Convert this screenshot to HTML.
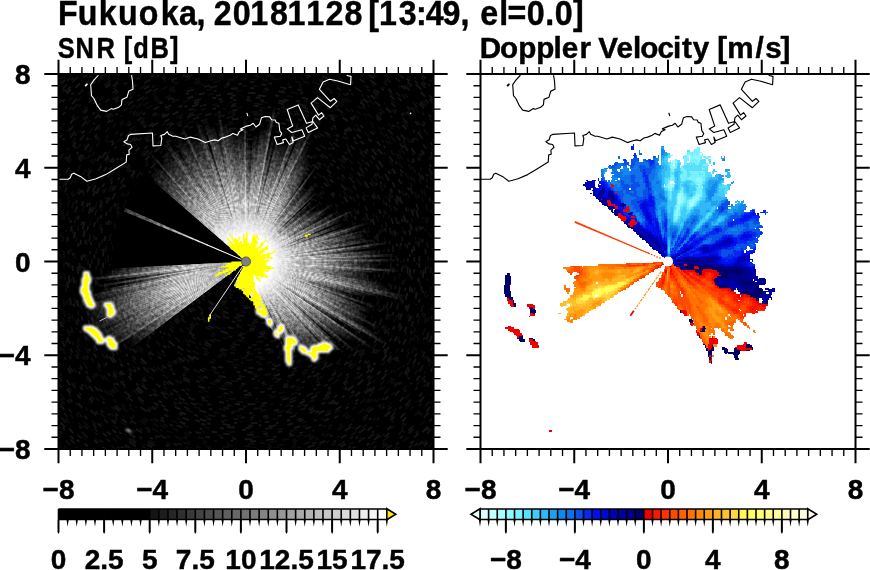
<!DOCTYPE html>
<html><head><meta charset="utf-8"><title>Fukuoka radar</title><style>html,body{margin:0;padding:0;background:#fff}svg{display:block}text{stroke:#000;stroke-width:.45px;stroke-linejoin:round}</style></head><body>
<svg width="870" height="570" viewBox="0 0 870 570" font-family="'Liberation Sans', sans-serif" font-weight="bold" fill="#000">
<rect width="870" height="570" fill="#fff"/>
<text transform="scale(0.92,1)" x="63.0 84.5 107.3 128.4 150.8 174.7 194.5 213.5 225.9 232.3 253.0 272.1 293.5 312.5 332.8 353.7 374.4 397.8 400.2 411.9 433.5 452.1 462.7 481.1 500.5 512.9 522.1 542.6 551.6 572.6 592.6 602.9 622.8" y="25" font-size="35">Fukuoka, 20181128 [13:49, el=0.0]</text>
<text transform="scale(0.877,1)" x="66.0 86.2 110.1 135.4 141.2 151.9 171.7 193.8" y="58" font-size="29">SNR [dB]</text>
<text transform="scale(1.022,1)" x="469.4 489.3 507.1 524.7 541.5 549.7 567.0 582.8 585.5 603.2 619.3 626.5 643.4 658.6 667.2 677.8 698.8 701.7 711.6 739.3 748.7 763.8" y="58" font-size="29">Doppler Velocity [m/s]</text>
<rect x="58.5" y="74.0" width="375.0" height="375.0" fill="#000"/>
<defs>
<radialGradient id="g50" gradientUnits="userSpaceOnUse" cx="246.0" cy="261.5" r="50"><stop offset="0" stop-color="#fff" stop-opacity="1"/><stop offset="0.3" stop-color="#fff" stop-opacity="1"/><stop offset="0.45" stop-color="#fff" stop-opacity="0.87"/><stop offset="0.6" stop-color="#fff" stop-opacity="0.6"/><stop offset="0.75" stop-color="#fff" stop-opacity="0.34"/><stop offset="0.9" stop-color="#fff" stop-opacity="0.13"/><stop offset="1" stop-color="#fff" stop-opacity="0"/></radialGradient>
<radialGradient id="g55" gradientUnits="userSpaceOnUse" cx="246.0" cy="261.5" r="55"><stop offset="0" stop-color="#fff" stop-opacity="1"/><stop offset="0.3" stop-color="#fff" stop-opacity="1"/><stop offset="0.45" stop-color="#fff" stop-opacity="0.87"/><stop offset="0.6" stop-color="#fff" stop-opacity="0.6"/><stop offset="0.75" stop-color="#fff" stop-opacity="0.34"/><stop offset="0.9" stop-color="#fff" stop-opacity="0.13"/><stop offset="1" stop-color="#fff" stop-opacity="0"/></radialGradient>
<radialGradient id="g60" gradientUnits="userSpaceOnUse" cx="246.0" cy="261.5" r="60"><stop offset="0" stop-color="#fff" stop-opacity="1"/><stop offset="0.3" stop-color="#fff" stop-opacity="1"/><stop offset="0.45" stop-color="#fff" stop-opacity="0.87"/><stop offset="0.6" stop-color="#fff" stop-opacity="0.6"/><stop offset="0.75" stop-color="#fff" stop-opacity="0.34"/><stop offset="0.9" stop-color="#fff" stop-opacity="0.13"/><stop offset="1" stop-color="#fff" stop-opacity="0"/></radialGradient>
<radialGradient id="g65" gradientUnits="userSpaceOnUse" cx="246.0" cy="261.5" r="65"><stop offset="0" stop-color="#fff" stop-opacity="1"/><stop offset="0.3" stop-color="#fff" stop-opacity="1"/><stop offset="0.45" stop-color="#fff" stop-opacity="0.87"/><stop offset="0.6" stop-color="#fff" stop-opacity="0.6"/><stop offset="0.75" stop-color="#fff" stop-opacity="0.34"/><stop offset="0.9" stop-color="#fff" stop-opacity="0.13"/><stop offset="1" stop-color="#fff" stop-opacity="0"/></radialGradient>
<radialGradient id="g70" gradientUnits="userSpaceOnUse" cx="246.0" cy="261.5" r="70"><stop offset="0" stop-color="#fff" stop-opacity="1"/><stop offset="0.3" stop-color="#fff" stop-opacity="1"/><stop offset="0.45" stop-color="#fff" stop-opacity="0.87"/><stop offset="0.6" stop-color="#fff" stop-opacity="0.6"/><stop offset="0.75" stop-color="#fff" stop-opacity="0.34"/><stop offset="0.9" stop-color="#fff" stop-opacity="0.13"/><stop offset="1" stop-color="#fff" stop-opacity="0"/></radialGradient>
<radialGradient id="g75" gradientUnits="userSpaceOnUse" cx="246.0" cy="261.5" r="75"><stop offset="0" stop-color="#fff" stop-opacity="1"/><stop offset="0.3" stop-color="#fff" stop-opacity="1"/><stop offset="0.45" stop-color="#fff" stop-opacity="0.87"/><stop offset="0.6" stop-color="#fff" stop-opacity="0.6"/><stop offset="0.75" stop-color="#fff" stop-opacity="0.34"/><stop offset="0.9" stop-color="#fff" stop-opacity="0.13"/><stop offset="1" stop-color="#fff" stop-opacity="0"/></radialGradient>
<radialGradient id="g80" gradientUnits="userSpaceOnUse" cx="246.0" cy="261.5" r="80"><stop offset="0" stop-color="#fff" stop-opacity="1"/><stop offset="0.3" stop-color="#fff" stop-opacity="1"/><stop offset="0.45" stop-color="#fff" stop-opacity="0.87"/><stop offset="0.6" stop-color="#fff" stop-opacity="0.6"/><stop offset="0.75" stop-color="#fff" stop-opacity="0.34"/><stop offset="0.9" stop-color="#fff" stop-opacity="0.13"/><stop offset="1" stop-color="#fff" stop-opacity="0"/></radialGradient>
<radialGradient id="g85" gradientUnits="userSpaceOnUse" cx="246.0" cy="261.5" r="85"><stop offset="0" stop-color="#fff" stop-opacity="1"/><stop offset="0.3" stop-color="#fff" stop-opacity="1"/><stop offset="0.45" stop-color="#fff" stop-opacity="0.87"/><stop offset="0.6" stop-color="#fff" stop-opacity="0.6"/><stop offset="0.75" stop-color="#fff" stop-opacity="0.34"/><stop offset="0.9" stop-color="#fff" stop-opacity="0.13"/><stop offset="1" stop-color="#fff" stop-opacity="0"/></radialGradient>
<radialGradient id="g90" gradientUnits="userSpaceOnUse" cx="246.0" cy="261.5" r="90"><stop offset="0" stop-color="#fff" stop-opacity="1"/><stop offset="0.3" stop-color="#fff" stop-opacity="1"/><stop offset="0.45" stop-color="#fff" stop-opacity="0.87"/><stop offset="0.6" stop-color="#fff" stop-opacity="0.6"/><stop offset="0.75" stop-color="#fff" stop-opacity="0.34"/><stop offset="0.9" stop-color="#fff" stop-opacity="0.13"/><stop offset="1" stop-color="#fff" stop-opacity="0"/></radialGradient>
<radialGradient id="g95" gradientUnits="userSpaceOnUse" cx="246.0" cy="261.5" r="95"><stop offset="0" stop-color="#fff" stop-opacity="1"/><stop offset="0.3" stop-color="#fff" stop-opacity="1"/><stop offset="0.45" stop-color="#fff" stop-opacity="0.87"/><stop offset="0.6" stop-color="#fff" stop-opacity="0.6"/><stop offset="0.75" stop-color="#fff" stop-opacity="0.34"/><stop offset="0.9" stop-color="#fff" stop-opacity="0.13"/><stop offset="1" stop-color="#fff" stop-opacity="0"/></radialGradient>
<radialGradient id="g100" gradientUnits="userSpaceOnUse" cx="246.0" cy="261.5" r="100"><stop offset="0" stop-color="#fff" stop-opacity="1"/><stop offset="0.3" stop-color="#fff" stop-opacity="1"/><stop offset="0.45" stop-color="#fff" stop-opacity="0.87"/><stop offset="0.6" stop-color="#fff" stop-opacity="0.6"/><stop offset="0.75" stop-color="#fff" stop-opacity="0.34"/><stop offset="0.9" stop-color="#fff" stop-opacity="0.13"/><stop offset="1" stop-color="#fff" stop-opacity="0"/></radialGradient>
<radialGradient id="g105" gradientUnits="userSpaceOnUse" cx="246.0" cy="261.5" r="105"><stop offset="0" stop-color="#fff" stop-opacity="1"/><stop offset="0.3" stop-color="#fff" stop-opacity="1"/><stop offset="0.45" stop-color="#fff" stop-opacity="0.87"/><stop offset="0.6" stop-color="#fff" stop-opacity="0.6"/><stop offset="0.75" stop-color="#fff" stop-opacity="0.34"/><stop offset="0.9" stop-color="#fff" stop-opacity="0.13"/><stop offset="1" stop-color="#fff" stop-opacity="0"/></radialGradient>
<radialGradient id="g110" gradientUnits="userSpaceOnUse" cx="246.0" cy="261.5" r="110"><stop offset="0" stop-color="#fff" stop-opacity="1"/><stop offset="0.3" stop-color="#fff" stop-opacity="1"/><stop offset="0.45" stop-color="#fff" stop-opacity="0.87"/><stop offset="0.6" stop-color="#fff" stop-opacity="0.6"/><stop offset="0.75" stop-color="#fff" stop-opacity="0.34"/><stop offset="0.9" stop-color="#fff" stop-opacity="0.13"/><stop offset="1" stop-color="#fff" stop-opacity="0"/></radialGradient>
<radialGradient id="g115" gradientUnits="userSpaceOnUse" cx="246.0" cy="261.5" r="115"><stop offset="0" stop-color="#fff" stop-opacity="1"/><stop offset="0.3" stop-color="#fff" stop-opacity="1"/><stop offset="0.45" stop-color="#fff" stop-opacity="0.87"/><stop offset="0.6" stop-color="#fff" stop-opacity="0.6"/><stop offset="0.75" stop-color="#fff" stop-opacity="0.34"/><stop offset="0.9" stop-color="#fff" stop-opacity="0.13"/><stop offset="1" stop-color="#fff" stop-opacity="0"/></radialGradient>
<radialGradient id="g120" gradientUnits="userSpaceOnUse" cx="246.0" cy="261.5" r="120"><stop offset="0" stop-color="#fff" stop-opacity="1"/><stop offset="0.3" stop-color="#fff" stop-opacity="1"/><stop offset="0.45" stop-color="#fff" stop-opacity="0.87"/><stop offset="0.6" stop-color="#fff" stop-opacity="0.6"/><stop offset="0.75" stop-color="#fff" stop-opacity="0.34"/><stop offset="0.9" stop-color="#fff" stop-opacity="0.13"/><stop offset="1" stop-color="#fff" stop-opacity="0"/></radialGradient>
<radialGradient id="g125" gradientUnits="userSpaceOnUse" cx="246.0" cy="261.5" r="125"><stop offset="0" stop-color="#fff" stop-opacity="1"/><stop offset="0.3" stop-color="#fff" stop-opacity="1"/><stop offset="0.45" stop-color="#fff" stop-opacity="0.87"/><stop offset="0.6" stop-color="#fff" stop-opacity="0.6"/><stop offset="0.75" stop-color="#fff" stop-opacity="0.34"/><stop offset="0.9" stop-color="#fff" stop-opacity="0.13"/><stop offset="1" stop-color="#fff" stop-opacity="0"/></radialGradient>
<radialGradient id="g130" gradientUnits="userSpaceOnUse" cx="246.0" cy="261.5" r="130"><stop offset="0" stop-color="#fff" stop-opacity="1"/><stop offset="0.3" stop-color="#fff" stop-opacity="1"/><stop offset="0.45" stop-color="#fff" stop-opacity="0.87"/><stop offset="0.6" stop-color="#fff" stop-opacity="0.6"/><stop offset="0.75" stop-color="#fff" stop-opacity="0.34"/><stop offset="0.9" stop-color="#fff" stop-opacity="0.13"/><stop offset="1" stop-color="#fff" stop-opacity="0"/></radialGradient>
<radialGradient id="g135" gradientUnits="userSpaceOnUse" cx="246.0" cy="261.5" r="135"><stop offset="0" stop-color="#fff" stop-opacity="1"/><stop offset="0.3" stop-color="#fff" stop-opacity="1"/><stop offset="0.45" stop-color="#fff" stop-opacity="0.87"/><stop offset="0.6" stop-color="#fff" stop-opacity="0.6"/><stop offset="0.75" stop-color="#fff" stop-opacity="0.34"/><stop offset="0.9" stop-color="#fff" stop-opacity="0.13"/><stop offset="1" stop-color="#fff" stop-opacity="0"/></radialGradient>
<radialGradient id="g140" gradientUnits="userSpaceOnUse" cx="246.0" cy="261.5" r="140"><stop offset="0" stop-color="#fff" stop-opacity="1"/><stop offset="0.3" stop-color="#fff" stop-opacity="1"/><stop offset="0.45" stop-color="#fff" stop-opacity="0.87"/><stop offset="0.6" stop-color="#fff" stop-opacity="0.6"/><stop offset="0.75" stop-color="#fff" stop-opacity="0.34"/><stop offset="0.9" stop-color="#fff" stop-opacity="0.13"/><stop offset="1" stop-color="#fff" stop-opacity="0"/></radialGradient>
<radialGradient id="g145" gradientUnits="userSpaceOnUse" cx="246.0" cy="261.5" r="145"><stop offset="0" stop-color="#fff" stop-opacity="1"/><stop offset="0.3" stop-color="#fff" stop-opacity="1"/><stop offset="0.45" stop-color="#fff" stop-opacity="0.87"/><stop offset="0.6" stop-color="#fff" stop-opacity="0.6"/><stop offset="0.75" stop-color="#fff" stop-opacity="0.34"/><stop offset="0.9" stop-color="#fff" stop-opacity="0.13"/><stop offset="1" stop-color="#fff" stop-opacity="0"/></radialGradient>
<radialGradient id="g150" gradientUnits="userSpaceOnUse" cx="246.0" cy="261.5" r="150"><stop offset="0" stop-color="#fff" stop-opacity="1"/><stop offset="0.3" stop-color="#fff" stop-opacity="1"/><stop offset="0.45" stop-color="#fff" stop-opacity="0.87"/><stop offset="0.6" stop-color="#fff" stop-opacity="0.6"/><stop offset="0.75" stop-color="#fff" stop-opacity="0.34"/><stop offset="0.9" stop-color="#fff" stop-opacity="0.13"/><stop offset="1" stop-color="#fff" stop-opacity="0"/></radialGradient>
<radialGradient id="g155" gradientUnits="userSpaceOnUse" cx="246.0" cy="261.5" r="155"><stop offset="0" stop-color="#fff" stop-opacity="1"/><stop offset="0.3" stop-color="#fff" stop-opacity="1"/><stop offset="0.45" stop-color="#fff" stop-opacity="0.87"/><stop offset="0.6" stop-color="#fff" stop-opacity="0.6"/><stop offset="0.75" stop-color="#fff" stop-opacity="0.34"/><stop offset="0.9" stop-color="#fff" stop-opacity="0.13"/><stop offset="1" stop-color="#fff" stop-opacity="0"/></radialGradient>
<radialGradient id="g160" gradientUnits="userSpaceOnUse" cx="246.0" cy="261.5" r="160"><stop offset="0" stop-color="#fff" stop-opacity="1"/><stop offset="0.3" stop-color="#fff" stop-opacity="1"/><stop offset="0.45" stop-color="#fff" stop-opacity="0.87"/><stop offset="0.6" stop-color="#fff" stop-opacity="0.6"/><stop offset="0.75" stop-color="#fff" stop-opacity="0.34"/><stop offset="0.9" stop-color="#fff" stop-opacity="0.13"/><stop offset="1" stop-color="#fff" stop-opacity="0"/></radialGradient>
<radialGradient id="g165" gradientUnits="userSpaceOnUse" cx="246.0" cy="261.5" r="165"><stop offset="0" stop-color="#fff" stop-opacity="1"/><stop offset="0.3" stop-color="#fff" stop-opacity="1"/><stop offset="0.45" stop-color="#fff" stop-opacity="0.87"/><stop offset="0.6" stop-color="#fff" stop-opacity="0.6"/><stop offset="0.75" stop-color="#fff" stop-opacity="0.34"/><stop offset="0.9" stop-color="#fff" stop-opacity="0.13"/><stop offset="1" stop-color="#fff" stop-opacity="0"/></radialGradient>
<radialGradient id="g170" gradientUnits="userSpaceOnUse" cx="246.0" cy="261.5" r="170"><stop offset="0" stop-color="#fff" stop-opacity="1"/><stop offset="0.3" stop-color="#fff" stop-opacity="1"/><stop offset="0.45" stop-color="#fff" stop-opacity="0.87"/><stop offset="0.6" stop-color="#fff" stop-opacity="0.6"/><stop offset="0.75" stop-color="#fff" stop-opacity="0.34"/><stop offset="0.9" stop-color="#fff" stop-opacity="0.13"/><stop offset="1" stop-color="#fff" stop-opacity="0"/></radialGradient>
<radialGradient id="core" gradientUnits="userSpaceOnUse" cx="246.0" cy="261.5" r="52"><stop offset="0" stop-color="#fff" stop-opacity="1"/><stop offset="0.5" stop-color="#fff" stop-opacity="1"/><stop offset="0.75" stop-color="#fff" stop-opacity="0.5"/><stop offset="1" stop-color="#fff" stop-opacity="0"/></radialGradient>
<clipPath id="cm"><polygon points="246.0,261.5 233.6,285.5 240.0,287.5 249.0,293.5 254.0,302.0 260.0,312.0 268.0,324.0 279.0,339.5 285.0,352.0 288.5,366.0 292.0,366.0 296.0,345.0 302.0,350.0 306.0,354.0 311.0,354.0 315.0,358.0 317.0,362.0 321.0,352.0 331.0,350.0 345.0,350.0 470.0,420.0 470.0,60.0 40.0,60.0 40.0,200.0"/></clipPath>
<clipPath id="cpl"><rect x="58.5" y="74.0" width="375.0" height="375.0"/></clipPath>
<filter id="grain" x="0" y="0" width="100%" height="100%" filterUnits="objectBoundingBox" color-interpolation-filters="sRGB"><feTurbulence type="fractalNoise" baseFrequency="0.33" numOctaves="2" seed="3" result="n"/><feColorMatrix in="n" type="matrix" values="2.2 0 0 0 -0.6  2.2 0 0 0 -0.6  2.2 0 0 0 -0.6  0 0 0 0 1" result="n1"/><feGaussianBlur in="SourceGraphic" stdDeviation="0.7" result="sg"/><feComposite in="sg" in2="sg" operator="arithmetic" k1="1" result="sq"/><feComposite in="sg" in2="sq" operator="arithmetic" k2="1" k3="-1" result="d"/><feComposite in="d" in2="n1" operator="arithmetic" k1="1" result="nd"/><feComposite in="sg" in2="d" operator="arithmetic" k2="1" k3="-0.5" result="o1"/><feComposite in="o1" in2="nd" operator="arithmetic" k2="1" k3="1.0"/></filter>
<filter id="bgn" x="0" y="0" width="100%" height="100%" color-interpolation-filters="sRGB"><feTurbulence type="fractalNoise" baseFrequency="0.38" numOctaves="2" seed="9" result="n"/><feColorMatrix in="n" type="matrix" values="1.6 0 0 0 -0.68  1.6 0 0 0 -0.68  1.6 0 0 0 -0.68  0 0 0 0 1"/></filter>
<filter id="soft" x="0" y="0" width="100%" height="100%"><feGaussianBlur stdDeviation="0.75"/></filter>
<filter id="halo" x="-20%" y="-20%" width="140%" height="140%"><feGaussianBlur stdDeviation="0.9"/></filter>
</defs>
<g clip-path="url(#cpl)">
<g fill="none" stroke-width="1.9" filter="url(#soft)" opacity="0.8">
<circle cx="246.0" cy="261.5" r="14.0" stroke="#181818" stroke-dasharray="2.7 10.5 5.9 16.0 4.4 8.7 7.5 20.9 7.1 6.9 7.1 14.7 3.8 7.3" stroke-dashoffset="43"/>
<circle cx="246.0" cy="261.5" r="16.6" stroke="#1e1e1e" stroke-dasharray="2.8 10.1 7.7 9.8 4.0 11.9 7.0 13.6 4.0 10.8 7.9 8.1 3.8 16.7" stroke-dashoffset="23"/>
<circle cx="246.0" cy="261.5" r="18.8" stroke="#181818" stroke-dasharray="6.1 19.8 6.4 15.3 3.4 15.7 3.2 18.3 6.7 9.5 5.9 19.8 4.9 5.4" stroke-dashoffset="30"/>
<circle cx="246.0" cy="261.5" r="20.9" stroke="#0c0c0c" stroke-dasharray="4.2 10.1 2.5 14.9 6.5 11.9 3.4 8.6 6.7 11.1 4.6 17.8 7.3 17.7" stroke-dashoffset="24"/>
<circle cx="246.0" cy="261.5" r="23.0" stroke="#1e1e1e" stroke-dasharray="6.0 5.5 4.6 5.3 3.9 6.3 5.5 7.7 7.4 21.1 3.7 9.0 7.7 7.4" stroke-dashoffset="39"/>
<circle cx="246.0" cy="261.5" r="25.5" stroke="#181818" stroke-dasharray="5.5 5.3 4.9 12.9 4.3 15.5 3.8 7.6 4.6 15.8 4.5 14.4 6.8 16.6" stroke-dashoffset="54"/>
<circle cx="246.0" cy="261.5" r="27.9" stroke="#121212" stroke-dasharray="4.5 12.0 3.9 18.7 2.9 6.7 3.9 9.5 3.6 19.5 4.3 15.3 2.9 5.5" stroke-dashoffset="14"/>
<circle cx="246.0" cy="261.5" r="30.1" stroke="#121212" stroke-dasharray="6.0 9.9 2.6 6.3 7.0 19.8 6.4 10.3 3.4 15.8 6.7 21.8 6.3 17.1" stroke-dashoffset="41"/>
<circle cx="246.0" cy="261.5" r="32.7" stroke="#0c0c0c" stroke-dasharray="2.7 17.0 5.2 14.3 4.7 19.1 7.2 8.9 6.1 9.2 6.8 8.4 6.6 21.4" stroke-dashoffset="0"/>
<circle cx="246.0" cy="261.5" r="34.6" stroke="#0c0c0c" stroke-dasharray="7.1 16.9 5.6 5.6 6.2 8.7 6.7 14.2 3.1 10.4 4.9 21.6 2.7 21.7" stroke-dashoffset="52"/>
<circle cx="246.0" cy="261.5" r="36.4" stroke="#101010" stroke-dasharray="4.5 9.0 3.6 20.8 2.9 13.4 2.7 13.8 4.3 7.2 3.7 9.3 2.6 13.4" stroke-dashoffset="12"/>
<circle cx="246.0" cy="261.5" r="38.9" stroke="#121212" stroke-dasharray="3.0 20.2 6.5 13.7 6.2 14.0 7.1 5.7 7.7 19.0 3.3 15.9 7.0 21.3" stroke-dashoffset="28"/>
<circle cx="246.0" cy="261.5" r="41.4" stroke="#121212" stroke-dasharray="4.9 10.9 4.4 21.2 6.0 11.9 4.5 11.7 7.8 17.0 3.1 6.7 3.1 14.0" stroke-dashoffset="25"/>
<circle cx="246.0" cy="261.5" r="43.9" stroke="#0c0c0c" stroke-dasharray="7.0 13.8 2.7 6.5 7.2 10.8 6.5 15.6 5.0 11.1 3.3 8.0 7.4 7.8" stroke-dashoffset="46"/>
<circle cx="246.0" cy="261.5" r="46.2" stroke="#1a1a1a" stroke-dasharray="5.1 17.7 4.6 20.2 3.5 21.8 3.7 5.4 7.2 18.1 4.2 15.9 2.5 20.6" stroke-dashoffset="14"/>
<circle cx="246.0" cy="261.5" r="48.4" stroke="#0c0c0c" stroke-dasharray="3.4 9.2 6.5 11.6 4.2 19.0 6.5 13.7 2.7 16.1 5.4 16.7 6.8 14.4" stroke-dashoffset="51"/>
<circle cx="246.0" cy="261.5" r="50.3" stroke="#0c0c0c" stroke-dasharray="6.8 20.4 5.2 14.5 4.2 14.6 7.6 14.1 7.9 6.8 5.3 12.3 5.5 18.5" stroke-dashoffset="24"/>
<circle cx="246.0" cy="261.5" r="52.7" stroke="#0c0c0c" stroke-dasharray="5.4 16.8 3.1 14.6 5.2 16.8 3.3 16.5 3.3 17.7 4.9 18.8 7.4 20.0" stroke-dashoffset="14"/>
<circle cx="246.0" cy="261.5" r="54.6" stroke="#1a1a1a" stroke-dasharray="5.4 10.9 7.1 5.8 7.3 13.8 6.4 9.8 2.6 5.5 4.3 20.4 7.7 8.7" stroke-dashoffset="12"/>
<circle cx="246.0" cy="261.5" r="57.0" stroke="#121212" stroke-dasharray="6.7 17.4 6.2 8.6 4.2 8.6 4.2 7.8 6.5 12.1 5.8 14.7 4.6 14.2" stroke-dashoffset="50"/>
<circle cx="246.0" cy="261.5" r="59.3" stroke="#181818" stroke-dasharray="4.1 12.4 4.5 7.6 7.0 12.0 5.1 16.3 3.3 6.8 7.4 7.8 3.1 5.7" stroke-dashoffset="22"/>
<circle cx="246.0" cy="261.5" r="61.6" stroke="#1a1a1a" stroke-dasharray="3.8 12.0 6.7 17.9 7.7 18.9 4.8 13.3 5.5 15.2 5.0 18.3 6.3 16.8" stroke-dashoffset="45"/>
<circle cx="246.0" cy="261.5" r="63.8" stroke="#121212" stroke-dasharray="4.6 6.2 7.5 7.8 3.1 21.7 5.0 19.6 2.9 11.0 7.6 12.5 3.8 11.0" stroke-dashoffset="44"/>
<circle cx="246.0" cy="261.5" r="65.7" stroke="#121212" stroke-dasharray="5.2 11.3 7.7 9.9 7.4 13.6 4.6 18.7 7.0 11.0 6.6 7.9 6.4 20.1" stroke-dashoffset="4"/>
<circle cx="246.0" cy="261.5" r="68.0" stroke="#1e1e1e" stroke-dasharray="4.9 13.7 5.5 15.9 5.9 19.2 2.9 5.8 3.1 10.7 4.4 11.1 2.6 11.4" stroke-dashoffset="38"/>
<circle cx="246.0" cy="261.5" r="70.1" stroke="#101010" stroke-dasharray="7.9 20.5 3.4 20.4 5.8 5.5 5.0 8.2 3.0 19.2 5.1 16.9 7.8 13.1" stroke-dashoffset="40"/>
<circle cx="246.0" cy="261.5" r="72.2" stroke="#121212" stroke-dasharray="7.5 13.0 5.9 19.3 6.8 9.2 6.2 9.9 4.2 17.3 4.3 18.0 2.5 9.3" stroke-dashoffset="40"/>
<circle cx="246.0" cy="261.5" r="74.2" stroke="#1e1e1e" stroke-dasharray="5.7 18.1 3.8 10.5 7.7 7.5 5.8 9.7 4.4 7.4 4.3 16.7 7.5 10.4" stroke-dashoffset="23"/>
<circle cx="246.0" cy="261.5" r="76.7" stroke="#181818" stroke-dasharray="3.7 5.6 5.6 7.7 6.5 13.7 3.5 8.3 4.4 18.6 6.0 11.6 4.1 11.9" stroke-dashoffset="32"/>
<circle cx="246.0" cy="261.5" r="79.3" stroke="#101010" stroke-dasharray="7.7 12.4 5.5 12.3 2.8 21.0 7.0 9.3 4.7 7.1 4.6 15.7 3.4 10.8" stroke-dashoffset="59"/>
<circle cx="246.0" cy="261.5" r="81.6" stroke="#101010" stroke-dasharray="6.9 20.4 3.2 19.1 4.1 17.5 5.3 21.2 3.9 6.1 4.1 16.4 2.7 20.8" stroke-dashoffset="41"/>
<circle cx="246.0" cy="261.5" r="83.8" stroke="#121212" stroke-dasharray="5.6 13.8 4.9 12.7 7.2 12.5 7.7 21.9 5.1 9.0 5.0 13.5 5.2 6.9" stroke-dashoffset="30"/>
<circle cx="246.0" cy="261.5" r="86.2" stroke="#181818" stroke-dasharray="4.3 15.2 3.5 14.2 3.4 12.5 5.1 16.9 5.2 19.6 3.5 6.9 5.7 11.5" stroke-dashoffset="35"/>
<circle cx="246.0" cy="261.5" r="88.7" stroke="#101010" stroke-dasharray="7.6 17.5 7.4 22.0 3.6 15.3 7.5 8.5 6.3 6.0 5.1 19.4 7.0 17.4" stroke-dashoffset="27"/>
<circle cx="246.0" cy="261.5" r="90.6" stroke="#1a1a1a" stroke-dasharray="6.6 13.6 5.3 5.7 3.4 5.4 5.6 15.6 3.1 20.1 6.1 9.9 7.2 12.4" stroke-dashoffset="43"/>
<circle cx="246.0" cy="261.5" r="92.6" stroke="#121212" stroke-dasharray="4.0 18.9 5.9 6.3 3.9 5.2 5.6 12.2 4.7 6.9 4.5 8.2 7.8 10.3" stroke-dashoffset="10"/>
<circle cx="246.0" cy="261.5" r="94.4" stroke="#101010" stroke-dasharray="2.7 18.3 5.8 21.4 3.4 18.4 6.0 11.4 3.8 11.1 4.8 12.3 7.4 20.2" stroke-dashoffset="1"/>
<circle cx="246.0" cy="261.5" r="96.4" stroke="#101010" stroke-dasharray="8.0 16.3 7.9 8.4 5.4 14.9 7.8 11.3 6.1 8.1 7.4 20.6 6.2 19.7" stroke-dashoffset="38"/>
<circle cx="246.0" cy="261.5" r="98.9" stroke="#101010" stroke-dasharray="6.4 10.9 5.6 7.8 6.2 5.2 4.8 6.3 5.9 14.7 5.7 5.7 7.5 6.7" stroke-dashoffset="37"/>
<circle cx="246.0" cy="261.5" r="101.4" stroke="#121212" stroke-dasharray="3.3 17.2 4.1 12.8 2.7 7.2 7.2 19.6 4.3 15.3 3.7 17.8 5.8 17.3" stroke-dashoffset="14"/>
<circle cx="246.0" cy="261.5" r="103.9" stroke="#101010" stroke-dasharray="6.2 17.1 4.7 16.5 4.9 5.3 4.3 18.9 7.9 15.6 3.8 14.8 6.8 15.5" stroke-dashoffset="50"/>
<circle cx="246.0" cy="261.5" r="106.5" stroke="#121212" stroke-dasharray="3.6 8.7 7.1 16.1 3.0 18.8 4.9 11.8 3.4 19.8 5.4 20.3 4.8 21.5" stroke-dashoffset="47"/>
<circle cx="246.0" cy="261.5" r="108.8" stroke="#1a1a1a" stroke-dasharray="6.3 12.0 5.2 10.5 3.6 20.9 5.0 20.7 6.0 11.6 7.6 16.8 2.6 9.7" stroke-dashoffset="3"/>
<circle cx="246.0" cy="261.5" r="110.8" stroke="#1e1e1e" stroke-dasharray="2.7 18.2 4.0 19.2 5.3 7.4 3.6 20.3 5.1 19.2 7.8 15.8 7.6 10.8" stroke-dashoffset="24"/>
<circle cx="246.0" cy="261.5" r="113.2" stroke="#101010" stroke-dasharray="3.5 5.9 4.1 19.7 7.3 5.7 6.6 18.8 3.0 19.2 5.5 9.3 4.2 13.0" stroke-dashoffset="53"/>
<circle cx="246.0" cy="261.5" r="115.1" stroke="#121212" stroke-dasharray="5.4 7.3 5.3 14.0 7.5 16.9 2.9 17.6 6.6 5.4 5.1 8.3 7.0 19.5" stroke-dashoffset="50"/>
<circle cx="246.0" cy="261.5" r="117.6" stroke="#1e1e1e" stroke-dasharray="4.2 14.1 6.7 18.9 3.0 11.0 3.5 11.2 7.5 15.4 4.7 17.5 6.9 15.4" stroke-dashoffset="8"/>
<circle cx="246.0" cy="261.5" r="120.1" stroke="#101010" stroke-dasharray="6.8 20.6 6.8 15.5 5.2 11.5 3.1 18.8 7.9 8.4 5.7 17.2 8.0 12.4" stroke-dashoffset="40"/>
<circle cx="246.0" cy="261.5" r="122.5" stroke="#1a1a1a" stroke-dasharray="4.9 9.1 5.8 6.3 4.7 7.7 5.1 15.5 6.9 7.2 4.0 12.2 3.8 15.5" stroke-dashoffset="25"/>
<circle cx="246.0" cy="261.5" r="124.4" stroke="#0c0c0c" stroke-dasharray="4.2 8.7 7.5 5.8 5.5 9.1 7.6 10.9 3.8 9.0 5.5 7.9 5.2 17.2" stroke-dashoffset="19"/>
<circle cx="246.0" cy="261.5" r="126.7" stroke="#0c0c0c" stroke-dasharray="5.5 9.2 5.9 11.8 3.1 10.9 6.2 5.6 6.4 6.4 5.4 13.6 3.0 13.4" stroke-dashoffset="42"/>
<circle cx="246.0" cy="261.5" r="129.3" stroke="#181818" stroke-dasharray="3.1 13.4 4.6 8.5 4.3 11.9 4.6 20.0 4.6 16.6 7.1 20.3 4.6 11.4" stroke-dashoffset="4"/>
<circle cx="246.0" cy="261.5" r="131.5" stroke="#181818" stroke-dasharray="4.0 21.1 5.2 18.5 5.3 9.1 3.5 14.1 3.6 20.1 2.5 18.9 7.6 11.8" stroke-dashoffset="7"/>
<circle cx="246.0" cy="261.5" r="133.5" stroke="#1a1a1a" stroke-dasharray="7.5 9.0 3.8 7.2 5.2 15.3 3.6 20.1 7.8 15.9 4.7 19.5 7.0 9.2" stroke-dashoffset="4"/>
<circle cx="246.0" cy="261.5" r="135.9" stroke="#0c0c0c" stroke-dasharray="2.9 19.7 3.2 11.8 6.5 6.5 5.8 16.8 6.0 18.7 3.2 13.9 6.5 21.1" stroke-dashoffset="6"/>
<circle cx="246.0" cy="261.5" r="138.1" stroke="#101010" stroke-dasharray="7.9 14.1 7.9 20.5 7.9 11.1 2.5 20.1 7.2 6.7 4.7 15.7 3.4 18.6" stroke-dashoffset="13"/>
<circle cx="246.0" cy="261.5" r="140.5" stroke="#0c0c0c" stroke-dasharray="4.9 16.1 3.2 17.0 4.1 20.6 7.0 5.4 6.7 20.4 4.3 12.2 7.4 6.3" stroke-dashoffset="34"/>
<circle cx="246.0" cy="261.5" r="142.9" stroke="#1e1e1e" stroke-dasharray="6.7 15.6 5.2 6.5 7.8 7.6 5.0 11.3 4.9 14.5 3.8 17.6 3.1 9.9" stroke-dashoffset="58"/>
<circle cx="246.0" cy="261.5" r="145.0" stroke="#121212" stroke-dasharray="4.1 10.7 5.1 18.7 7.4 13.3 3.9 18.4 7.4 17.1 2.5 5.5 4.7 13.7" stroke-dashoffset="38"/>
<circle cx="246.0" cy="261.5" r="147.5" stroke="#181818" stroke-dasharray="4.9 9.8 5.4 12.2 4.3 13.3 6.9 11.2 6.7 7.5 2.8 18.4 7.9 10.3" stroke-dashoffset="9"/>
<circle cx="246.0" cy="261.5" r="149.9" stroke="#101010" stroke-dasharray="7.8 6.5 7.5 15.6 7.1 16.1 5.4 10.6 3.6 12.4 5.8 18.7 5.8 21.0" stroke-dashoffset="46"/>
<circle cx="246.0" cy="261.5" r="151.7" stroke="#1a1a1a" stroke-dasharray="5.0 21.4 3.9 14.7 2.8 19.2 3.7 12.8 6.4 6.4 6.3 6.6 3.3 11.5" stroke-dashoffset="43"/>
<circle cx="246.0" cy="261.5" r="154.2" stroke="#101010" stroke-dasharray="6.9 5.5 2.8 5.3 7.6 21.4 3.5 10.3 5.2 17.8 6.1 13.0 6.2 6.0" stroke-dashoffset="52"/>
<circle cx="246.0" cy="261.5" r="156.0" stroke="#1a1a1a" stroke-dasharray="5.1 9.2 3.4 5.8 3.5 15.1 4.9 15.3 7.3 18.9 3.7 15.1 4.8 17.8" stroke-dashoffset="37"/>
<circle cx="246.0" cy="261.5" r="158.0" stroke="#121212" stroke-dasharray="6.4 7.5 3.4 7.1 5.4 8.1 4.8 11.0 3.2 12.0 5.0 17.8 7.7 19.1" stroke-dashoffset="50"/>
<circle cx="246.0" cy="261.5" r="160.0" stroke="#0c0c0c" stroke-dasharray="4.0 15.0 4.8 9.5 5.3 15.1 4.1 12.8 7.8 10.9 3.6 16.0 6.0 10.4" stroke-dashoffset="16"/>
<circle cx="246.0" cy="261.5" r="161.8" stroke="#1a1a1a" stroke-dasharray="4.2 14.3 6.1 21.2 4.7 7.0 6.8 13.9 3.4 9.5 3.6 10.0 4.2 9.4" stroke-dashoffset="52"/>
<circle cx="246.0" cy="261.5" r="164.3" stroke="#1e1e1e" stroke-dasharray="2.8 5.7 4.9 18.2 7.4 16.7 6.6 14.7 6.5 20.5 3.4 8.6 2.8 14.4" stroke-dashoffset="24"/>
<circle cx="246.0" cy="261.5" r="166.4" stroke="#1e1e1e" stroke-dasharray="7.9 16.9 3.1 7.4 5.0 13.9 3.9 15.2 4.5 21.8 8.0 17.8 5.4 10.4" stroke-dashoffset="10"/>
<circle cx="246.0" cy="261.5" r="168.5" stroke="#1e1e1e" stroke-dasharray="3.7 17.9 3.9 15.4 4.0 12.6 7.0 15.8 4.9 6.3 5.7 15.2 7.4 19.7" stroke-dashoffset="14"/>
<circle cx="246.0" cy="261.5" r="171.0" stroke="#0c0c0c" stroke-dasharray="5.8 13.8 7.4 18.0 6.9 22.0 6.1 20.7 4.6 20.1 6.1 11.4 4.3 6.7" stroke-dashoffset="48"/>
<circle cx="246.0" cy="261.5" r="173.4" stroke="#1e1e1e" stroke-dasharray="5.8 9.8 2.5 14.9 6.4 12.3 4.4 10.1 4.7 9.8 6.7 17.4 6.5 5.7" stroke-dashoffset="50"/>
<circle cx="246.0" cy="261.5" r="175.5" stroke="#0c0c0c" stroke-dasharray="6.9 21.3 4.4 5.9 7.4 17.1 2.6 9.5 6.0 11.3 3.9 13.9 5.5 6.3" stroke-dashoffset="20"/>
<circle cx="246.0" cy="261.5" r="177.7" stroke="#1a1a1a" stroke-dasharray="3.1 12.4 3.2 21.1 7.8 8.5 4.1 8.6 3.9 19.1 5.5 14.0 6.2 14.4" stroke-dashoffset="31"/>
<circle cx="246.0" cy="261.5" r="179.8" stroke="#1a1a1a" stroke-dasharray="7.7 10.1 6.4 17.0 2.6 20.5 4.6 14.3 3.3 16.8 3.6 5.7 4.9 15.6" stroke-dashoffset="12"/>
<circle cx="246.0" cy="261.5" r="182.2" stroke="#101010" stroke-dasharray="4.5 5.3 6.5 19.4 2.6 9.3 3.3 9.7 6.6 7.8 7.3 5.0 7.0 5.2" stroke-dashoffset="31"/>
<circle cx="246.0" cy="261.5" r="184.7" stroke="#101010" stroke-dasharray="3.3 17.3 5.4 11.6 6.2 20.5 4.5 14.9 4.4 19.5 6.7 8.4 3.9 21.9" stroke-dashoffset="32"/>
<circle cx="246.0" cy="261.5" r="186.8" stroke="#0c0c0c" stroke-dasharray="7.3 5.2 4.7 11.9 6.2 21.0 5.8 17.1 4.0 15.5 5.3 11.4 5.0 8.8" stroke-dashoffset="4"/>
<circle cx="246.0" cy="261.5" r="189.0" stroke="#101010" stroke-dasharray="6.6 21.3 4.6 10.6 7.5 18.1 5.1 16.3 3.6 5.6 7.3 13.8 2.7 13.9" stroke-dashoffset="11"/>
<circle cx="246.0" cy="261.5" r="191.4" stroke="#101010" stroke-dasharray="6.7 14.7 2.7 9.1 7.7 7.8 6.8 5.6 4.0 5.2 7.3 7.0 5.3 6.5" stroke-dashoffset="28"/>
<circle cx="246.0" cy="261.5" r="194.0" stroke="#181818" stroke-dasharray="4.6 12.0 7.6 10.9 5.7 15.1 2.7 11.6 7.5 19.1 4.0 18.7 3.6 14.2" stroke-dashoffset="42"/>
<circle cx="246.0" cy="261.5" r="196.0" stroke="#1a1a1a" stroke-dasharray="5.9 5.7 7.2 8.7 3.9 15.3 4.5 6.8 2.6 13.6 6.2 14.3 7.5 21.9" stroke-dashoffset="22"/>
<circle cx="246.0" cy="261.5" r="198.0" stroke="#0c0c0c" stroke-dasharray="7.8 14.8 6.2 9.1 3.3 13.8 4.2 7.8 3.9 5.6 2.9 9.6 4.9 9.8" stroke-dashoffset="50"/>
<circle cx="246.0" cy="261.5" r="200.4" stroke="#1a1a1a" stroke-dasharray="3.2 9.8 7.0 10.5 6.4 5.1 3.1 15.0 2.9 14.1 6.6 14.9 3.1 14.4" stroke-dashoffset="53"/>
<circle cx="246.0" cy="261.5" r="202.9" stroke="#101010" stroke-dasharray="6.2 13.9 5.5 16.8 6.1 16.4 3.3 7.1 6.4 5.9 7.6 16.9 5.3 11.1" stroke-dashoffset="15"/>
<circle cx="246.0" cy="261.5" r="205.4" stroke="#181818" stroke-dasharray="7.0 13.8 2.5 6.3 2.8 19.8 4.2 12.4 3.2 14.4 7.7 6.7 3.3 6.8" stroke-dashoffset="2"/>
<circle cx="246.0" cy="261.5" r="207.9" stroke="#1e1e1e" stroke-dasharray="3.9 16.2 5.7 21.2 5.4 14.2 7.1 16.7 5.7 11.3 2.7 11.8 5.3 10.7" stroke-dashoffset="37"/>
<circle cx="246.0" cy="261.5" r="210.4" stroke="#0c0c0c" stroke-dasharray="3.0 18.1 2.9 5.9 6.2 5.9 3.2 7.5 6.1 10.0 7.6 12.4 5.5 19.7" stroke-dashoffset="41"/>
<circle cx="246.0" cy="261.5" r="212.5" stroke="#181818" stroke-dasharray="3.2 14.3 5.2 8.1 4.0 21.1 3.5 5.8 6.6 21.1 3.2 8.2 7.9 8.9" stroke-dashoffset="18"/>
<circle cx="246.0" cy="261.5" r="214.9" stroke="#1a1a1a" stroke-dasharray="3.7 21.5 8.0 15.7 5.3 21.5 7.7 14.7 5.3 12.2 6.2 15.6 5.5 8.7" stroke-dashoffset="27"/>
<circle cx="246.0" cy="261.5" r="217.3" stroke="#101010" stroke-dasharray="7.4 16.5 2.9 17.5 3.6 20.7 5.6 12.6 4.8 19.4 3.7 16.6 7.3 21.1" stroke-dashoffset="5"/>
<circle cx="246.0" cy="261.5" r="219.7" stroke="#1e1e1e" stroke-dasharray="6.0 17.2 5.0 7.8 4.8 21.7 6.4 12.3 5.7 9.1 7.5 6.1 2.8 8.4" stroke-dashoffset="16"/>
<circle cx="246.0" cy="261.5" r="221.6" stroke="#0c0c0c" stroke-dasharray="6.0 21.5 5.8 20.1 4.2 5.5 5.3 20.9 5.1 8.7 5.9 5.0 7.7 8.4" stroke-dashoffset="35"/>
<circle cx="246.0" cy="261.5" r="223.5" stroke="#1a1a1a" stroke-dasharray="4.1 18.5 4.0 14.1 7.7 20.4 5.3 17.1 6.3 17.5 5.0 8.0 5.1 8.0" stroke-dashoffset="37"/>
<circle cx="246.0" cy="261.5" r="225.8" stroke="#121212" stroke-dasharray="4.8 19.1 4.6 21.7 4.3 15.9 7.8 8.5 5.1 11.0 5.5 15.5 6.8 11.6" stroke-dashoffset="13"/>
<circle cx="246.0" cy="261.5" r="228.2" stroke="#101010" stroke-dasharray="7.3 17.1 3.8 7.2 7.6 8.2 3.7 18.0 6.9 11.8 7.8 21.4 3.3 11.4" stroke-dashoffset="47"/>
<circle cx="246.0" cy="261.5" r="230.6" stroke="#121212" stroke-dasharray="5.3 17.7 5.1 6.6 6.9 7.0 3.3 21.3 7.5 14.0 6.1 19.3 4.7 15.5" stroke-dashoffset="25"/>
<circle cx="246.0" cy="261.5" r="232.8" stroke="#0c0c0c" stroke-dasharray="7.7 5.0 5.5 12.0 3.2 21.0 3.0 18.2 4.5 8.2 5.4 21.3 5.9 16.2" stroke-dashoffset="2"/>
<circle cx="246.0" cy="261.5" r="234.6" stroke="#1a1a1a" stroke-dasharray="4.9 16.6 3.9 21.7 5.9 19.8 6.4 7.8 3.8 10.2 7.5 20.8 4.3 6.1" stroke-dashoffset="30"/>
<circle cx="246.0" cy="261.5" r="236.8" stroke="#181818" stroke-dasharray="7.8 16.8 7.8 20.6 5.7 5.9 7.4 15.3 6.5 13.3 3.2 16.3 7.1 7.0" stroke-dashoffset="42"/>
<circle cx="246.0" cy="261.5" r="239.2" stroke="#0c0c0c" stroke-dasharray="6.0 6.3 5.3 11.3 7.7 9.0 5.6 18.8 5.5 17.1 6.9 7.4 8.0 10.5" stroke-dashoffset="21"/>
<circle cx="246.0" cy="261.5" r="241.6" stroke="#181818" stroke-dasharray="7.5 15.8 5.9 20.6 2.6 21.6 3.2 21.6 5.4 5.3 6.4 18.9 4.5 16.6" stroke-dashoffset="42"/>
<circle cx="246.0" cy="261.5" r="243.4" stroke="#1e1e1e" stroke-dasharray="3.1 6.4 6.5 20.0 6.5 6.0 6.0 9.1 3.1 16.1 4.0 15.6 6.2 19.3" stroke-dashoffset="40"/>
<circle cx="246.0" cy="261.5" r="245.5" stroke="#1e1e1e" stroke-dasharray="7.7 18.3 3.3 17.0 7.0 20.9 7.8 12.4 4.7 10.4 5.1 7.6 5.9 17.3" stroke-dashoffset="39"/>
<circle cx="246.0" cy="261.5" r="247.5" stroke="#1a1a1a" stroke-dasharray="7.5 16.2 4.4 16.4 7.7 16.6 4.9 7.8 3.6 20.4 4.3 10.4 3.7 12.4" stroke-dashoffset="35"/>
<circle cx="246.0" cy="261.5" r="249.8" stroke="#181818" stroke-dasharray="6.6 13.0 4.7 16.6 6.4 14.5 3.9 9.9 3.5 9.9 7.7 12.8 2.6 6.6" stroke-dashoffset="54"/>
<circle cx="246.0" cy="261.5" r="252.0" stroke="#181818" stroke-dasharray="6.5 16.9 7.9 21.5 6.8 5.9 3.5 22.0 7.1 21.0 3.8 19.1 4.3 9.9" stroke-dashoffset="9"/>
<circle cx="246.0" cy="261.5" r="254.1" stroke="#121212" stroke-dasharray="6.5 6.5 6.9 19.1 5.6 20.3 4.5 5.0 3.4 15.6 5.5 5.7 7.7 9.7" stroke-dashoffset="17"/>
<circle cx="246.0" cy="261.5" r="256.5" stroke="#1a1a1a" stroke-dasharray="3.8 8.1 5.8 17.4 7.0 11.5 5.1 5.6 7.4 16.0 4.9 10.0 2.5 20.1" stroke-dashoffset="12"/>
<circle cx="246.0" cy="261.5" r="258.3" stroke="#101010" stroke-dasharray="5.8 19.7 4.5 17.8 6.1 10.8 6.0 14.3 6.2 7.8 2.5 21.8 3.5 11.7" stroke-dashoffset="49"/>
<circle cx="246.0" cy="261.5" r="260.2" stroke="#101010" stroke-dasharray="6.1 20.2 5.6 14.6 6.8 6.6 3.4 5.5 6.7 18.2 4.8 21.5 7.0 10.9" stroke-dashoffset="6"/>
<circle cx="246.0" cy="261.5" r="262.6" stroke="#0c0c0c" stroke-dasharray="5.1 16.8 5.9 20.2 4.0 20.2 7.4 10.7 3.7 14.4 5.3 13.8 4.5 16.8" stroke-dashoffset="1"/>
<circle cx="246.0" cy="261.5" r="264.7" stroke="#1e1e1e" stroke-dasharray="4.9 18.6 3.4 18.3 2.9 13.1 5.2 11.5 3.9 12.9 3.8 15.1 4.8 17.6" stroke-dashoffset="53"/>
<circle cx="246.0" cy="261.5" r="267.1" stroke="#1a1a1a" stroke-dasharray="5.4 10.4 6.2 5.0 5.6 21.1 7.8 19.0 6.6 10.3 6.6 6.7 6.4 18.5" stroke-dashoffset="17"/>
</g>
<path d="M246.0 261.5L145.6 172.7A134 134 0 0 0 112.2 268.5z" fill="#000"/>
<g filter="url(#grain)">
<g clip-path="url(#cm)"><path d="M246.0 261.5L247.6 351.5L323.9 306.5zM246.0 261.5L323.9 306.5L330.6 230.7zM246.0 261.5L330.6 230.7L276.8 176.9zM246.0 261.5L276.8 176.9L215.2 176.9zM246.0 261.5L215.2 176.9L178.6 201.9zM246.0 261.5L156.1 266.2L173.7 315.2z" fill="url(#core)"/></g>
<g clip-path="url(#cm)">
<path d="M246.0 261.5L247.9 368.6L249.7 368.5z" fill="url(#g105)" fill-opacity="0.93"/>
<path d="M246.0 261.5L249.4 358.3L251.1 358.3z" fill="url(#g95)" fill-opacity="0.83"/>
<path d="M246.0 261.5L251.3 363.4L253.1 363.3z" fill="url(#g100)" fill-opacity="0.91"/>
<path d="M246.0 261.5L252.4 353.1L254.0 353.0z" fill="url(#g90)" fill-opacity="0.87"/>
<path d="M246.0 261.5L254.9 363.1L256.7 362.9z" fill="url(#g100)" fill-opacity="0.91"/>
<path d="M246.0 261.5L256.1 357.9L257.8 357.7z" fill="url(#g95)" fill-opacity="0.86"/>
<path d="M246.0 261.5L258.4 362.7L260.2 362.5z" fill="url(#g100)" fill-opacity="0.96"/>
<path d="M246.0 261.5L260.2 362.5L262.0 362.2z" fill="url(#g100)" fill-opacity="0.92"/>
<path d="M246.0 261.5L263.6 372.3L265.5 372.0z" fill="url(#g110)" fill-opacity="1.00"/>
<path d="M246.0 261.5L265.5 372.0L267.4 371.6z" fill="url(#g110)" fill-opacity="0.95"/>
<path d="M246.0 261.5L266.4 366.6L268.3 366.3z" fill="url(#g105)" fill-opacity="0.88"/>
<path d="M246.0 261.5L269.3 371.2L271.2 370.8z" fill="url(#g110)" fill-opacity="0.92"/>
<path d="M246.0 261.5L272.4 375.8L274.4 375.3z" fill="url(#g115)" fill-opacity="1.00"/>
<path d="M246.0 261.5L273.1 370.4L275.0 369.9z" fill="url(#g110)" fill-opacity="0.98"/>
<path d="M246.0 261.5L273.7 365.0L275.5 364.5z" fill="url(#g105)" fill-opacity="0.95"/>
<path d="M246.0 261.5L271.3 349.7L272.8 349.3z" fill="url(#g90)" fill-opacity="0.83"/>
<path d="M246.0 261.5L275.8 359.0L277.5 358.5z" fill="url(#g100)" fill-opacity="0.94"/>
<path d="M246.0 261.5L277.5 358.5L279.2 357.9z" fill="url(#g100)" fill-opacity="0.92"/>
<path d="M246.0 261.5L279.2 357.9L280.9 357.3z" fill="url(#g100)" fill-opacity="0.99"/>
<path d="M246.0 261.5L286.1 371.7L288.0 371.0z" fill="url(#g115)" fill-opacity="1.00"/>
<path d="M246.0 261.5L280.7 352.0L282.3 351.3z" fill="url(#g95)" fill-opacity="0.99"/>
<path d="M246.0 261.5L282.3 351.3L283.9 350.7z" fill="url(#g95)" fill-opacity="1.00"/>
<path d="M246.0 261.5L283.9 350.7L285.4 350.0z" fill="url(#g95)" fill-opacity="1.00"/>
<path d="M246.0 261.5L277.1 331.4L278.3 330.8z" fill="url(#g75)" fill-opacity="0.78"/>
<path d="M246.0 261.5L289.1 353.9L290.7 353.2z" fill="url(#g100)" fill-opacity="0.98"/>
<path d="M246.0 261.5L292.9 357.8L294.6 356.9z" fill="url(#g105)" fill-opacity="1.00"/>
<path d="M246.0 261.5L294.6 356.9L296.3 356.1z" fill="url(#g105)" fill-opacity="0.86"/>
<path d="M246.0 261.5L308.3 378.6L310.3 377.5z" fill="url(#g130)" fill-opacity="0.95"/>
<path d="M246.0 261.5L312.8 381.9L314.9 380.8z" fill="url(#g135)" fill-opacity="1.00"/>
<path d="M246.0 261.5L307.2 367.5L309.0 366.4z" fill="url(#g120)" fill-opacity="0.91"/>
<path d="M246.0 261.5L301.2 353.3L302.8 352.3z" fill="url(#g105)" fill-opacity="0.81"/>
<path d="M246.0 261.5L310.9 365.3L312.7 364.2z" fill="url(#g120)" fill-opacity="0.92"/>
<path d="M246.0 261.5L321.0 377.0L323.0 375.7z" fill="url(#g135)" fill-opacity="0.95"/>
<path d="M246.0 261.5L314.4 363.0L316.2 361.8z" fill="url(#g120)" fill-opacity="0.92"/>
<path d="M246.0 261.5L316.2 361.8L317.9 360.5z" fill="url(#g120)" fill-opacity="0.92"/>
<path d="M246.0 261.5L320.9 364.6L322.7 363.3z" fill="url(#g125)" fill-opacity="0.93"/>
<path d="M246.0 261.5L322.7 363.3L324.5 362.0z" fill="url(#g125)" fill-opacity="0.93"/>
<path d="M246.0 261.5L324.5 362.0L326.2 360.6z" fill="url(#g125)" fill-opacity="0.90"/>
<path d="M246.0 261.5L326.2 360.6L328.0 359.2z" fill="url(#g125)" fill-opacity="0.89"/>
<path d="M246.0 261.5L331.2 363.1L333.0 361.6z" fill="url(#g130)" fill-opacity="0.91"/>
<path d="M246.0 261.5L336.3 365.4L338.1 363.8z" fill="url(#g135)" fill-opacity="0.94"/>
<path d="M246.0 261.5L324.5 348.7L326.0 347.3z" fill="url(#g115)" fill-opacity="0.79"/>
<path d="M246.0 261.5L339.9 362.2L341.7 360.6z" fill="url(#g135)" fill-opacity="0.98"/>
<path d="M246.0 261.5L352.3 371.6L354.2 369.7z" fill="url(#g150)" fill-opacity="0.99"/>
<path d="M246.0 261.5L343.4 358.9L345.1 357.2z" fill="url(#g135)" fill-opacity="1.00"/>
<path d="M246.0 261.5L352.4 364.2L354.2 362.4z" fill="url(#g145)" fill-opacity="1.00"/>
<path d="M246.0 261.5L339.2 348.5L340.8 346.8z" fill="url(#g125)" fill-opacity="0.91"/>
<path d="M246.0 261.5L325.6 333.2L326.8 331.8z" fill="url(#g105)" fill-opacity="0.80"/>
<path d="M246.0 261.5L342.2 345.1L343.7 343.5z" fill="url(#g125)" fill-opacity="0.96"/>
<path d="M246.0 261.5L355.4 353.3L357.0 351.4z" fill="url(#g140)" fill-opacity="0.99"/>
<path d="M246.0 261.5L345.1 341.7L346.5 340.0z" fill="url(#g125)" fill-opacity="0.90"/>
<path d="M246.0 261.5L350.5 343.1L351.9 341.3z" fill="url(#g130)" fill-opacity="0.95"/>
<path d="M246.0 261.5L356.0 344.4L357.4 342.4z" fill="url(#g135)" fill-opacity="0.97"/>
<path d="M246.0 261.5L357.4 342.4L358.8 340.5z" fill="url(#g135)" fill-opacity="0.97"/>
<path d="M246.0 261.5L375.5 352.2L377.1 349.9z" fill="url(#g155)" fill-opacity="1.00"/>
<path d="M246.0 261.5L339.0 324.2L340.1 322.6z" fill="url(#g110)" fill-opacity="0.72"/>
<path d="M246.0 261.5L344.4 325.4L345.5 323.7z" fill="url(#g115)" fill-opacity="0.78"/>
<path d="M246.0 261.5L367.1 337.2L368.4 335.0z" fill="url(#g140)" fill-opacity="0.92"/>
<path d="M246.0 261.5L390.3 348.2L391.8 345.6z" fill="url(#g165)" fill-opacity="1.00"/>
<path d="M246.0 261.5L378.5 338.0L379.8 335.7z" fill="url(#g150)" fill-opacity="1.00"/>
<path d="M246.0 261.5L366.4 328.3L367.6 326.1z" fill="url(#g135)" fill-opacity="0.89"/>
<path d="M246.0 261.5L367.6 326.1L368.7 324.0z" fill="url(#g135)" fill-opacity="0.89"/>
<path d="M246.0 261.5L382.3 331.0L383.5 328.6z" fill="url(#g150)" fill-opacity="0.99"/>
<path d="M246.0 261.5L369.8 321.9L370.8 319.7z" fill="url(#g135)" fill-opacity="1.00"/>
<path d="M246.0 261.5L370.8 319.7L371.8 317.5z" fill="url(#g135)" fill-opacity="1.00"/>
<path d="M246.0 261.5L367.1 315.4L368.1 313.3z" fill="url(#g130)" fill-opacity="0.94"/>
<path d="M246.0 261.5L372.8 315.3L373.7 313.1z" fill="url(#g135)" fill-opacity="0.98"/>
<path d="M246.0 261.5L373.7 313.1L374.6 310.8z" fill="url(#g135)" fill-opacity="0.97"/>
<path d="M246.0 261.5L360.3 305.4L361.0 303.4z" fill="url(#g120)" fill-opacity="0.88"/>
<path d="M246.0 261.5L375.4 308.6L376.2 306.3z" fill="url(#g135)" fill-opacity="0.97"/>
<path d="M246.0 261.5L356.9 299.7L357.6 297.7z" fill="url(#g115)" fill-opacity="0.86"/>
<path d="M246.0 261.5L352.7 296.2L353.3 294.3z" fill="url(#g110)" fill-opacity="0.83"/>
<path d="M246.0 261.5L367.9 298.8L368.6 296.6z" fill="url(#g125)" fill-opacity="0.90"/>
<path d="M246.0 261.5L373.5 298.0L374.1 295.8z" fill="url(#g130)" fill-opacity="0.90"/>
<path d="M246.0 261.5L383.9 298.5L384.6 296.0z" fill="url(#g140)" fill-opacity="0.95"/>
<path d="M246.0 261.5L409.3 302.2L410.0 299.4z" fill="url(#g165)" fill-opacity="0.96"/>
<path d="M246.0 261.5L410.0 299.4L410.6 296.5z" fill="url(#g165)" fill-opacity="0.94"/>
<path d="M246.0 261.5L395.7 293.3L396.2 290.7z" fill="url(#g150)" fill-opacity="0.93"/>
<path d="M246.0 261.5L391.2 289.7L391.7 287.2z" fill="url(#g145)" fill-opacity="0.98"/>
<path d="M246.0 261.5L386.6 286.3L387.0 283.8z" fill="url(#g140)" fill-opacity="0.98"/>
<path d="M246.0 261.5L377.0 282.2L377.3 280.0z" fill="url(#g130)" fill-opacity="0.92"/>
<path d="M246.0 261.5L372.3 279.2L372.5 277.0z" fill="url(#g125)" fill-opacity="0.94"/>
<path d="M246.0 261.5L372.5 277.0L372.8 274.8z" fill="url(#g125)" fill-opacity="0.97"/>
<path d="M246.0 261.5L372.8 274.8L373.0 272.6z" fill="url(#g125)" fill-opacity="0.94"/>
<path d="M246.0 261.5L383.2 273.5L383.4 271.1z" fill="url(#g135)" fill-opacity="0.99"/>
<path d="M246.0 261.5L403.7 272.5L403.9 269.8z" fill="url(#g155)" fill-opacity="1.00"/>
<path d="M246.0 261.5L383.5 268.7L383.6 266.3z" fill="url(#g135)" fill-opacity="0.91"/>
<path d="M246.0 261.5L383.6 266.3L383.7 263.9z" fill="url(#g135)" fill-opacity="0.97"/>
<path d="M246.0 261.5L378.6 263.8L378.6 261.5z" fill="url(#g130)" fill-opacity="0.96"/>
<path d="M246.0 261.5L399.0 261.5L399.0 258.8z" fill="url(#g150)" fill-opacity="1.00"/>
<path d="M246.0 261.5L378.6 259.2L378.5 256.9z" fill="url(#g130)" fill-opacity="0.98"/>
<path d="M246.0 261.5L398.9 256.2L398.8 253.5z" fill="url(#g150)" fill-opacity="1.00"/>
<path d="M246.0 261.5L383.5 254.3L383.4 251.9z" fill="url(#g135)" fill-opacity="1.00"/>
<path d="M246.0 261.5L383.4 251.9L383.2 249.5z" fill="url(#g135)" fill-opacity="1.00"/>
<path d="M246.0 261.5L362.9 251.3L362.7 249.2z" fill="url(#g115)" fill-opacity="0.86"/>
<path d="M246.0 261.5L377.9 247.6L377.6 245.3z" fill="url(#g130)" fill-opacity="0.94"/>
<path d="M246.0 261.5L392.8 243.5L392.5 240.9z" fill="url(#g145)" fill-opacity="1.00"/>
<path d="M246.0 261.5L357.1 245.9L356.8 243.9z" fill="url(#g110)" fill-opacity="0.90"/>
<path d="M246.0 261.5L377.0 240.8L376.6 238.5z" fill="url(#g130)" fill-opacity="1.00"/>
<path d="M246.0 261.5L371.6 239.4L371.2 237.2z" fill="url(#g125)" fill-opacity="1.00"/>
<path d="M246.0 261.5L361.1 239.1L360.7 237.1z" fill="url(#g115)" fill-opacity="0.94"/>
<path d="M246.0 261.5L365.7 236.1L365.3 234.0z" fill="url(#g120)" fill-opacity="1.00"/>
<path d="M246.0 261.5L365.3 234.0L364.8 231.9z" fill="url(#g120)" fill-opacity="0.96"/>
<path d="M246.0 261.5L369.7 230.7L369.2 228.5z" fill="url(#g125)" fill-opacity="1.00"/>
<path d="M246.0 261.5L354.4 232.5L353.9 230.6z" fill="url(#g110)" fill-opacity="0.92"/>
<path d="M246.0 261.5L363.7 227.8L363.1 225.7z" fill="url(#g120)" fill-opacity="0.98"/>
<path d="M246.0 261.5L372.8 222.7L372.1 220.5z" fill="url(#g130)" fill-opacity="0.96"/>
<path d="M246.0 261.5L352.7 226.8L352.1 225.0z" fill="url(#g110)" fill-opacity="0.96"/>
<path d="M246.0 261.5L332.8 231.6L332.3 230.1z" fill="url(#g90)" fill-opacity="0.80"/>
<path d="M246.0 261.5L346.6 224.9L346.0 223.1z" fill="url(#g105)" fill-opacity="0.91"/>
<path d="M246.0 261.5L346.0 223.1L345.3 221.4z" fill="url(#g105)" fill-opacity="0.92"/>
<path d="M246.0 261.5L326.4 229.0L325.8 227.6z" fill="url(#g85)" fill-opacity="0.75"/>
<path d="M246.0 261.5L344.6 219.7L343.8 217.9z" fill="url(#g105)" fill-opacity="0.94"/>
<path d="M246.0 261.5L343.8 217.9L343.1 216.2z" fill="url(#g105)" fill-opacity="0.98"/>
<path d="M246.0 261.5L356.9 209.8L356.0 207.8z" fill="url(#g120)" fill-opacity="1.00"/>
<path d="M246.0 261.5L337.7 216.8L336.9 215.2z" fill="url(#g100)" fill-opacity="0.93"/>
<path d="M246.0 261.5L336.9 215.2L336.1 213.6z" fill="url(#g100)" fill-opacity="0.94"/>
<path d="M246.0 261.5L340.6 211.2L339.7 209.6z" fill="url(#g105)" fill-opacity="1.00"/>
<path d="M246.0 261.5L321.8 219.5L321.1 218.2z" fill="url(#g85)" fill-opacity="0.89"/>
<path d="M246.0 261.5L325.5 215.6L324.7 214.2z" fill="url(#g90)" fill-opacity="0.89"/>
<path d="M246.0 261.5L329.1 211.6L328.2 210.2z" fill="url(#g95)" fill-opacity="0.97"/>
<path d="M246.0 261.5L328.2 210.2L327.3 208.7z" fill="url(#g95)" fill-opacity="1.00"/>
<path d="M246.0 261.5L335.8 203.2L334.8 201.6z" fill="url(#g105)" fill-opacity="0.99"/>
<path d="M246.0 261.5L326.3 207.3L325.4 205.9z" fill="url(#g95)" fill-opacity="0.99"/>
<path d="M246.0 261.5L321.2 208.8L320.3 207.5z" fill="url(#g90)" fill-opacity="0.94"/>
<path d="M246.0 261.5L316.1 210.5L315.2 209.3z" fill="url(#g85)" fill-opacity="0.91"/>
<path d="M246.0 261.5L315.2 209.3L314.3 208.1z" fill="url(#g85)" fill-opacity="0.90"/>
<path d="M246.0 261.5L322.4 201.8L321.3 200.5z" fill="url(#g95)" fill-opacity="0.99"/>
<path d="M246.0 261.5L313.4 206.9L312.4 205.8z" fill="url(#g85)" fill-opacity="0.88"/>
<path d="M246.0 261.5L308.5 209.0L307.6 208.0z" fill="url(#g80)" fill-opacity="0.76"/>
<path d="M246.0 261.5L311.4 204.6L310.4 203.5z" fill="url(#g85)" fill-opacity="0.83"/>
<path d="M246.0 261.5L314.2 200.1L313.1 198.9z" fill="url(#g90)" fill-opacity="0.88"/>
<path d="M246.0 261.5L301.9 209.3L301.0 208.4z" fill="url(#g75)" fill-opacity="0.77"/>
<path d="M246.0 261.5L319.4 190.6L318.1 189.4z" fill="url(#g100)" fill-opacity="0.99"/>
<path d="M246.0 261.5L314.5 193.0L313.3 191.8z" fill="url(#g95)" fill-opacity="0.91"/>
<path d="M246.0 261.5L316.9 188.1L315.6 186.9z" fill="url(#g100)" fill-opacity="0.91"/>
<path d="M246.0 261.5L319.0 183.2L317.7 181.9z" fill="url(#g105)" fill-opacity="0.94"/>
<path d="M246.0 261.5L317.7 181.9L316.3 180.7z" fill="url(#g105)" fill-opacity="0.95"/>
<path d="M246.0 261.5L309.6 188.4L308.3 187.3z" fill="url(#g95)" fill-opacity="0.86"/>
<path d="M246.0 261.5L308.3 187.3L307.0 186.2z" fill="url(#g95)" fill-opacity="0.83"/>
<path d="M246.0 261.5L307.0 186.2L305.7 185.1z" fill="url(#g95)" fill-opacity="0.88"/>
<path d="M246.0 261.5L308.8 181.1L307.4 180.0z" fill="url(#g100)" fill-opacity="0.95"/>
<path d="M246.0 261.5L319.7 163.7L317.9 162.5z" fill="url(#g120)" fill-opacity="0.99"/>
<path d="M246.0 261.5L303.0 183.1L301.6 182.1z" fill="url(#g95)" fill-opacity="0.84"/>
<path d="M246.0 261.5L310.4 169.6L308.7 168.5z" fill="url(#g110)" fill-opacity="0.92"/>
<path d="M246.0 261.5L311.6 164.3L309.9 163.1z" fill="url(#g115)" fill-opacity="0.98"/>
<path d="M246.0 261.5L312.7 158.8L310.9 157.7z" fill="url(#g120)" fill-opacity="0.97"/>
<path d="M246.0 261.5L310.9 157.7L309.0 156.6z" fill="url(#g120)" fill-opacity="0.95"/>
<path d="M246.0 261.5L311.7 152.2L309.8 151.1z" fill="url(#g125)" fill-opacity="0.97"/>
<path d="M246.0 261.5L309.8 151.1L307.8 150.0z" fill="url(#g125)" fill-opacity="0.97"/>
<path d="M246.0 261.5L310.3 145.5L308.3 144.4z" fill="url(#g130)" fill-opacity="0.94"/>
<path d="M246.0 261.5L308.3 144.4L306.2 143.4z" fill="url(#g130)" fill-opacity="0.88"/>
<path d="M246.0 261.5L317.8 120.6L315.3 119.4z" fill="url(#g155)" fill-opacity="0.99"/>
<path d="M246.0 261.5L308.6 133.2L306.3 132.1z" fill="url(#g140)" fill-opacity="0.95"/>
<path d="M246.0 261.5L308.5 127.5L306.2 126.4z" fill="url(#g145)" fill-opacity="0.97"/>
<path d="M246.0 261.5L304.1 131.0L301.8 130.1z" fill="url(#g140)" fill-opacity="0.96"/>
<path d="M246.0 261.5L293.8 148.8L291.9 148.0z" fill="url(#g120)" fill-opacity="0.82"/>
<path d="M246.0 261.5L297.6 133.8L295.3 132.9z" fill="url(#g135)" fill-opacity="0.98"/>
<path d="M246.0 261.5L300.8 118.7L298.3 117.7z" fill="url(#g150)" fill-opacity="1.00"/>
<path d="M246.0 261.5L289.6 141.7L287.5 140.9z" fill="url(#g125)" fill-opacity="0.99"/>
<path d="M246.0 261.5L287.5 140.9L285.4 140.2z" fill="url(#g125)" fill-opacity="0.96"/>
<path d="M246.0 261.5L285.4 140.2L283.3 139.6z" fill="url(#g125)" fill-opacity="0.97"/>
<path d="M246.0 261.5L284.8 134.7L282.5 134.0z" fill="url(#g130)" fill-opacity="0.99"/>
<path d="M246.0 261.5L281.1 138.9L279.0 138.3z" fill="url(#g125)" fill-opacity="0.93"/>
<path d="M246.0 261.5L280.3 133.4L278.1 132.8z" fill="url(#g130)" fill-opacity="0.94"/>
<path d="M246.0 261.5L273.1 152.6L271.2 152.2z" fill="url(#g110)" fill-opacity="0.80"/>
<path d="M246.0 261.5L275.8 132.3L273.6 131.8z" fill="url(#g130)" fill-opacity="0.89"/>
<path d="M246.0 261.5L271.4 141.8L269.4 141.3z" fill="url(#g120)" fill-opacity="0.86"/>
<path d="M246.0 261.5L277.1 101.3L274.3 100.8z" fill="url(#g160)" fill-opacity="1.00"/>
<path d="M246.0 261.5L270.8 120.9L268.3 120.5z" fill="url(#g140)" fill-opacity="0.95"/>
<path d="M246.0 261.5L267.5 125.5L265.2 125.1z" fill="url(#g135)" fill-opacity="0.95"/>
<path d="M246.0 261.5L265.2 125.1L262.8 124.8z" fill="url(#g135)" fill-opacity="1.00"/>
<path d="M246.0 261.5L262.8 124.8L260.4 124.6z" fill="url(#g135)" fill-opacity="1.00"/>
<path d="M246.0 261.5L259.3 134.7L257.1 134.5z" fill="url(#g125)" fill-opacity="0.99"/>
<path d="M246.0 261.5L257.6 129.4L255.2 129.2z" fill="url(#g130)" fill-opacity="1.00"/>
<path d="M246.0 261.5L254.9 134.3L252.7 134.2z" fill="url(#g125)" fill-opacity="1.00"/>
<path d="M246.0 261.5L252.1 144.4L250.1 144.3z" fill="url(#g115)" fill-opacity="0.88"/>
<path d="M246.0 261.5L250.3 139.2L248.1 139.1z" fill="url(#g120)" fill-opacity="0.93"/>
<path d="M246.0 261.5L248.2 134.0L246.0 134.0z" fill="url(#g125)" fill-opacity="0.97"/>
<path d="M246.0 261.5L246.0 113.6L243.4 113.6z" fill="url(#g145)" fill-opacity="1.00"/>
<path d="M246.0 261.5L243.7 128.9L241.4 129.0z" fill="url(#g130)" fill-opacity="1.00"/>
<path d="M246.0 261.5L241.4 129.0L239.1 129.1z" fill="url(#g130)" fill-opacity="0.99"/>
<path d="M246.0 261.5L238.8 124.0L236.4 124.1z" fill="url(#g135)" fill-opacity="0.98"/>
<path d="M246.0 261.5L236.8 129.2L234.4 129.4z" fill="url(#g130)" fill-opacity="0.93"/>
<path d="M246.0 261.5L234.4 129.4L232.1 129.6z" fill="url(#g130)" fill-opacity="0.87"/>
<path d="M246.0 261.5L231.6 124.6L229.2 124.8z" fill="url(#g135)" fill-opacity="0.94"/>
<path d="M246.0 261.5L229.2 124.8L226.8 125.1z" fill="url(#g135)" fill-opacity="0.92"/>
<path d="M246.0 261.5L226.1 120.1L223.7 120.5z" fill="url(#g140)" fill-opacity="0.98"/>
<path d="M246.0 261.5L223.7 120.5L221.2 120.9z" fill="url(#g140)" fill-opacity="1.00"/>
<path d="M246.0 261.5L219.4 110.8L216.8 111.3z" fill="url(#g150)" fill-opacity="1.00"/>
<path d="M246.0 261.5L218.8 121.3L216.3 121.8z" fill="url(#g140)" fill-opacity="0.98"/>
<path d="M246.0 261.5L218.4 131.8L216.2 132.3z" fill="url(#g130)" fill-opacity="0.90"/>
<path d="M246.0 261.5L213.9 122.4L211.5 122.9z" fill="url(#g140)" fill-opacity="1.00"/>
<path d="M246.0 261.5L211.5 122.9L209.0 123.6z" fill="url(#g140)" fill-opacity="1.00"/>
<path d="M246.0 261.5L207.7 118.6L205.2 119.3z" fill="url(#g145)" fill-opacity="1.00"/>
<path d="M246.0 261.5L205.2 119.3L202.8 120.1z" fill="url(#g145)" fill-opacity="1.00"/>
<path d="M246.0 261.5L210.2 144.4L208.2 145.1z" fill="url(#g120)" fill-opacity="0.79"/>
<path d="M246.0 261.5L201.9 125.7L199.5 126.5z" fill="url(#g140)" fill-opacity="0.90"/>
<path d="M246.0 261.5L196.2 116.8L193.7 117.7z" fill="url(#g150)" fill-opacity="0.97"/>
<path d="M246.0 261.5L197.2 127.3L194.8 128.2z" fill="url(#g140)" fill-opacity="0.89"/>
<path d="M246.0 261.5L196.7 132.9L194.4 133.8z" fill="url(#g135)" fill-opacity="0.85"/>
<path d="M246.0 261.5L194.4 133.8L192.2 134.7z" fill="url(#g135)" fill-opacity="0.90"/>
<path d="M246.0 261.5L192.2 134.7L190.0 135.7z" fill="url(#g135)" fill-opacity="0.94"/>
<path d="M246.0 261.5L190.0 135.7L187.8 136.7z" fill="url(#g135)" fill-opacity="0.97"/>
<path d="M246.0 261.5L181.3 122.8L178.9 124.0z" fill="url(#g150)" fill-opacity="0.98"/>
<path d="M246.0 261.5L187.9 142.3L185.8 143.4z" fill="url(#g130)" fill-opacity="0.92"/>
<path d="M246.0 261.5L183.5 138.8L181.4 139.9z" fill="url(#g135)" fill-opacity="0.96"/>
<path d="M246.0 261.5L179.0 135.4L176.8 136.6z" fill="url(#g140)" fill-opacity="0.97"/>
<path d="M246.0 261.5L176.8 136.6L174.6 137.8z" fill="url(#g140)" fill-opacity="0.98"/>
<path d="M246.0 261.5L177.2 142.2L175.1 143.5z" fill="url(#g135)" fill-opacity="0.93"/>
<path d="M246.0 261.5L180.3 152.2L178.4 153.4z" fill="url(#g125)" fill-opacity="0.90"/>
<path d="M246.0 261.5L173.0 144.7L171.0 146.0z" fill="url(#g135)" fill-opacity="0.93"/>
<path d="M246.0 261.5L165.4 137.5L163.3 138.9z" fill="url(#g145)" fill-opacity="1.00"/>
<path d="M246.0 261.5L163.3 138.9L161.2 140.3z" fill="url(#g145)" fill-opacity="1.00"/>
<path d="M246.0 261.5L167.0 148.7L165.1 150.1z" fill="url(#g135)" fill-opacity="0.93"/>
<path d="M246.0 261.5L165.1 150.1L163.1 151.5z" fill="url(#g135)" fill-opacity="0.93"/>
<path d="M246.0 261.5L163.1 151.5L161.2 153.0z" fill="url(#g135)" fill-opacity="0.93"/>
<path d="M246.0 261.5L161.2 153.0L159.3 154.5z" fill="url(#g135)" fill-opacity="0.99"/>
<path d="M246.0 261.5L162.6 158.5L160.8 159.9z" fill="url(#g130)" fill-opacity="1.00"/>
<path d="M246.0 261.5L160.8 159.9L159.0 161.4z" fill="url(#g130)" fill-opacity="0.97"/>
<path d="M246.0 261.5L149.0 149.9L147.0 151.6z" fill="url(#g145)" fill-opacity="1.00"/>
<path d="M246.0 261.5L160.7 166.7L159.0 168.3z" fill="url(#g125)" fill-opacity="0.93"/>
<path d="M246.0 261.5L155.6 164.5L153.9 166.1z" fill="url(#g130)" fill-opacity="0.99"/>
<path d="M246.0 261.5L150.3 162.4L148.6 164.1z" fill="url(#g135)" fill-opacity="0.99"/>
<path d="M246.0 261.5L152.2 167.7L150.6 169.4z" fill="url(#g130)" fill-opacity="0.94"/>
<path d="M246.0 261.5L150.6 169.4L149.0 171.1z" fill="url(#g130)" fill-opacity="0.92"/>
<path d="M246.0 261.5L149.0 171.1L147.5 172.8z" fill="url(#g130)" fill-opacity="0.98"/>
<path d="M246.0 261.5L151.2 176.2L149.8 177.9z" fill="url(#g125)" fill-opacity="0.91"/>
</g>
<path d="M246.0 261.5L108.5 268.7L108.6 271.1z" fill="url(#g135)" fill-opacity="0.88"/>
<path d="M246.0 261.5L103.5 271.5L103.7 273.9z" fill="url(#g140)" fill-opacity="0.93"/>
<path d="M246.0 261.5L98.7 274.4L98.9 277.0z" fill="url(#g145)" fill-opacity="0.95"/>
<path d="M246.0 261.5L78.6 279.1L79.0 282.0z" fill="url(#g165)" fill-opacity="0.98"/>
<path d="M246.0 261.5L99.2 279.5L99.5 282.1z" fill="url(#g145)" fill-opacity="0.92"/>
<path d="M246.0 261.5L124.8 278.5L125.1 280.6z" fill="url(#g120)" fill-opacity="0.77"/>
<path d="M246.0 261.5L94.9 285.4L95.3 288.1z" fill="url(#g150)" fill-opacity="0.96"/>
<path d="M246.0 261.5L120.4 283.6L120.8 285.8z" fill="url(#g125)" fill-opacity="0.78"/>
<path d="M246.0 261.5L95.8 290.7L96.3 293.3z" fill="url(#g150)" fill-opacity="0.90"/>
<path d="M246.0 261.5L81.4 296.5L82.0 299.4z" fill="url(#g165)" fill-opacity="1.00"/>
<path d="M246.0 261.5L87.0 298.2L87.6 301.0z" fill="url(#g160)" fill-opacity="0.94"/>
<path d="M246.0 261.5L92.6 299.7L93.3 302.4z" fill="url(#g155)" fill-opacity="0.88"/>
<path d="M246.0 261.5L78.5 306.4L79.3 309.3z" fill="url(#g170)" fill-opacity="0.88"/>
<path d="M246.0 261.5L79.3 309.3L80.2 312.2z" fill="url(#g170)" fill-opacity="0.93"/>
<path d="M246.0 261.5L80.2 312.2L81.1 315.1z" fill="url(#g170)" fill-opacity="0.88"/>
<path d="M246.0 261.5L81.1 315.1L82.0 318.0z" fill="url(#g170)" fill-opacity="0.90"/>
<path d="M246.0 261.5L82.0 318.0L83.1 320.8z" fill="url(#g170)" fill-opacity="0.99"/>
<path d="M246.0 261.5L83.1 320.8L84.1 323.6z" fill="url(#g170)" fill-opacity="0.98"/>
<path d="M246.0 261.5L84.1 323.6L85.2 326.5z" fill="url(#g170)" fill-opacity="0.92"/>
<path d="M246.0 261.5L85.2 326.5L86.4 329.3z" fill="url(#g170)" fill-opacity="0.98"/>
<path d="M246.0 261.5L86.4 329.3L87.6 332.0z" fill="url(#g170)" fill-opacity="0.98"/>
<path d="M246.0 261.5L87.6 332.0L88.8 334.8z" fill="url(#g170)" fill-opacity="0.98"/>
<path d="M246.0 261.5L98.1 330.5L99.3 333.0z" fill="url(#g160)" fill-opacity="0.90"/>
<path d="M246.0 261.5L90.1 337.5L91.5 340.2z" fill="url(#g170)" fill-opacity="0.94"/>
<path d="M246.0 261.5L96.0 337.9L97.4 340.5z" fill="url(#g165)" fill-opacity="0.87"/>
<path d="M246.0 261.5L92.9 342.9L94.3 345.6z" fill="url(#g170)" fill-opacity="0.95"/>
<path d="M246.0 261.5L94.3 345.6L95.8 348.2z" fill="url(#g170)" fill-opacity="0.94"/>
<path d="M246.0 261.5L104.7 343.1L106.1 345.6z" fill="url(#g160)" fill-opacity="0.86"/>
<path d="M246.0 261.5L106.1 345.6L107.6 348.0z" fill="url(#g160)" fill-opacity="0.90"/>
<path d="M246.0 261.5L98.9 353.4L100.6 355.9z" fill="url(#g170)" fill-opacity="1.00"/>
<path d="M246.0 261.5L122.0 342.1L123.4 344.2z" fill="url(#g145)" fill-opacity="0.86"/>
<path d="M246.0 261.5L123.4 344.2L124.8 346.3z" fill="url(#g145)" fill-opacity="0.92"/>
<path d="M246.0 261.5L124.8 346.3L126.3 348.4z" fill="url(#g145)" fill-opacity="0.94"/>
<path d="M246.0 261.5L126.3 348.4L127.9 350.5z" fill="url(#g145)" fill-opacity="0.98"/>
<g clip-path="url(#cm)"><path d="M246.0 261.5L218.4 314.8L243.5 321.4zM246.0 261.5L243.5 321.4L269.4 316.7z" fill="url(#g50)"/></g>
<path d="M246.0 261.5L125.3 208.0L123.9 211.4z" fill="url(#g170)" fill-opacity="0.7"/>
</g>
<path d="M243.2 265.6L209.1 316.2" stroke="url(#g150)" stroke-width="0.9"/>
<path d="M241.4 259.5L172.4 230.1" stroke="url(#g100)" stroke-width="0.9"/>
<path d="M84.9 273.2h3.1v1.6h-3.1zM84.9 274.7h3.1v1.6h-3.1zM84.9 276.1h3.1v1.6h-3.1zM84.9 277.6h4.5v1.6h-4.5zM83.4 279.1h6.0v1.6h-6.0zM83.4 280.5h6.0v1.6h-6.0zM83.4 282.0h4.5v1.6h-4.5zM83.4 283.5h4.5v1.6h-4.5zM83.4 284.9h4.5v1.6h-4.5zM83.4 286.4h4.5v1.6h-4.5zM81.9 287.9h6.0v1.6h-6.0zM81.9 289.3h6.0v1.6h-6.0zM81.9 290.8h6.0v1.6h-6.0zM83.4 292.3h6.0v1.6h-6.0zM83.4 293.7h6.0v1.6h-6.0zM84.9 295.2h4.5v1.6h-4.5zM84.9 296.7h4.5v1.6h-4.5zM84.9 298.1h6.0v1.6h-6.0zM86.3 299.6h4.5v1.6h-4.5zM86.3 301.1h6.0v1.6h-6.0zM87.8 302.5h4.5v1.6h-4.5zM87.8 304.0h6.0v1.6h-6.0zM105.4 304.0h6.0v1.6h-6.0zM90.7 305.4h1.6v1.6h-1.6zM106.8 305.4h4.5v1.6h-4.5zM108.3 306.9h4.5v1.6h-4.5zM108.3 308.4h4.5v1.6h-4.5zM108.3 309.8h4.5v1.6h-4.5zM257.7 309.8h6.0v1.6h-6.0zM108.3 311.3h6.0v1.6h-6.0zM257.7 311.3h7.5v1.6h-7.5zM108.3 312.8h4.5v1.6h-4.5zM260.6 312.8h4.5v1.6h-4.5zM108.3 314.2h3.1v1.6h-3.1zM262.1 314.2h3.1v1.6h-3.1zM268.0 320.1h3.1v1.6h-3.1zM268.0 321.6h3.1v1.6h-3.1zM269.4 323.0h1.6v1.6h-1.6zM279.7 326.0h3.1v1.6h-3.1zM84.9 327.4h7.5v1.6h-7.5zM279.7 327.4h3.1v1.6h-3.1zM86.3 328.9h8.9v1.6h-8.9zM278.2 328.9h4.5v1.6h-4.5zM89.3 330.3h7.5v1.6h-7.5zM278.2 330.3h3.1v1.6h-3.1zM90.7 331.8h7.5v1.6h-7.5zM275.3 331.8h1.6v1.6h-1.6zM92.2 333.3h7.5v1.6h-7.5zM275.3 333.3h1.6v1.6h-1.6zM93.7 334.7h6.0v1.6h-6.0zM276.8 334.7h1.6v1.6h-1.6zM95.1 336.2h6.0v1.6h-6.0zM96.6 337.7h4.5v1.6h-4.5zM108.3 337.7h1.6v1.6h-1.6zM287.0 337.7h6.0v1.6h-6.0zM98.1 339.1h4.5v1.6h-4.5zM106.8 339.1h6.0v1.6h-6.0zM287.0 339.1h7.5v1.6h-7.5zM98.1 340.6h4.5v1.6h-4.5zM108.3 340.6h4.5v1.6h-4.5zM287.0 340.6h8.9v1.6h-8.9zM108.3 342.1h6.0v1.6h-6.0zM287.0 342.1h8.9v1.6h-8.9zM108.3 343.5h7.5v1.6h-7.5zM287.0 343.5h4.5v1.6h-4.5zM322.2 343.5h4.5v1.6h-4.5zM109.8 345.0h6.0v1.6h-6.0zM287.0 345.0h4.5v1.6h-4.5zM319.2 345.0h10.4v1.6h-10.4zM111.2 346.5h4.5v1.6h-4.5zM285.6 346.5h6.0v1.6h-6.0zM300.2 346.5h1.6v1.6h-1.6zM313.4 346.5h17.7v1.6h-17.7zM285.6 347.9h4.5v1.6h-4.5zM300.2 347.9h4.5v1.6h-4.5zM311.9 347.9h17.7v1.6h-17.7zM287.0 349.4h3.1v1.6h-3.1zM301.7 349.4h4.5v1.6h-4.5zM311.9 349.4h16.3v1.6h-16.3zM287.0 350.9h3.1v1.6h-3.1zM303.1 350.9h3.1v1.6h-3.1zM311.9 350.9h4.5v1.6h-4.5zM287.0 352.3h3.1v1.6h-3.1zM307.5 352.3h8.9v1.6h-8.9zM287.0 353.8h3.1v1.6h-3.1zM310.5 353.8h6.0v1.6h-6.0zM287.0 355.2h3.1v1.6h-3.1zM311.9 355.2h4.5v1.6h-4.5zM287.0 356.7h3.1v1.6h-3.1zM313.4 356.7h3.1v1.6h-3.1zM287.0 358.2h3.1v1.6h-3.1zM313.4 358.2h1.6v1.6h-1.6zM287.0 359.6h3.1v1.6h-3.1zM288.5 361.1h1.6v1.6h-1.6zM288.5 362.6h1.6v1.6h-1.6z" fill="#fff" stroke="#fff" stroke-width="4.2" stroke-linejoin="round" filter="url(#halo)"/>
<path d="M246.0 232.2h1.6v1.6h-1.6zM243.1 233.7h1.6v1.6h-1.6zM246.0 233.7h1.6v1.6h-1.6zM253.3 233.7h1.6v1.6h-1.6zM307.5 233.7h3.1v1.6h-3.1zM229.9 235.1h1.6v1.6h-1.6zM243.1 235.1h1.6v1.6h-1.6zM246.0 235.1h1.6v1.6h-1.6zM253.3 235.1h1.6v1.6h-1.6zM256.3 235.1h1.6v1.6h-1.6zM304.6 235.1h3.1v1.6h-3.1zM231.4 236.6h1.6v1.6h-1.6zM238.7 236.6h1.6v1.6h-1.6zM243.1 236.6h1.6v1.6h-1.6zM246.0 236.6h1.6v1.6h-1.6zM251.9 236.6h6.0v1.6h-6.0zM227.0 238.1h1.6v1.6h-1.6zM231.4 238.1h1.6v1.6h-1.6zM234.3 238.1h1.6v1.6h-1.6zM238.7 238.1h1.6v1.6h-1.6zM243.1 238.1h4.5v1.6h-4.5zM251.9 238.1h4.5v1.6h-4.5zM257.7 238.1h1.6v1.6h-1.6zM228.4 239.5h1.6v1.6h-1.6zM232.8 239.5h6.0v1.6h-6.0zM243.1 239.5h4.5v1.6h-4.5zM251.9 239.5h4.5v1.6h-4.5zM265.0 239.5h1.6v1.6h-1.6zM229.9 241.0h1.6v1.6h-1.6zM232.8 241.0h6.0v1.6h-6.0zM240.1 241.0h1.6v1.6h-1.6zM243.1 241.0h4.5v1.6h-4.5zM251.9 241.0h6.0v1.6h-6.0zM263.6 241.0h1.6v1.6h-1.6zM227.0 242.5h1.6v1.6h-1.6zM229.9 242.5h3.1v1.6h-3.1zM234.3 242.5h7.5v1.6h-7.5zM243.1 242.5h6.0v1.6h-6.0zM250.4 242.5h7.5v1.6h-7.5zM260.6 242.5h3.1v1.6h-3.1zM228.4 243.9h1.6v1.6h-1.6zM231.4 243.9h17.7v1.6h-17.7zM250.4 243.9h6.0v1.6h-6.0zM260.6 243.9h3.1v1.6h-3.1zM229.9 245.4h26.5v1.6h-26.5zM259.2 245.4h3.1v1.6h-3.1zM266.5 245.4h1.6v1.6h-1.6zM229.9 246.9h25.1v1.6h-25.1zM256.3 246.9h4.5v1.6h-4.5zM265.0 246.9h3.1v1.6h-3.1zM231.4 248.3h28.0v1.6h-28.0zM262.1 248.3h6.0v1.6h-6.0zM234.3 249.8h23.6v1.6h-23.6zM259.2 249.8h6.0v1.6h-6.0zM235.7 251.2h28.0v1.6h-28.0zM272.4 251.2h3.1v1.6h-3.1zM237.2 252.7h25.1v1.6h-25.1zM266.5 252.7h6.0v1.6h-6.0zM238.7 254.2h22.1v1.6h-22.1zM262.1 254.2h7.5v1.6h-7.5zM240.1 255.6h25.1v1.6h-25.1zM266.5 255.6h3.1v1.6h-3.1zM241.6 257.1h30.9v1.6h-30.9zM243.1 258.6h20.7v1.6h-20.7zM244.5 260.0h25.1v1.6h-25.1zM231.4 261.5h13.3v1.6h-13.3zM246.0 261.5h20.7v1.6h-20.7zM227.0 263.0h16.3v1.6h-16.3zM244.5 263.0h20.7v1.6h-20.7zM225.5 264.4h16.3v1.6h-16.3zM244.5 264.4h22.1v1.6h-22.1zM221.1 265.9h17.7v1.6h-17.7zM243.1 265.9h28.0v1.6h-28.0zM228.4 267.4h8.9v1.6h-8.9zM243.1 267.4h30.9v1.6h-30.9zM225.5 268.8h10.4v1.6h-10.4zM241.6 268.8h23.6v1.6h-23.6zM266.5 268.8h3.1v1.6h-3.1zM222.6 270.3h6.0v1.6h-6.0zM231.4 270.3h1.6v1.6h-1.6zM241.6 270.3h22.1v1.6h-22.1zM265.0 270.3h3.1v1.6h-3.1zM218.2 271.8h7.5v1.6h-7.5zM228.4 271.8h3.1v1.6h-3.1zM240.1 271.8h23.6v1.6h-23.6zM84.9 273.2h3.1v1.6h-3.1zM216.7 273.2h4.5v1.6h-4.5zM227.0 273.2h3.1v1.6h-3.1zM240.1 273.2h25.1v1.6h-25.1zM84.9 274.7h3.1v1.6h-3.1zM215.2 274.7h3.1v1.6h-3.1zM225.5 274.7h1.6v1.6h-1.6zM238.7 274.7h14.8v1.6h-14.8zM254.8 274.7h11.9v1.6h-11.9zM84.9 276.1h3.1v1.6h-3.1zM238.7 276.1h14.8v1.6h-14.8zM256.3 276.1h1.6v1.6h-1.6zM260.6 276.1h3.1v1.6h-3.1zM265.0 276.1h3.1v1.6h-3.1zM84.9 277.6h4.5v1.6h-4.5zM237.2 277.6h16.3v1.6h-16.3zM256.3 277.6h3.1v1.6h-3.1zM83.4 279.1h6.0v1.6h-6.0zM237.2 279.1h16.3v1.6h-16.3zM257.7 279.1h1.6v1.6h-1.6zM83.4 280.5h6.0v1.6h-6.0zM237.2 280.5h16.3v1.6h-16.3zM259.2 280.5h1.6v1.6h-1.6zM83.4 282.0h4.5v1.6h-4.5zM237.2 282.0h17.7v1.6h-17.7zM83.4 283.5h4.5v1.6h-4.5zM235.7 283.5h13.3v1.6h-13.3zM250.4 283.5h4.5v1.6h-4.5zM83.4 284.9h4.5v1.6h-4.5zM234.3 284.9h20.7v1.6h-20.7zM83.4 286.4h4.5v1.6h-4.5zM235.7 286.4h19.2v1.6h-19.2zM81.9 287.9h6.0v1.6h-6.0zM238.7 287.9h4.5v1.6h-4.5zM244.5 287.9h10.4v1.6h-10.4zM81.9 289.3h6.0v1.6h-6.0zM241.6 289.3h13.3v1.6h-13.3zM81.9 290.8h6.0v1.6h-6.0zM243.1 290.8h13.3v1.6h-13.3zM83.4 292.3h6.0v1.6h-6.0zM243.1 292.3h7.5v1.6h-7.5zM253.3 292.3h4.5v1.6h-4.5zM83.4 293.7h6.0v1.6h-6.0zM244.5 293.7h6.0v1.6h-6.0zM251.9 293.7h7.5v1.6h-7.5zM84.9 295.2h4.5v1.6h-4.5zM246.0 295.2h3.1v1.6h-3.1zM251.9 295.2h7.5v1.6h-7.5zM84.9 296.7h4.5v1.6h-4.5zM247.5 296.7h1.6v1.6h-1.6zM251.9 296.7h8.9v1.6h-8.9zM84.9 298.1h6.0v1.6h-6.0zM248.9 298.1h13.3v1.6h-13.3zM86.3 299.6h4.5v1.6h-4.5zM250.4 299.6h6.0v1.6h-6.0zM257.7 299.6h1.6v1.6h-1.6zM86.3 301.1h6.0v1.6h-6.0zM253.3 301.1h7.5v1.6h-7.5zM87.8 302.5h4.5v1.6h-4.5zM253.3 302.5h8.9v1.6h-8.9zM87.8 304.0h6.0v1.6h-6.0zM105.4 304.0h6.0v1.6h-6.0zM253.3 304.0h10.4v1.6h-10.4zM90.7 305.4h1.6v1.6h-1.6zM106.8 305.4h4.5v1.6h-4.5zM254.8 305.4h4.5v1.6h-4.5zM260.6 305.4h4.5v1.6h-4.5zM108.3 306.9h4.5v1.6h-4.5zM254.8 306.9h3.1v1.6h-3.1zM262.1 306.9h3.1v1.6h-3.1zM108.3 308.4h4.5v1.6h-4.5zM256.3 308.4h3.1v1.6h-3.1zM262.1 308.4h4.5v1.6h-4.5zM108.3 309.8h4.5v1.6h-4.5zM257.7 309.8h8.9v1.6h-8.9zM108.3 311.3h6.0v1.6h-6.0zM257.7 311.3h8.9v1.6h-8.9zM108.3 312.8h4.5v1.6h-4.5zM260.6 312.8h7.5v1.6h-7.5zM108.3 314.2h3.1v1.6h-3.1zM209.4 314.2h1.6v1.6h-1.6zM262.1 314.2h4.5v1.6h-4.5zM209.4 315.7h1.6v1.6h-1.6zM207.9 317.2h3.1v1.6h-3.1zM207.9 318.6h1.6v1.6h-1.6zM207.9 320.1h1.6v1.6h-1.6zM268.0 320.1h3.1v1.6h-3.1zM268.0 321.6h3.1v1.6h-3.1zM269.4 323.0h1.6v1.6h-1.6zM279.7 326.0h3.1v1.6h-3.1zM84.9 327.4h7.5v1.6h-7.5zM279.7 327.4h3.1v1.6h-3.1zM86.3 328.9h8.9v1.6h-8.9zM278.2 328.9h4.5v1.6h-4.5zM89.3 330.3h7.5v1.6h-7.5zM278.2 330.3h3.1v1.6h-3.1zM90.7 331.8h7.5v1.6h-7.5zM275.3 331.8h1.6v1.6h-1.6zM92.2 333.3h7.5v1.6h-7.5zM275.3 333.3h1.6v1.6h-1.6zM93.7 334.7h6.0v1.6h-6.0zM276.8 334.7h1.6v1.6h-1.6zM95.1 336.2h6.0v1.6h-6.0zM96.6 337.7h4.5v1.6h-4.5zM108.3 337.7h1.6v1.6h-1.6zM287.0 337.7h6.0v1.6h-6.0zM98.1 339.1h4.5v1.6h-4.5zM106.8 339.1h6.0v1.6h-6.0zM287.0 339.1h7.5v1.6h-7.5zM98.1 340.6h4.5v1.6h-4.5zM108.3 340.6h4.5v1.6h-4.5zM287.0 340.6h8.9v1.6h-8.9zM108.3 342.1h6.0v1.6h-6.0zM287.0 342.1h8.9v1.6h-8.9zM108.3 343.5h7.5v1.6h-7.5zM287.0 343.5h4.5v1.6h-4.5zM322.2 343.5h4.5v1.6h-4.5zM109.8 345.0h6.0v1.6h-6.0zM287.0 345.0h4.5v1.6h-4.5zM319.2 345.0h10.4v1.6h-10.4zM111.2 346.5h4.5v1.6h-4.5zM285.6 346.5h6.0v1.6h-6.0zM300.2 346.5h1.6v1.6h-1.6zM313.4 346.5h17.7v1.6h-17.7zM285.6 347.9h4.5v1.6h-4.5zM300.2 347.9h4.5v1.6h-4.5zM311.9 347.9h17.7v1.6h-17.7zM287.0 349.4h3.1v1.6h-3.1zM301.7 349.4h4.5v1.6h-4.5zM311.9 349.4h16.3v1.6h-16.3zM287.0 350.9h3.1v1.6h-3.1zM303.1 350.9h3.1v1.6h-3.1zM311.9 350.9h4.5v1.6h-4.5zM287.0 352.3h3.1v1.6h-3.1zM307.5 352.3h8.9v1.6h-8.9zM287.0 353.8h3.1v1.6h-3.1zM310.5 353.8h6.0v1.6h-6.0zM287.0 355.2h3.1v1.6h-3.1zM311.9 355.2h4.5v1.6h-4.5zM287.0 356.7h3.1v1.6h-3.1zM313.4 356.7h3.1v1.6h-3.1zM287.0 358.2h3.1v1.6h-3.1zM313.4 358.2h1.6v1.6h-1.6zM287.0 359.6h3.1v1.6h-3.1zM288.5 361.1h1.6v1.6h-1.6zM288.5 362.6h1.6v1.6h-1.6z" fill="#ffff00"/>
<path d="M106.5 317.6L99.5 321" stroke="#ddd" stroke-width="0.8"/>
<circle cx="246.0" cy="261.5" r="4.6" fill="#808080" stroke="#505050" stroke-width="0.8"/>
<circle cx="410.6" cy="113.4" r="0.8" fill="#fff"/><circle cx="214.5" cy="148.3" r="1.1" fill="#888"/>
<ellipse cx="128.5" cy="430.5" rx="3.2" ry="1.6" transform="rotate(30 128.5 430.5)" fill="#999" filter="url(#halo)"/>
</g>
<g fill="none" stroke="#fff" stroke-width="1.1" stroke-linejoin="round" stroke-linecap="round">
<polyline points="58.5,179.2 68.2,179.2 70.3,177.8 71.7,174.3 73.8,173.2 81.4,177.1 86.9,181.3 96.0,178.8 105.7,174.6 115.4,168.8 126.2,162.1 126.7,154.9 129.2,154.2 128.9,150.1 132.0,147.3 130.6,144.5 127.1,143.9 123.9,141.8 127.1,139.7 128.5,135.5 130.6,134.4 152.5,133.0 153.0,145.9 160.8,145.5 161.8,138.3 160.8,135.5 164.5,134.4 167.3,131.7 168.7,134.2 173.0,136.2 175.7,136.2 184.9,139.0 190.4,137.1 198.0,139.0 201.7,140.8 205.4,142.6 210.9,140.8 214.6,139.9 218.2,140.8 221.9,138.0 225.6,137.1 230.2,135.3 232.9,133.4 237.5,135.3 239.4,131.6 243.1,129.8 240.3,128.9 246.7,126.1 250.4,125.2 253.2,123.3 255.9,127.0 259.6,124.3 261.4,117.8 265.1,116.5 269.7,116.9 271.6,119.7 275.2,120.0 276.2,122.4 278.9,123.3 279.8,130.7 281.7,133.4 280.4,136.2 274.3,137.1 277.1,144.5 283.5,142.6 282.6,139.9 285.9,139.0 289.4,144.5 293.1,142.6 291.8,137.1 293.6,140.8 304.7,136.2 301.9,129.8 291.8,132.5 287.2,128.9 292.7,126.1 287.2,109.5 298.2,104.9 306.5,123.3 312.9,121.5 317.5,127.9 308.3,132.5 306.1,127.9 312.0,124.3 312.9,117.8 315.7,115.1 319.4,119.7 324.0,116.0 321.6,112.7 318.5,115.1 311.1,103.1 317.5,97.6 330.4,107.7 336.9,101.3 334.1,98.5 330.4,101.3 319.4,89.3 323.1,82.0 329.5,79.2 337.8,81.0 350.6,84.7 351.0,76.4 347.0,75.5"/>
<polyline points="98.1,75.5 93.9,80.1 90.7,84.7 91.5,95.7 93.9,98.5 97.5,105.9 100.7,110.1 106.7,111.4 111.3,108.6 113.2,109.2 118.7,107.3 121.4,104.9 122.0,99.4 127.0,97.2 128.8,91.1 133.0,89.3 132.5,81.0 131.6,75.5"/>
<polyline points="85.6,85.6 86.9,84.3" stroke-width="1.7600000000000002"/>
<polyline points="246.9,113.2 247.7,115.6"/>
</g>
<g shape-rendering="crispEdges"><path d="M672.4 160.4h3.1v1.6h-3.1zM672.4 161.9h3.1v1.6h-3.1zM673.9 163.4h1.6v1.6h-1.6zM669.5 183.9h3.1v1.6h-3.1zM669.5 185.3h3.1v1.6h-3.1zM679.7 194.1h1.6v1.6h-1.6zM678.3 195.6h3.1v1.6h-3.1zM678.3 197.0h3.1v1.6h-3.1zM695.8 197.0h1.6v1.6h-1.6zM678.3 198.5h3.1v1.6h-3.1zM692.9 198.5h3.1v1.6h-3.1zM678.3 200.0h3.1v1.6h-3.1zM691.4 200.0h3.1v1.6h-3.1zM678.3 201.4h3.1v1.6h-3.1zM690.0 201.4h4.5v1.6h-4.5zM678.3 202.9h1.6v1.6h-1.6zM688.5 202.9h6.0v1.6h-6.0zM690.0 204.4h3.1v1.6h-3.1z" fill="#a8fcff"/>
<path d="M692.9 150.2h1.6v1.6h-1.6zM698.8 151.6h3.1v1.6h-3.1zM694.4 153.1h1.6v1.6h-1.6zM698.8 153.1h1.6v1.6h-1.6zM701.7 153.1h1.6v1.6h-1.6zM687.0 154.6h1.6v1.6h-1.6zM690.0 154.6h1.6v1.6h-1.6zM694.4 154.6h7.5v1.6h-7.5zM687.0 156.0h1.6v1.6h-1.6zM690.0 156.0h1.6v1.6h-1.6zM692.9 156.0h7.5v1.6h-7.5zM706.1 156.0h1.6v1.6h-1.6zM690.0 157.5h3.1v1.6h-3.1zM694.4 157.5h6.0v1.6h-6.0zM690.0 159.0h1.6v1.6h-1.6zM695.8 159.0h4.5v1.6h-4.5zM669.5 160.4h1.6v1.6h-1.6zM675.3 160.4h1.6v1.6h-1.6zM697.3 160.4h1.6v1.6h-1.6zM670.9 161.9h1.6v1.6h-1.6zM675.3 161.9h1.6v1.6h-1.6zM670.9 163.4h1.6v1.6h-1.6zM670.9 164.8h1.6v1.6h-1.6zM670.9 166.3h4.5v1.6h-4.5zM670.9 167.8h3.1v1.6h-3.1zM690.0 176.5h1.6v1.6h-1.6zM697.3 176.5h1.6v1.6h-1.6zM670.9 178.0h1.6v1.6h-1.6zM695.8 178.0h6.0v1.6h-6.0zM670.9 179.5h1.6v1.6h-1.6zM695.8 179.5h6.0v1.6h-6.0zM697.3 180.9h4.5v1.6h-4.5zM668.0 182.4h1.6v1.6h-1.6zM698.8 182.4h1.6v1.6h-1.6zM668.0 183.9h1.6v1.6h-1.6zM672.4 183.9h1.6v1.6h-1.6zM697.3 183.9h3.1v1.6h-3.1zM668.0 185.3h1.6v1.6h-1.6zM672.4 185.3h1.6v1.6h-1.6zM698.8 185.3h1.6v1.6h-1.6zM668.0 186.8h4.5v1.6h-4.5zM669.5 188.3h3.1v1.6h-3.1zM669.5 189.7h3.1v1.6h-3.1zM679.7 191.2h1.6v1.6h-1.6zM678.3 192.7h4.5v1.6h-4.5zM678.3 194.1h1.6v1.6h-1.6zM681.2 194.1h1.6v1.6h-1.6zM695.8 194.1h4.5v1.6h-4.5zM681.2 195.6h1.6v1.6h-1.6zM694.4 195.6h6.0v1.6h-6.0zM676.8 197.0h1.6v1.6h-1.6zM681.2 197.0h3.1v1.6h-3.1zM692.9 197.0h3.1v1.6h-3.1zM697.3 197.0h1.6v1.6h-1.6zM681.2 198.5h3.1v1.6h-3.1zM690.0 198.5h3.1v1.6h-3.1zM695.8 198.5h3.1v1.6h-3.1zM681.2 200.0h1.6v1.6h-1.6zM688.5 200.0h3.1v1.6h-3.1zM694.4 200.0h3.1v1.6h-3.1zM676.8 201.4h1.6v1.6h-1.6zM681.2 201.4h1.6v1.6h-1.6zM688.5 201.4h1.6v1.6h-1.6zM694.4 201.4h1.6v1.6h-1.6zM676.8 202.9h1.6v1.6h-1.6zM679.7 202.9h1.6v1.6h-1.6zM676.8 204.4h3.1v1.6h-3.1zM688.5 204.4h1.6v1.6h-1.6zM692.9 204.4h1.6v1.6h-1.6zM676.8 205.8h3.1v1.6h-3.1zM688.5 205.8h4.5v1.6h-4.5zM676.8 207.3h3.1v1.6h-3.1zM676.8 208.8h3.1v1.6h-3.1zM675.3 210.2h3.1v1.6h-3.1zM675.3 211.7h3.1v1.6h-3.1zM675.3 213.2h3.1v1.6h-3.1zM673.9 214.6h4.5v1.6h-4.5zM675.3 216.1h1.6v1.6h-1.6zM675.3 217.6h1.6v1.6h-1.6z" fill="#90f8ff"/>
<path d="M697.3 147.2h3.1v1.6h-3.1zM694.4 148.7h6.0v1.6h-6.0zM694.4 150.2h6.0v1.6h-6.0zM687.0 151.6h11.9v1.6h-11.9zM687.0 153.1h7.5v1.6h-7.5zM695.8 153.1h3.1v1.6h-3.1zM669.5 154.6h3.1v1.6h-3.1zM684.1 154.6h3.1v1.6h-3.1zM691.4 154.6h3.1v1.6h-3.1zM701.7 154.6h1.6v1.6h-1.6zM669.5 156.0h1.6v1.6h-1.6zM684.1 156.0h3.1v1.6h-3.1zM691.4 156.0h1.6v1.6h-1.6zM700.2 156.0h1.6v1.6h-1.6zM703.2 156.0h3.1v1.6h-3.1zM707.6 156.0h3.1v1.6h-3.1zM682.6 157.5h6.0v1.6h-6.0zM692.9 157.5h1.6v1.6h-1.6zM700.2 157.5h1.6v1.6h-1.6zM704.6 157.5h4.5v1.6h-4.5zM675.3 159.0h1.6v1.6h-1.6zM684.1 159.0h4.5v1.6h-4.5zM691.4 159.0h4.5v1.6h-4.5zM700.2 159.0h1.6v1.6h-1.6zM704.6 159.0h1.6v1.6h-1.6zM707.6 159.0h1.6v1.6h-1.6zM684.1 160.4h3.1v1.6h-3.1zM690.0 160.4h7.5v1.6h-7.5zM698.8 160.4h1.6v1.6h-1.6zM669.5 161.9h1.6v1.6h-1.6zM684.1 161.9h3.1v1.6h-3.1zM688.5 161.9h11.9v1.6h-11.9zM669.5 163.4h1.6v1.6h-1.6zM675.3 163.4h1.6v1.6h-1.6zM684.1 163.4h3.1v1.6h-3.1zM690.0 163.4h1.6v1.6h-1.6zM694.4 163.4h4.5v1.6h-4.5zM703.2 163.4h4.5v1.6h-4.5zM669.5 164.8h1.6v1.6h-1.6zM675.3 164.8h1.6v1.6h-1.6zM703.2 164.8h4.5v1.6h-4.5zM669.5 166.3h1.6v1.6h-1.6zM675.3 166.3h1.6v1.6h-1.6zM681.2 166.3h1.6v1.6h-1.6zM701.7 166.3h1.6v1.6h-1.6zM704.6 166.3h1.6v1.6h-1.6zM673.9 167.8h1.6v1.6h-1.6zM681.2 167.8h3.1v1.6h-3.1zM701.7 167.8h3.1v1.6h-3.1zM670.9 169.2h3.1v1.6h-3.1zM681.2 169.2h4.5v1.6h-4.5zM701.7 169.2h1.6v1.6h-1.6zM670.9 170.7h3.1v1.6h-3.1zM682.6 170.7h4.5v1.6h-4.5zM688.5 170.7h16.3v1.6h-16.3zM682.6 172.1h4.5v1.6h-4.5zM690.0 172.1h8.9v1.6h-8.9zM700.2 172.1h4.5v1.6h-4.5zM670.9 173.6h1.6v1.6h-1.6zM681.2 173.6h6.0v1.6h-6.0zM691.4 173.6h7.5v1.6h-7.5zM703.2 173.6h1.6v1.6h-1.6zM670.9 175.1h3.1v1.6h-3.1zM679.7 175.1h7.5v1.6h-7.5zM690.0 175.1h14.8v1.6h-14.8zM669.5 176.5h4.5v1.6h-4.5zM679.7 176.5h10.4v1.6h-10.4zM691.4 176.5h6.0v1.6h-6.0zM698.8 176.5h4.5v1.6h-4.5zM669.5 178.0h1.6v1.6h-1.6zM672.4 178.0h1.6v1.6h-1.6zM681.2 178.0h4.5v1.6h-4.5zM687.0 178.0h8.9v1.6h-8.9zM701.7 178.0h3.1v1.6h-3.1zM668.0 179.5h3.1v1.6h-3.1zM672.4 179.5h1.6v1.6h-1.6zM681.2 179.5h3.1v1.6h-3.1zM691.4 179.5h4.5v1.6h-4.5zM701.7 179.5h3.1v1.6h-3.1zM668.0 180.9h1.6v1.6h-1.6zM692.9 180.9h4.5v1.6h-4.5zM701.7 180.9h1.6v1.6h-1.6zM694.4 182.4h4.5v1.6h-4.5zM700.2 182.4h3.1v1.6h-3.1zM666.5 183.9h1.6v1.6h-1.6zM695.8 183.9h1.6v1.6h-1.6zM700.2 183.9h1.6v1.6h-1.6zM665.1 185.3h3.1v1.6h-3.1zM697.3 185.3h1.6v1.6h-1.6zM700.2 185.3h1.6v1.6h-1.6zM665.1 186.8h3.1v1.6h-3.1zM672.4 186.8h1.6v1.6h-1.6zM695.8 186.8h6.0v1.6h-6.0zM668.0 188.3h1.6v1.6h-1.6zM681.2 188.3h1.6v1.6h-1.6zM697.3 188.3h4.5v1.6h-4.5zM668.0 189.7h1.6v1.6h-1.6zM681.2 189.7h1.6v1.6h-1.6zM697.3 189.7h4.5v1.6h-4.5zM669.5 191.2h1.6v1.6h-1.6zM681.2 191.2h1.6v1.6h-1.6zM695.8 191.2h6.0v1.6h-6.0zM669.5 192.7h1.6v1.6h-1.6zM682.6 192.7h1.6v1.6h-1.6zM695.8 192.7h6.0v1.6h-6.0zM669.5 194.1h1.6v1.6h-1.6zM676.8 194.1h1.6v1.6h-1.6zM682.6 194.1h1.6v1.6h-1.6zM694.4 194.1h1.6v1.6h-1.6zM700.2 194.1h1.6v1.6h-1.6zM669.5 195.6h1.6v1.6h-1.6zM676.8 195.6h1.6v1.6h-1.6zM682.6 195.6h3.1v1.6h-3.1zM692.9 195.6h1.6v1.6h-1.6zM700.2 195.6h1.6v1.6h-1.6zM669.5 197.0h1.6v1.6h-1.6zM684.1 197.0h1.6v1.6h-1.6zM691.4 197.0h1.6v1.6h-1.6zM698.8 197.0h1.6v1.6h-1.6zM676.8 198.5h1.6v1.6h-1.6zM684.1 198.5h1.6v1.6h-1.6zM698.8 198.5h1.6v1.6h-1.6zM676.8 200.0h1.6v1.6h-1.6zM682.6 200.0h3.1v1.6h-3.1zM687.0 200.0h1.6v1.6h-1.6zM697.3 200.0h1.6v1.6h-1.6zM682.6 201.4h3.1v1.6h-3.1zM687.0 201.4h1.6v1.6h-1.6zM695.8 201.4h1.6v1.6h-1.6zM681.2 202.9h3.1v1.6h-3.1zM687.0 202.9h1.6v1.6h-1.6zM694.4 202.9h1.6v1.6h-1.6zM675.3 204.4h1.6v1.6h-1.6zM679.7 204.4h3.1v1.6h-3.1zM687.0 204.4h1.6v1.6h-1.6zM694.4 204.4h1.6v1.6h-1.6zM675.3 205.8h1.6v1.6h-1.6zM679.7 205.8h1.6v1.6h-1.6zM687.0 205.8h1.6v1.6h-1.6zM675.3 207.3h1.6v1.6h-1.6zM687.0 207.3h4.5v1.6h-4.5zM675.3 208.8h1.6v1.6h-1.6zM688.5 208.8h1.6v1.6h-1.6zM673.9 210.2h1.6v1.6h-1.6zM678.3 210.2h1.6v1.6h-1.6zM673.9 211.7h1.6v1.6h-1.6zM678.3 211.7h1.6v1.6h-1.6zM673.9 213.2h1.6v1.6h-1.6zM678.3 213.2h1.6v1.6h-1.6zM678.3 214.6h1.6v1.6h-1.6zM673.9 216.1h1.6v1.6h-1.6zM676.8 216.1h1.6v1.6h-1.6zM673.9 217.6h1.6v1.6h-1.6zM676.8 217.6h1.6v1.6h-1.6zM673.9 219.0h3.1v1.6h-3.1z" fill="#78f0ff"/>
<path d="M703.2 142.8h1.6v1.6h-1.6zM687.0 150.2h3.1v1.6h-3.1zM668.0 154.6h1.6v1.6h-1.6zM668.0 156.0h1.6v1.6h-1.6zM682.6 156.0h1.6v1.6h-1.6zM666.5 157.5h1.6v1.6h-1.6zM665.1 159.0h3.1v1.6h-3.1zM701.7 159.0h3.1v1.6h-3.1zM709.0 159.0h1.6v1.6h-1.6zM666.5 160.4h1.6v1.6h-1.6zM676.8 160.4h3.1v1.6h-3.1zM700.2 160.4h6.0v1.6h-6.0zM709.0 160.4h1.6v1.6h-1.6zM668.0 161.9h1.6v1.6h-1.6zM676.8 161.9h4.5v1.6h-4.5zM700.2 161.9h6.0v1.6h-6.0zM709.0 161.9h1.6v1.6h-1.6zM668.0 163.4h1.6v1.6h-1.6zM676.8 163.4h1.6v1.6h-1.6zM679.7 163.4h1.6v1.6h-1.6zM687.0 163.4h3.1v1.6h-3.1zM691.4 163.4h3.1v1.6h-3.1zM698.8 163.4h4.5v1.6h-4.5zM668.0 164.8h1.6v1.6h-1.6zM676.8 164.8h1.6v1.6h-1.6zM682.6 164.8h20.7v1.6h-20.7zM707.6 164.8h1.6v1.6h-1.6zM682.6 166.3h19.2v1.6h-19.2zM703.2 166.3h1.6v1.6h-1.6zM706.1 166.3h1.6v1.6h-1.6zM669.5 167.8h1.6v1.6h-1.6zM675.3 167.8h1.6v1.6h-1.6zM679.7 167.8h1.6v1.6h-1.6zM684.1 167.8h17.7v1.6h-17.7zM704.6 167.8h3.1v1.6h-3.1zM669.5 169.2h1.6v1.6h-1.6zM673.9 169.2h1.6v1.6h-1.6zM679.7 169.2h1.6v1.6h-1.6zM685.6 169.2h16.3v1.6h-16.3zM703.2 169.2h4.5v1.6h-4.5zM669.5 170.7h1.6v1.6h-1.6zM673.9 170.7h1.6v1.6h-1.6zM681.2 170.7h1.6v1.6h-1.6zM687.0 170.7h1.6v1.6h-1.6zM704.6 170.7h3.1v1.6h-3.1zM711.9 170.7h1.6v1.6h-1.6zM669.5 172.1h4.5v1.6h-4.5zM681.2 172.1h1.6v1.6h-1.6zM687.0 172.1h3.1v1.6h-3.1zM698.8 172.1h1.6v1.6h-1.6zM704.6 172.1h6.0v1.6h-6.0zM711.9 172.1h1.6v1.6h-1.6zM669.5 173.6h1.6v1.6h-1.6zM672.4 173.6h1.6v1.6h-1.6zM679.7 173.6h1.6v1.6h-1.6zM687.0 173.6h4.5v1.6h-4.5zM698.8 173.6h4.5v1.6h-4.5zM704.6 173.6h7.5v1.6h-7.5zM669.5 175.1h1.6v1.6h-1.6zM687.0 175.1h3.1v1.6h-3.1zM704.6 175.1h3.1v1.6h-3.1zM709.0 175.1h1.6v1.6h-1.6zM668.0 176.5h1.6v1.6h-1.6zM673.9 176.5h1.6v1.6h-1.6zM703.2 176.5h4.5v1.6h-4.5zM665.1 178.0h4.5v1.6h-4.5zM673.9 178.0h1.6v1.6h-1.6zM679.7 178.0h1.6v1.6h-1.6zM685.6 178.0h1.6v1.6h-1.6zM704.6 178.0h1.6v1.6h-1.6zM665.1 179.5h3.1v1.6h-3.1zM673.9 179.5h1.6v1.6h-1.6zM679.7 179.5h1.6v1.6h-1.6zM684.1 179.5h3.1v1.6h-3.1zM688.5 179.5h3.1v1.6h-3.1zM704.6 179.5h1.6v1.6h-1.6zM665.1 180.9h3.1v1.6h-3.1zM673.9 180.9h1.6v1.6h-1.6zM681.2 180.9h4.5v1.6h-4.5zM691.4 180.9h1.6v1.6h-1.6zM703.2 180.9h1.6v1.6h-1.6zM665.1 182.4h3.1v1.6h-3.1zM679.7 182.4h3.1v1.6h-3.1zM690.0 182.4h4.5v1.6h-4.5zM703.2 182.4h1.6v1.6h-1.6zM665.1 183.9h1.6v1.6h-1.6zM673.9 183.9h1.6v1.6h-1.6zM679.7 183.9h1.6v1.6h-1.6zM690.0 183.9h6.0v1.6h-6.0zM701.7 183.9h1.6v1.6h-1.6zM722.2 183.9h1.6v1.6h-1.6zM673.9 185.3h1.6v1.6h-1.6zM679.7 185.3h3.1v1.6h-3.1zM691.4 185.3h1.6v1.6h-1.6zM694.4 185.3h3.1v1.6h-3.1zM701.7 185.3h1.6v1.6h-1.6zM720.7 185.3h7.5v1.6h-7.5zM663.6 186.8h1.6v1.6h-1.6zM679.7 186.8h4.5v1.6h-4.5zM694.4 186.8h1.6v1.6h-1.6zM719.3 186.8h1.6v1.6h-1.6zM722.2 186.8h6.0v1.6h-6.0zM665.1 188.3h3.1v1.6h-3.1zM672.4 188.3h1.6v1.6h-1.6zM679.7 188.3h1.6v1.6h-1.6zM682.6 188.3h1.6v1.6h-1.6zM695.8 188.3h1.6v1.6h-1.6zM701.7 188.3h1.6v1.6h-1.6zM720.7 188.3h1.6v1.6h-1.6zM725.1 188.3h3.1v1.6h-3.1zM666.5 189.7h1.6v1.6h-1.6zM672.4 189.7h1.6v1.6h-1.6zM678.3 189.7h3.1v1.6h-3.1zM682.6 189.7h1.6v1.6h-1.6zM695.8 189.7h1.6v1.6h-1.6zM701.7 189.7h1.6v1.6h-1.6zM719.3 189.7h1.6v1.6h-1.6zM723.7 189.7h4.5v1.6h-4.5zM668.0 191.2h1.6v1.6h-1.6zM670.9 191.2h1.6v1.6h-1.6zM678.3 191.2h1.6v1.6h-1.6zM682.6 191.2h1.6v1.6h-1.6zM692.9 191.2h3.1v1.6h-3.1zM701.7 191.2h1.6v1.6h-1.6zM723.7 191.2h3.1v1.6h-3.1zM668.0 192.7h1.6v1.6h-1.6zM670.9 192.7h1.6v1.6h-1.6zM676.8 192.7h1.6v1.6h-1.6zM684.1 192.7h1.6v1.6h-1.6zM694.4 192.7h1.6v1.6h-1.6zM701.7 192.7h3.1v1.6h-3.1zM725.1 192.7h1.6v1.6h-1.6zM668.0 194.1h1.6v1.6h-1.6zM670.9 194.1h1.6v1.6h-1.6zM684.1 194.1h3.1v1.6h-3.1zM692.9 194.1h1.6v1.6h-1.6zM701.7 194.1h1.6v1.6h-1.6zM668.0 195.6h1.6v1.6h-1.6zM670.9 195.6h1.6v1.6h-1.6zM675.3 195.6h1.6v1.6h-1.6zM685.6 195.6h1.6v1.6h-1.6zM691.4 195.6h1.6v1.6h-1.6zM701.7 195.6h3.1v1.6h-3.1zM668.0 197.0h1.6v1.6h-1.6zM670.9 197.0h1.6v1.6h-1.6zM675.3 197.0h1.6v1.6h-1.6zM685.6 197.0h6.0v1.6h-6.0zM700.2 197.0h1.6v1.6h-1.6zM668.0 198.5h4.5v1.6h-4.5zM675.3 198.5h1.6v1.6h-1.6zM685.6 198.5h4.5v1.6h-4.5zM700.2 198.5h1.6v1.6h-1.6zM669.5 200.0h3.1v1.6h-3.1zM675.3 200.0h1.6v1.6h-1.6zM685.6 200.0h1.6v1.6h-1.6zM698.8 200.0h1.6v1.6h-1.6zM675.3 201.4h1.6v1.6h-1.6zM685.6 201.4h1.6v1.6h-1.6zM697.3 201.4h1.6v1.6h-1.6zM675.3 202.9h1.6v1.6h-1.6zM684.1 202.9h3.1v1.6h-3.1zM695.8 202.9h1.6v1.6h-1.6zM682.6 204.4h4.5v1.6h-4.5zM695.8 204.4h1.6v1.6h-1.6zM681.2 205.8h6.0v1.6h-6.0zM692.9 205.8h1.6v1.6h-1.6zM673.9 207.3h1.6v1.6h-1.6zM679.7 207.3h3.1v1.6h-3.1zM685.6 207.3h1.6v1.6h-1.6zM691.4 207.3h1.6v1.6h-1.6zM673.9 208.8h1.6v1.6h-1.6zM679.7 208.8h3.1v1.6h-3.1zM685.6 208.8h3.1v1.6h-3.1zM690.0 208.8h1.6v1.6h-1.6zM679.7 210.2h1.6v1.6h-1.6zM687.0 210.2h3.1v1.6h-3.1zM679.7 211.7h1.6v1.6h-1.6zM685.6 211.7h3.1v1.6h-3.1zM672.4 213.2h1.6v1.6h-1.6zM679.7 213.2h1.6v1.6h-1.6zM685.6 213.2h1.6v1.6h-1.6zM707.6 213.2h3.1v1.6h-3.1zM672.4 214.6h1.6v1.6h-1.6zM679.7 214.6h1.6v1.6h-1.6zM706.1 214.6h3.1v1.6h-3.1zM672.4 216.1h1.6v1.6h-1.6zM678.3 216.1h1.6v1.6h-1.6zM706.1 216.1h1.6v1.6h-1.6zM672.4 217.6h1.6v1.6h-1.6zM678.3 217.6h1.6v1.6h-1.6zM706.1 217.6h1.6v1.6h-1.6zM672.4 219.0h1.6v1.6h-1.6zM676.8 219.0h1.6v1.6h-1.6zM673.9 220.5h3.1v1.6h-3.1zM701.7 220.5h1.6v1.6h-1.6zM673.9 221.9h1.6v1.6h-1.6zM698.8 223.4h1.6v1.6h-1.6zM698.8 224.9h1.6v1.6h-1.6zM668.0 249.8h1.6v1.6h-1.6z" fill="#58e0f8"/>
<path d="M668.0 153.1h1.6v1.6h-1.6zM665.1 156.0h3.1v1.6h-3.1zM663.6 157.5h3.1v1.6h-3.1zM663.6 159.0h1.6v1.6h-1.6zM662.1 160.4h4.5v1.6h-4.5zM663.6 161.9h4.5v1.6h-4.5zM665.1 163.4h3.1v1.6h-3.1zM678.3 163.4h1.6v1.6h-1.6zM713.4 163.4h1.6v1.6h-1.6zM666.5 164.8h1.6v1.6h-1.6zM678.3 164.8h1.6v1.6h-1.6zM710.5 164.8h1.6v1.6h-1.6zM666.5 166.3h3.1v1.6h-3.1zM676.8 166.3h3.1v1.6h-3.1zM666.5 167.8h3.1v1.6h-3.1zM676.8 167.8h3.1v1.6h-3.1zM666.5 169.2h3.1v1.6h-3.1zM675.3 169.2h4.5v1.6h-4.5zM713.4 169.2h1.6v1.6h-1.6zM665.1 170.7h4.5v1.6h-4.5zM675.3 170.7h1.6v1.6h-1.6zM679.7 170.7h1.6v1.6h-1.6zM713.4 170.7h3.1v1.6h-3.1zM665.1 172.1h4.5v1.6h-4.5zM673.9 172.1h1.6v1.6h-1.6zM678.3 172.1h3.1v1.6h-3.1zM665.1 173.6h4.5v1.6h-4.5zM673.9 173.6h1.6v1.6h-1.6zM678.3 173.6h1.6v1.6h-1.6zM665.1 175.1h4.5v1.6h-4.5zM673.9 175.1h1.6v1.6h-1.6zM678.3 175.1h1.6v1.6h-1.6zM707.6 175.1h1.6v1.6h-1.6zM710.5 175.1h1.6v1.6h-1.6zM663.6 176.5h4.5v1.6h-4.5zM675.3 176.5h1.6v1.6h-1.6zM678.3 176.5h1.6v1.6h-1.6zM707.6 176.5h3.1v1.6h-3.1zM711.9 176.5h1.6v1.6h-1.6zM663.6 178.0h1.6v1.6h-1.6zM675.3 178.0h1.6v1.6h-1.6zM678.3 178.0h1.6v1.6h-1.6zM706.1 178.0h3.1v1.6h-3.1zM663.6 179.5h1.6v1.6h-1.6zM675.3 179.5h1.6v1.6h-1.6zM678.3 179.5h1.6v1.6h-1.6zM687.0 179.5h1.6v1.6h-1.6zM706.1 179.5h1.6v1.6h-1.6zM663.6 180.9h1.6v1.6h-1.6zM675.3 180.9h1.6v1.6h-1.6zM678.3 180.9h3.1v1.6h-3.1zM685.6 180.9h6.0v1.6h-6.0zM704.6 180.9h3.1v1.6h-3.1zM722.2 180.9h1.6v1.6h-1.6zM663.6 182.4h1.6v1.6h-1.6zM675.3 182.4h1.6v1.6h-1.6zM678.3 182.4h1.6v1.6h-1.6zM682.6 182.4h3.1v1.6h-3.1zM687.0 182.4h3.1v1.6h-3.1zM704.6 182.4h1.6v1.6h-1.6zM720.7 182.4h1.6v1.6h-1.6zM675.3 183.9h1.6v1.6h-1.6zM678.3 183.9h1.6v1.6h-1.6zM681.2 183.9h3.1v1.6h-3.1zM687.0 183.9h3.1v1.6h-3.1zM703.2 183.9h3.1v1.6h-3.1zM719.3 183.9h3.1v1.6h-3.1zM726.6 183.9h3.1v1.6h-3.1zM662.1 185.3h1.6v1.6h-1.6zM678.3 185.3h1.6v1.6h-1.6zM682.6 185.3h1.6v1.6h-1.6zM688.5 185.3h3.1v1.6h-3.1zM692.9 185.3h1.6v1.6h-1.6zM703.2 185.3h1.6v1.6h-1.6zM719.3 185.3h1.6v1.6h-1.6zM728.1 185.3h1.6v1.6h-1.6zM673.9 186.8h1.6v1.6h-1.6zM678.3 186.8h1.6v1.6h-1.6zM684.1 186.8h1.6v1.6h-1.6zM688.5 186.8h6.0v1.6h-6.0zM703.2 186.8h1.6v1.6h-1.6zM717.8 186.8h1.6v1.6h-1.6zM720.7 186.8h1.6v1.6h-1.6zM728.1 186.8h1.6v1.6h-1.6zM663.6 188.3h1.6v1.6h-1.6zM673.9 188.3h1.6v1.6h-1.6zM678.3 188.3h1.6v1.6h-1.6zM684.1 188.3h1.6v1.6h-1.6zM688.5 188.3h7.5v1.6h-7.5zM703.2 188.3h1.6v1.6h-1.6zM719.3 188.3h1.6v1.6h-1.6zM722.2 188.3h3.1v1.6h-3.1zM728.1 188.3h1.6v1.6h-1.6zM665.1 189.7h1.6v1.6h-1.6zM673.9 189.7h4.5v1.6h-4.5zM684.1 189.7h1.6v1.6h-1.6zM688.5 189.7h7.5v1.6h-7.5zM703.2 189.7h1.6v1.6h-1.6zM717.8 189.7h1.6v1.6h-1.6zM720.7 189.7h3.1v1.6h-3.1zM666.5 191.2h1.6v1.6h-1.6zM672.4 191.2h6.0v1.6h-6.0zM684.1 191.2h3.1v1.6h-3.1zM688.5 191.2h4.5v1.6h-4.5zM703.2 191.2h1.6v1.6h-1.6zM719.3 191.2h4.5v1.6h-4.5zM666.5 192.7h1.6v1.6h-1.6zM672.4 192.7h4.5v1.6h-4.5zM685.6 192.7h8.9v1.6h-8.9zM717.8 192.7h7.5v1.6h-7.5zM666.5 194.1h1.6v1.6h-1.6zM672.4 194.1h4.5v1.6h-4.5zM687.0 194.1h3.1v1.6h-3.1zM691.4 194.1h1.6v1.6h-1.6zM703.2 194.1h3.1v1.6h-3.1zM716.3 194.1h8.9v1.6h-8.9zM666.5 195.6h1.6v1.6h-1.6zM672.4 195.6h3.1v1.6h-3.1zM687.0 195.6h4.5v1.6h-4.5zM704.6 195.6h1.6v1.6h-1.6zM720.7 195.6h4.5v1.6h-4.5zM672.4 197.0h3.1v1.6h-3.1zM701.7 197.0h3.1v1.6h-3.1zM672.4 198.5h3.1v1.6h-3.1zM701.7 198.5h3.1v1.6h-3.1zM668.0 200.0h1.6v1.6h-1.6zM672.4 200.0h3.1v1.6h-3.1zM700.2 200.0h3.1v1.6h-3.1zM668.0 201.4h7.5v1.6h-7.5zM698.8 201.4h1.6v1.6h-1.6zM668.0 202.9h7.5v1.6h-7.5zM697.3 202.9h3.1v1.6h-3.1zM666.5 204.4h8.9v1.6h-8.9zM697.3 204.4h1.6v1.6h-1.6zM666.5 205.8h8.9v1.6h-8.9zM694.4 205.8h1.6v1.6h-1.6zM713.4 205.8h1.6v1.6h-1.6zM666.5 207.3h4.5v1.6h-4.5zM672.4 207.3h1.6v1.6h-1.6zM682.6 207.3h3.1v1.6h-3.1zM692.9 207.3h1.6v1.6h-1.6zM711.9 207.3h3.1v1.6h-3.1zM668.0 208.8h3.1v1.6h-3.1zM672.4 208.8h1.6v1.6h-1.6zM682.6 208.8h3.1v1.6h-3.1zM691.4 208.8h1.6v1.6h-1.6zM710.5 208.8h4.5v1.6h-4.5zM668.0 210.2h3.1v1.6h-3.1zM672.4 210.2h1.6v1.6h-1.6zM681.2 210.2h6.0v1.6h-6.0zM690.0 210.2h1.6v1.6h-1.6zM710.5 210.2h3.1v1.6h-3.1zM668.0 211.7h1.6v1.6h-1.6zM672.4 211.7h1.6v1.6h-1.6zM681.2 211.7h4.5v1.6h-4.5zM688.5 211.7h3.1v1.6h-3.1zM707.6 211.7h4.5v1.6h-4.5zM681.2 213.2h4.5v1.6h-4.5zM687.0 213.2h1.6v1.6h-1.6zM706.1 213.2h1.6v1.6h-1.6zM710.5 213.2h1.6v1.6h-1.6zM681.2 214.6h6.0v1.6h-6.0zM709.0 214.6h1.6v1.6h-1.6zM679.7 216.1h7.5v1.6h-7.5zM704.6 216.1h1.6v1.6h-1.6zM707.6 216.1h1.6v1.6h-1.6zM679.7 217.6h1.6v1.6h-1.6zM682.6 217.6h3.1v1.6h-3.1zM703.2 217.6h3.1v1.6h-3.1zM707.6 217.6h1.6v1.6h-1.6zM719.3 217.6h3.1v1.6h-3.1zM678.3 219.0h3.1v1.6h-3.1zM682.6 219.0h1.6v1.6h-1.6zM701.7 219.0h4.5v1.6h-4.5zM717.8 219.0h3.1v1.6h-3.1zM672.4 220.5h1.6v1.6h-1.6zM676.8 220.5h3.1v1.6h-3.1zM700.2 220.5h1.6v1.6h-1.6zM703.2 220.5h1.6v1.6h-1.6zM717.8 220.5h3.1v1.6h-3.1zM672.4 221.9h1.6v1.6h-1.6zM675.3 221.9h4.5v1.6h-4.5zM681.2 221.9h1.6v1.6h-1.6zM698.8 221.9h4.5v1.6h-4.5zM679.7 223.4h3.1v1.6h-3.1zM700.2 223.4h1.6v1.6h-1.6zM679.7 224.9h3.1v1.6h-3.1zM697.3 224.9h1.6v1.6h-1.6zM695.8 226.3h4.5v1.6h-4.5zM695.8 227.8h1.6v1.6h-1.6zM694.4 229.3h1.6v1.6h-1.6zM668.0 246.9h1.6v1.6h-1.6zM668.0 248.3h1.6v1.6h-1.6zM668.0 251.2h1.6v1.6h-1.6z" fill="#40ccf8"/>
<path d="M666.5 153.1h1.6v1.6h-1.6zM666.5 154.6h1.6v1.6h-1.6zM663.6 156.0h1.6v1.6h-1.6zM720.7 156.0h1.6v1.6h-1.6zM662.1 157.5h1.6v1.6h-1.6zM662.1 159.0h1.6v1.6h-1.6zM660.7 160.4h1.6v1.6h-1.6zM660.7 161.9h3.1v1.6h-3.1zM713.4 161.9h1.6v1.6h-1.6zM660.7 163.4h4.5v1.6h-4.5zM662.1 164.8h4.5v1.6h-4.5zM663.6 166.3h3.1v1.6h-3.1zM663.6 167.8h3.1v1.6h-3.1zM662.1 169.2h4.5v1.6h-4.5zM662.1 170.7h3.1v1.6h-3.1zM676.8 170.7h3.1v1.6h-3.1zM726.6 170.7h1.6v1.6h-1.6zM660.7 172.1h4.5v1.6h-4.5zM675.3 172.1h3.1v1.6h-3.1zM726.6 172.1h3.1v1.6h-3.1zM660.7 173.6h4.5v1.6h-4.5zM675.3 173.6h3.1v1.6h-3.1zM716.3 173.6h1.6v1.6h-1.6zM726.6 173.6h3.1v1.6h-3.1zM662.1 175.1h3.1v1.6h-3.1zM675.3 175.1h3.1v1.6h-3.1zM714.9 175.1h4.5v1.6h-4.5zM725.1 175.1h6.0v1.6h-6.0zM662.1 176.5h1.6v1.6h-1.6zM676.8 176.5h1.6v1.6h-1.6zM710.5 176.5h1.6v1.6h-1.6zM713.4 176.5h4.5v1.6h-4.5zM726.6 176.5h3.1v1.6h-3.1zM662.1 178.0h1.6v1.6h-1.6zM676.8 178.0h1.6v1.6h-1.6zM709.0 178.0h8.9v1.6h-8.9zM662.1 179.5h1.6v1.6h-1.6zM676.8 179.5h1.6v1.6h-1.6zM707.6 179.5h1.6v1.6h-1.6zM720.7 179.5h3.1v1.6h-3.1zM662.1 180.9h1.6v1.6h-1.6zM676.8 180.9h1.6v1.6h-1.6zM719.3 180.9h3.1v1.6h-3.1zM662.1 182.4h1.6v1.6h-1.6zM676.8 182.4h1.6v1.6h-1.6zM685.6 182.4h1.6v1.6h-1.6zM706.1 182.4h1.6v1.6h-1.6zM719.3 182.4h1.6v1.6h-1.6zM662.1 183.9h1.6v1.6h-1.6zM676.8 183.9h1.6v1.6h-1.6zM684.1 183.9h3.1v1.6h-3.1zM706.1 183.9h1.6v1.6h-1.6zM717.8 183.9h1.6v1.6h-1.6zM729.5 183.9h1.6v1.6h-1.6zM675.3 185.3h3.1v1.6h-3.1zM684.1 185.3h4.5v1.6h-4.5zM704.6 185.3h3.1v1.6h-3.1zM717.8 185.3h1.6v1.6h-1.6zM662.1 186.8h1.6v1.6h-1.6zM675.3 186.8h3.1v1.6h-3.1zM685.6 186.8h3.1v1.6h-3.1zM704.6 186.8h3.1v1.6h-3.1zM675.3 188.3h3.1v1.6h-3.1zM685.6 188.3h3.1v1.6h-3.1zM704.6 188.3h1.6v1.6h-1.6zM716.3 188.3h3.1v1.6h-3.1zM663.6 189.7h1.6v1.6h-1.6zM685.6 189.7h3.1v1.6h-3.1zM704.6 189.7h1.6v1.6h-1.6zM716.3 189.7h1.6v1.6h-1.6zM665.1 191.2h1.6v1.6h-1.6zM687.0 191.2h1.6v1.6h-1.6zM704.6 191.2h1.6v1.6h-1.6zM716.3 191.2h3.1v1.6h-3.1zM665.1 192.7h1.6v1.6h-1.6zM704.6 192.7h1.6v1.6h-1.6zM713.4 192.7h4.5v1.6h-4.5zM665.1 194.1h1.6v1.6h-1.6zM690.0 194.1h1.6v1.6h-1.6zM713.4 194.1h3.1v1.6h-3.1zM665.1 195.6h1.6v1.6h-1.6zM706.1 195.6h1.6v1.6h-1.6zM713.4 195.6h7.5v1.6h-7.5zM666.5 197.0h1.6v1.6h-1.6zM704.6 197.0h1.6v1.6h-1.6zM711.9 197.0h13.3v1.6h-13.3zM666.5 198.5h1.6v1.6h-1.6zM704.6 198.5h1.6v1.6h-1.6zM711.9 198.5h11.9v1.6h-11.9zM666.5 200.0h1.6v1.6h-1.6zM703.2 200.0h3.1v1.6h-3.1zM711.9 200.0h4.5v1.6h-4.5zM717.8 200.0h3.1v1.6h-3.1zM736.8 200.0h1.6v1.6h-1.6zM742.7 200.0h1.6v1.6h-1.6zM666.5 201.4h1.6v1.6h-1.6zM700.2 201.4h4.5v1.6h-4.5zM706.1 201.4h4.5v1.6h-4.5zM717.8 201.4h1.6v1.6h-1.6zM735.4 201.4h1.6v1.6h-1.6zM738.3 201.4h1.6v1.6h-1.6zM666.5 202.9h1.6v1.6h-1.6zM700.2 202.9h10.4v1.6h-10.4zM716.3 202.9h1.6v1.6h-1.6zM736.8 202.9h3.1v1.6h-3.1zM698.8 204.4h11.9v1.6h-11.9zM713.4 204.4h3.1v1.6h-3.1zM695.8 205.8h17.7v1.6h-17.7zM714.9 205.8h3.1v1.6h-3.1zM670.9 207.3h1.6v1.6h-1.6zM694.4 207.3h17.7v1.6h-17.7zM714.9 207.3h1.6v1.6h-1.6zM666.5 208.8h1.6v1.6h-1.6zM670.9 208.8h1.6v1.6h-1.6zM692.9 208.8h1.6v1.6h-1.6zM698.8 208.8h8.9v1.6h-8.9zM709.0 208.8h1.6v1.6h-1.6zM666.5 210.2h1.6v1.6h-1.6zM670.9 210.2h1.6v1.6h-1.6zM691.4 210.2h3.1v1.6h-3.1zM700.2 210.2h6.0v1.6h-6.0zM709.0 210.2h1.6v1.6h-1.6zM713.4 210.2h1.6v1.6h-1.6zM666.5 211.7h1.6v1.6h-1.6zM669.5 211.7h3.1v1.6h-3.1zM691.4 211.7h1.6v1.6h-1.6zM700.2 211.7h4.5v1.6h-4.5zM706.1 211.7h1.6v1.6h-1.6zM711.9 211.7h1.6v1.6h-1.6zM668.0 213.2h4.5v1.6h-4.5zM688.5 213.2h3.1v1.6h-3.1zM700.2 213.2h6.0v1.6h-6.0zM668.0 214.6h4.5v1.6h-4.5zM687.0 214.6h3.1v1.6h-3.1zM701.7 214.6h4.5v1.6h-4.5zM710.5 214.6h1.6v1.6h-1.6zM668.0 216.1h4.5v1.6h-4.5zM687.0 216.1h1.6v1.6h-1.6zM703.2 216.1h1.6v1.6h-1.6zM709.0 216.1h1.6v1.6h-1.6zM719.3 216.1h6.0v1.6h-6.0zM668.0 217.6h4.5v1.6h-4.5zM681.2 217.6h1.6v1.6h-1.6zM685.6 217.6h1.6v1.6h-1.6zM701.7 217.6h1.6v1.6h-1.6zM717.8 217.6h1.6v1.6h-1.6zM722.2 217.6h1.6v1.6h-1.6zM670.9 219.0h1.6v1.6h-1.6zM681.2 219.0h1.6v1.6h-1.6zM684.1 219.0h1.6v1.6h-1.6zM700.2 219.0h1.6v1.6h-1.6zM706.1 219.0h1.6v1.6h-1.6zM716.3 219.0h1.6v1.6h-1.6zM720.7 219.0h3.1v1.6h-3.1zM670.9 220.5h1.6v1.6h-1.6zM679.7 220.5h4.5v1.6h-4.5zM704.6 220.5h1.6v1.6h-1.6zM716.3 220.5h1.6v1.6h-1.6zM679.7 221.9h1.6v1.6h-1.6zM682.6 221.9h1.6v1.6h-1.6zM703.2 221.9h1.6v1.6h-1.6zM711.9 221.9h1.6v1.6h-1.6zM714.9 221.9h4.5v1.6h-4.5zM672.4 223.4h7.5v1.6h-7.5zM682.6 223.4h1.6v1.6h-1.6zM697.3 223.4h1.6v1.6h-1.6zM701.7 223.4h1.6v1.6h-1.6zM711.9 223.4h6.0v1.6h-6.0zM678.3 224.9h1.6v1.6h-1.6zM695.8 224.9h1.6v1.6h-1.6zM700.2 224.9h1.6v1.6h-1.6zM679.7 226.3h3.1v1.6h-3.1zM694.4 226.3h1.6v1.6h-1.6zM679.7 227.8h1.6v1.6h-1.6zM694.4 227.8h1.6v1.6h-1.6zM697.3 227.8h1.6v1.6h-1.6zM679.7 229.3h1.6v1.6h-1.6zM692.9 229.3h1.6v1.6h-1.6zM695.8 229.3h1.6v1.6h-1.6zM692.9 230.7h1.6v1.6h-1.6zM668.0 239.5h1.6v1.6h-1.6zM668.0 241.0h1.6v1.6h-1.6zM668.0 242.5h1.6v1.6h-1.6zM668.0 243.9h1.6v1.6h-1.6zM668.0 245.4h1.6v1.6h-1.6zM668.0 252.7h1.6v1.6h-1.6z" fill="#30b8f8"/>
<path d="M660.7 145.8h3.1v1.6h-3.1zM660.7 147.2h3.1v1.6h-3.1zM665.1 151.6h1.6v1.6h-1.6zM663.6 153.1h3.1v1.6h-3.1zM662.1 154.6h4.5v1.6h-4.5zM660.7 156.0h3.1v1.6h-3.1zM723.7 156.0h1.6v1.6h-1.6zM660.7 157.5h1.6v1.6h-1.6zM720.7 157.5h4.5v1.6h-4.5zM657.7 159.0h1.6v1.6h-1.6zM660.7 159.0h1.6v1.6h-1.6zM659.2 164.8h3.1v1.6h-3.1zM660.7 166.3h3.1v1.6h-3.1zM660.7 167.8h3.1v1.6h-3.1zM603.5 169.2h3.1v1.6h-3.1zM659.2 169.2h3.1v1.6h-3.1zM725.1 169.2h4.5v1.6h-4.5zM603.5 170.7h3.1v1.6h-3.1zM659.2 170.7h3.1v1.6h-3.1zM725.1 170.7h1.6v1.6h-1.6zM603.5 172.1h1.6v1.6h-1.6zM657.7 172.1h3.1v1.6h-3.1zM657.7 173.6h3.1v1.6h-3.1zM717.8 173.6h3.1v1.6h-3.1zM657.7 175.1h4.5v1.6h-4.5zM719.3 175.1h4.5v1.6h-4.5zM657.7 176.5h4.5v1.6h-4.5zM717.8 176.5h4.5v1.6h-4.5zM659.2 178.0h3.1v1.6h-3.1zM717.8 178.0h6.0v1.6h-6.0zM660.7 179.5h1.6v1.6h-1.6zM709.0 179.5h11.9v1.6h-11.9zM660.7 180.9h1.6v1.6h-1.6zM707.6 180.9h11.9v1.6h-11.9zM732.5 180.9h1.6v1.6h-1.6zM660.7 182.4h1.6v1.6h-1.6zM707.6 182.4h7.5v1.6h-7.5zM716.3 182.4h3.1v1.6h-3.1zM731.0 182.4h1.6v1.6h-1.6zM660.7 183.9h1.6v1.6h-1.6zM707.6 183.9h6.0v1.6h-6.0zM716.3 183.9h1.6v1.6h-1.6zM660.7 185.3h1.6v1.6h-1.6zM707.6 185.3h4.5v1.6h-4.5zM714.9 185.3h3.1v1.6h-3.1zM660.7 186.8h1.6v1.6h-1.6zM707.6 186.8h3.1v1.6h-3.1zM716.3 186.8h1.6v1.6h-1.6zM662.1 188.3h1.6v1.6h-1.6zM706.1 188.3h4.5v1.6h-4.5zM714.9 188.3h1.6v1.6h-1.6zM706.1 189.7h1.6v1.6h-1.6zM654.8 191.2h1.6v1.6h-1.6zM663.6 191.2h1.6v1.6h-1.6zM706.1 191.2h1.6v1.6h-1.6zM714.9 191.2h1.6v1.6h-1.6zM654.8 192.7h3.1v1.6h-3.1zM663.6 192.7h1.6v1.6h-1.6zM706.1 192.7h1.6v1.6h-1.6zM663.6 194.1h1.6v1.6h-1.6zM706.1 194.1h1.6v1.6h-1.6zM711.9 195.6h1.6v1.6h-1.6zM665.1 197.0h1.6v1.6h-1.6zM706.1 197.0h1.6v1.6h-1.6zM710.5 197.0h1.6v1.6h-1.6zM725.1 197.0h1.6v1.6h-1.6zM706.1 198.5h3.1v1.6h-3.1zM710.5 198.5h1.6v1.6h-1.6zM723.7 198.5h1.6v1.6h-1.6zM706.1 200.0h6.0v1.6h-6.0zM716.3 200.0h1.6v1.6h-1.6zM720.7 200.0h1.6v1.6h-1.6zM660.7 201.4h6.0v1.6h-6.0zM704.6 201.4h1.6v1.6h-1.6zM710.5 201.4h7.5v1.6h-7.5zM719.3 201.4h1.6v1.6h-1.6zM741.2 201.4h3.1v1.6h-3.1zM660.7 202.9h6.0v1.6h-6.0zM710.5 202.9h6.0v1.6h-6.0zM717.8 202.9h3.1v1.6h-3.1zM739.8 202.9h3.1v1.6h-3.1zM659.2 204.4h7.5v1.6h-7.5zM710.5 204.4h3.1v1.6h-3.1zM716.3 204.4h3.1v1.6h-3.1zM735.4 204.4h4.5v1.6h-4.5zM657.7 205.8h3.1v1.6h-3.1zM665.1 205.8h1.6v1.6h-1.6zM732.5 205.8h6.0v1.6h-6.0zM657.7 207.3h1.6v1.6h-1.6zM665.1 207.3h1.6v1.6h-1.6zM731.0 207.3h7.5v1.6h-7.5zM657.7 208.8h1.6v1.6h-1.6zM665.1 208.8h1.6v1.6h-1.6zM694.4 208.8h4.5v1.6h-4.5zM707.6 208.8h1.6v1.6h-1.6zM714.9 208.8h1.6v1.6h-1.6zM729.5 208.8h3.1v1.6h-3.1zM735.4 208.8h1.6v1.6h-1.6zM657.7 210.2h3.1v1.6h-3.1zM694.4 210.2h6.0v1.6h-6.0zM706.1 210.2h3.1v1.6h-3.1zM728.1 210.2h4.5v1.6h-4.5zM657.7 211.7h3.1v1.6h-3.1zM692.9 211.7h7.5v1.6h-7.5zM704.6 211.7h1.6v1.6h-1.6zM713.4 211.7h1.6v1.6h-1.6zM728.1 211.7h4.5v1.6h-4.5zM657.7 213.2h3.1v1.6h-3.1zM666.5 213.2h1.6v1.6h-1.6zM691.4 213.2h4.5v1.6h-4.5zM697.3 213.2h3.1v1.6h-3.1zM711.9 213.2h1.6v1.6h-1.6zM657.7 214.6h1.6v1.6h-1.6zM666.5 214.6h1.6v1.6h-1.6zM690.0 214.6h1.6v1.6h-1.6zM698.8 214.6h3.1v1.6h-3.1zM711.9 214.6h1.6v1.6h-1.6zM719.3 214.6h7.5v1.6h-7.5zM659.2 216.1h1.6v1.6h-1.6zM666.5 216.1h1.6v1.6h-1.6zM688.5 216.1h1.6v1.6h-1.6zM698.8 216.1h4.5v1.6h-4.5zM710.5 216.1h3.1v1.6h-3.1zM717.8 216.1h1.6v1.6h-1.6zM725.1 216.1h1.6v1.6h-1.6zM659.2 217.6h1.6v1.6h-1.6zM687.0 217.6h1.6v1.6h-1.6zM698.8 217.6h3.1v1.6h-3.1zM709.0 217.6h1.6v1.6h-1.6zM716.3 217.6h1.6v1.6h-1.6zM723.7 217.6h1.6v1.6h-1.6zM659.2 219.0h1.6v1.6h-1.6zM668.0 219.0h3.1v1.6h-3.1zM685.6 219.0h1.6v1.6h-1.6zM698.8 219.0h1.6v1.6h-1.6zM707.6 219.0h1.6v1.6h-1.6zM714.9 219.0h1.6v1.6h-1.6zM723.7 219.0h1.6v1.6h-1.6zM659.2 220.5h1.6v1.6h-1.6zM668.0 220.5h3.1v1.6h-3.1zM684.1 220.5h1.6v1.6h-1.6zM698.8 220.5h1.6v1.6h-1.6zM706.1 220.5h1.6v1.6h-1.6zM710.5 220.5h6.0v1.6h-6.0zM720.7 220.5h3.1v1.6h-3.1zM668.0 221.9h4.5v1.6h-4.5zM697.3 221.9h1.6v1.6h-1.6zM704.6 221.9h1.6v1.6h-1.6zM710.5 221.9h1.6v1.6h-1.6zM713.4 221.9h1.6v1.6h-1.6zM719.3 221.9h1.6v1.6h-1.6zM668.0 223.4h4.5v1.6h-4.5zM695.8 223.4h1.6v1.6h-1.6zM703.2 223.4h1.6v1.6h-1.6zM710.5 223.4h1.6v1.6h-1.6zM717.8 223.4h1.6v1.6h-1.6zM668.0 224.9h1.6v1.6h-1.6zM672.4 224.9h6.0v1.6h-6.0zM682.6 224.9h1.6v1.6h-1.6zM694.4 224.9h1.6v1.6h-1.6zM710.5 224.9h6.0v1.6h-6.0zM668.0 226.3h1.6v1.6h-1.6zM676.8 226.3h3.1v1.6h-3.1zM700.2 226.3h1.6v1.6h-1.6zM678.3 227.8h1.6v1.6h-1.6zM681.2 227.8h1.6v1.6h-1.6zM692.9 227.8h1.6v1.6h-1.6zM698.8 227.8h1.6v1.6h-1.6zM678.3 229.3h1.6v1.6h-1.6zM697.3 229.3h1.6v1.6h-1.6zM678.3 230.7h1.6v1.6h-1.6zM691.4 230.7h1.6v1.6h-1.6zM694.4 230.7h1.6v1.6h-1.6zM678.3 232.2h1.6v1.6h-1.6zM691.4 232.2h3.1v1.6h-3.1zM676.8 233.7h1.6v1.6h-1.6zM668.0 236.6h1.6v1.6h-1.6zM668.0 238.1h1.6v1.6h-1.6zM672.4 245.4h1.6v1.6h-1.6zM670.9 246.9h1.6v1.6h-1.6z" fill="#20a0f0"/>
<path d="M660.7 148.7h3.1v1.6h-3.1zM638.7 150.2h1.6v1.6h-1.6zM660.7 150.2h4.5v1.6h-4.5zM660.7 151.6h4.5v1.6h-4.5zM660.7 153.1h3.1v1.6h-3.1zM660.7 154.6h1.6v1.6h-1.6zM657.7 156.0h1.6v1.6h-1.6zM656.3 157.5h3.1v1.6h-3.1zM654.8 159.0h3.1v1.6h-3.1zM722.2 159.0h3.1v1.6h-3.1zM656.3 160.4h1.6v1.6h-1.6zM656.3 161.9h1.6v1.6h-1.6zM657.7 163.4h1.6v1.6h-1.6zM657.7 164.8h1.6v1.6h-1.6zM607.9 166.3h1.6v1.6h-1.6zM622.6 166.3h3.1v1.6h-3.1zM635.8 166.3h1.6v1.6h-1.6zM656.3 166.3h4.5v1.6h-4.5zM603.5 167.8h4.5v1.6h-4.5zM622.6 167.8h6.0v1.6h-6.0zM634.3 167.8h3.1v1.6h-3.1zM656.3 167.8h4.5v1.6h-4.5zM602.1 169.2h1.6v1.6h-1.6zM621.1 169.2h7.5v1.6h-7.5zM656.3 169.2h3.1v1.6h-3.1zM602.1 170.7h1.6v1.6h-1.6zM612.3 170.7h1.6v1.6h-1.6zM621.1 170.7h8.9v1.6h-8.9zM654.8 170.7h4.5v1.6h-4.5zM600.6 172.1h3.1v1.6h-3.1zM610.9 172.1h1.6v1.6h-1.6zM622.6 172.1h7.5v1.6h-7.5zM654.8 172.1h3.1v1.6h-3.1zM602.1 173.6h1.6v1.6h-1.6zM621.1 173.6h8.9v1.6h-8.9zM656.3 173.6h1.6v1.6h-1.6zM612.3 175.1h1.6v1.6h-1.6zM622.6 175.1h1.6v1.6h-1.6zM654.8 175.1h3.1v1.6h-3.1zM610.9 176.5h6.0v1.6h-6.0zM654.8 176.5h3.1v1.6h-3.1zM612.3 178.0h6.0v1.6h-6.0zM653.4 178.0h6.0v1.6h-6.0zM607.9 179.5h1.6v1.6h-1.6zM610.9 179.5h4.5v1.6h-4.5zM616.7 179.5h3.1v1.6h-3.1zM625.5 179.5h3.1v1.6h-3.1zM640.2 179.5h1.6v1.6h-1.6zM651.9 179.5h8.9v1.6h-8.9zM610.9 180.9h7.5v1.6h-7.5zM650.4 180.9h6.0v1.6h-6.0zM659.2 180.9h1.6v1.6h-1.6zM610.9 182.4h8.9v1.6h-8.9zM651.9 182.4h4.5v1.6h-4.5zM659.2 182.4h1.6v1.6h-1.6zM714.9 182.4h1.6v1.6h-1.6zM612.3 183.9h3.1v1.6h-3.1zM616.7 183.9h3.1v1.6h-3.1zM651.9 183.9h8.9v1.6h-8.9zM713.4 183.9h3.1v1.6h-3.1zM616.7 185.3h3.1v1.6h-3.1zM651.9 185.3h8.9v1.6h-8.9zM711.9 185.3h3.1v1.6h-3.1zM653.4 186.8h7.5v1.6h-7.5zM710.5 186.8h6.0v1.6h-6.0zM651.9 188.3h10.4v1.6h-10.4zM710.5 188.3h4.5v1.6h-4.5zM653.4 189.7h10.4v1.6h-10.4zM707.6 189.7h8.9v1.6h-8.9zM653.4 191.2h1.6v1.6h-1.6zM656.3 191.2h7.5v1.6h-7.5zM707.6 191.2h7.5v1.6h-7.5zM653.4 192.7h1.6v1.6h-1.6zM657.7 192.7h1.6v1.6h-1.6zM660.7 192.7h3.1v1.6h-3.1zM707.6 192.7h6.0v1.6h-6.0zM653.4 194.1h6.0v1.6h-6.0zM662.1 194.1h1.6v1.6h-1.6zM707.6 194.1h6.0v1.6h-6.0zM654.8 195.6h4.5v1.6h-4.5zM663.6 195.6h1.6v1.6h-1.6zM707.6 195.6h4.5v1.6h-4.5zM656.3 197.0h3.1v1.6h-3.1zM707.6 197.0h3.1v1.6h-3.1zM657.7 198.5h4.5v1.6h-4.5zM665.1 198.5h1.6v1.6h-1.6zM709.0 198.5h1.6v1.6h-1.6zM725.1 198.5h1.6v1.6h-1.6zM656.3 200.0h10.4v1.6h-10.4zM722.2 200.0h3.1v1.6h-3.1zM656.3 201.4h4.5v1.6h-4.5zM720.7 201.4h3.1v1.6h-3.1zM656.3 202.9h4.5v1.6h-4.5zM656.3 204.4h3.1v1.6h-3.1zM719.3 204.4h1.6v1.6h-1.6zM731.0 204.4h1.6v1.6h-1.6zM739.8 204.4h6.0v1.6h-6.0zM656.3 205.8h1.6v1.6h-1.6zM660.7 205.8h4.5v1.6h-4.5zM717.8 205.8h1.6v1.6h-1.6zM729.5 205.8h3.1v1.6h-3.1zM738.3 205.8h8.9v1.6h-8.9zM656.3 207.3h1.6v1.6h-1.6zM659.2 207.3h6.0v1.6h-6.0zM738.3 207.3h7.5v1.6h-7.5zM656.3 208.8h1.6v1.6h-1.6zM659.2 208.8h3.1v1.6h-3.1zM716.3 208.8h1.6v1.6h-1.6zM728.1 208.8h1.6v1.6h-1.6zM732.5 208.8h3.1v1.6h-3.1zM736.8 208.8h6.0v1.6h-6.0zM656.3 210.2h1.6v1.6h-1.6zM665.1 210.2h1.6v1.6h-1.6zM714.9 210.2h1.6v1.6h-1.6zM726.6 210.2h1.6v1.6h-1.6zM732.5 210.2h7.5v1.6h-7.5zM656.3 211.7h1.6v1.6h-1.6zM665.1 211.7h1.6v1.6h-1.6zM714.9 211.7h3.1v1.6h-3.1zM726.6 211.7h1.6v1.6h-1.6zM732.5 211.7h1.6v1.6h-1.6zM635.8 213.2h3.1v1.6h-3.1zM656.3 213.2h1.6v1.6h-1.6zM695.8 213.2h1.6v1.6h-1.6zM713.4 213.2h4.5v1.6h-4.5zM720.7 213.2h13.3v1.6h-13.3zM635.8 214.6h3.1v1.6h-3.1zM659.2 214.6h3.1v1.6h-3.1zM691.4 214.6h7.5v1.6h-7.5zM713.4 214.6h6.0v1.6h-6.0zM726.6 214.6h3.1v1.6h-3.1zM637.2 216.1h3.1v1.6h-3.1zM657.7 216.1h1.6v1.6h-1.6zM660.7 216.1h1.6v1.6h-1.6zM690.0 216.1h3.1v1.6h-3.1zM697.3 216.1h1.6v1.6h-1.6zM713.4 216.1h4.5v1.6h-4.5zM726.6 216.1h1.6v1.6h-1.6zM637.2 217.6h4.5v1.6h-4.5zM657.7 217.6h1.6v1.6h-1.6zM660.7 217.6h1.6v1.6h-1.6zM666.5 217.6h1.6v1.6h-1.6zM688.5 217.6h3.1v1.6h-3.1zM697.3 217.6h1.6v1.6h-1.6zM710.5 217.6h6.0v1.6h-6.0zM725.1 217.6h3.1v1.6h-3.1zM638.7 219.0h3.1v1.6h-3.1zM657.7 219.0h1.6v1.6h-1.6zM687.0 219.0h4.5v1.6h-4.5zM697.3 219.0h1.6v1.6h-1.6zM709.0 219.0h6.0v1.6h-6.0zM640.2 220.5h1.6v1.6h-1.6zM660.7 220.5h1.6v1.6h-1.6zM685.6 220.5h1.6v1.6h-1.6zM688.5 220.5h1.6v1.6h-1.6zM695.8 220.5h3.1v1.6h-3.1zM707.6 220.5h3.1v1.6h-3.1zM723.7 220.5h1.6v1.6h-1.6zM659.2 221.9h3.1v1.6h-3.1zM684.1 221.9h1.6v1.6h-1.6zM688.5 221.9h1.6v1.6h-1.6zM695.8 221.9h1.6v1.6h-1.6zM706.1 221.9h4.5v1.6h-4.5zM720.7 221.9h3.1v1.6h-3.1zM660.7 223.4h1.6v1.6h-1.6zM684.1 223.4h1.6v1.6h-1.6zM687.0 223.4h3.1v1.6h-3.1zM694.4 223.4h1.6v1.6h-1.6zM709.0 223.4h1.6v1.6h-1.6zM719.3 223.4h4.5v1.6h-4.5zM660.7 224.9h1.6v1.6h-1.6zM666.5 224.9h1.6v1.6h-1.6zM669.5 224.9h3.1v1.6h-3.1zM685.6 224.9h3.1v1.6h-3.1zM692.9 224.9h1.6v1.6h-1.6zM701.7 224.9h1.6v1.6h-1.6zM709.0 224.9h1.6v1.6h-1.6zM716.3 224.9h1.6v1.6h-1.6zM660.7 226.3h1.6v1.6h-1.6zM666.5 226.3h1.6v1.6h-1.6zM670.9 226.3h6.0v1.6h-6.0zM682.6 226.3h1.6v1.6h-1.6zM691.4 226.3h3.1v1.6h-3.1zM709.0 226.3h4.5v1.6h-4.5zM660.7 227.8h1.6v1.6h-1.6zM668.0 227.8h1.6v1.6h-1.6zM672.4 227.8h1.6v1.6h-1.6zM676.8 227.8h1.6v1.6h-1.6zM691.4 227.8h1.6v1.6h-1.6zM700.2 227.8h1.6v1.6h-1.6zM710.5 227.8h1.6v1.6h-1.6zM660.7 229.3h1.6v1.6h-1.6zM668.0 229.3h1.6v1.6h-1.6zM681.2 229.3h1.6v1.6h-1.6zM691.4 229.3h1.6v1.6h-1.6zM698.8 229.3h3.1v1.6h-3.1zM731.0 229.3h6.0v1.6h-6.0zM668.0 230.7h1.6v1.6h-1.6zM679.7 230.7h1.6v1.6h-1.6zM682.6 230.7h1.6v1.6h-1.6zM690.0 230.7h1.6v1.6h-1.6zM695.8 230.7h1.6v1.6h-1.6zM703.2 230.7h3.1v1.6h-3.1zM662.1 232.2h1.6v1.6h-1.6zM668.0 232.2h1.6v1.6h-1.6zM676.8 232.2h1.6v1.6h-1.6zM682.6 232.2h1.6v1.6h-1.6zM690.0 232.2h1.6v1.6h-1.6zM701.7 232.2h3.1v1.6h-3.1zM668.0 233.7h1.6v1.6h-1.6zM678.3 233.7h1.6v1.6h-1.6zM688.5 233.7h4.5v1.6h-4.5zM668.0 235.1h1.6v1.6h-1.6zM676.8 235.1h1.6v1.6h-1.6zM688.5 235.1h3.1v1.6h-3.1zM666.5 236.6h1.6v1.6h-1.6zM669.5 236.6h1.6v1.6h-1.6zM676.8 236.6h1.6v1.6h-1.6zM666.5 238.1h1.6v1.6h-1.6zM669.5 238.1h1.6v1.6h-1.6zM675.3 238.1h1.6v1.6h-1.6zM666.5 239.5h1.6v1.6h-1.6zM669.5 239.5h1.6v1.6h-1.6zM673.9 239.5h3.1v1.6h-3.1zM685.6 239.5h1.6v1.6h-1.6zM666.5 241.0h1.6v1.6h-1.6zM669.5 241.0h1.6v1.6h-1.6zM672.4 241.0h3.1v1.6h-3.1zM684.1 241.0h1.6v1.6h-1.6zM666.5 242.5h1.6v1.6h-1.6zM669.5 242.5h1.6v1.6h-1.6zM672.4 242.5h3.1v1.6h-3.1zM682.6 242.5h1.6v1.6h-1.6zM669.5 243.9h1.6v1.6h-1.6zM672.4 243.9h1.6v1.6h-1.6zM669.5 245.4h3.1v1.6h-3.1zM669.5 246.9h1.6v1.6h-1.6zM679.7 246.9h1.6v1.6h-1.6zM678.3 248.3h1.6v1.6h-1.6zM666.5 249.8h1.6v1.6h-1.6zM668.0 254.2h1.6v1.6h-1.6z" fill="#1088f0"/>
<path d="M638.7 151.6h1.6v1.6h-1.6zM638.7 153.1h3.1v1.6h-3.1zM657.7 154.6h1.6v1.6h-1.6zM618.2 156.0h1.6v1.6h-1.6zM654.8 156.0h1.6v1.6h-1.6zM618.2 157.5h1.6v1.6h-1.6zM653.4 157.5h3.1v1.6h-3.1zM643.1 159.0h1.6v1.6h-1.6zM653.4 159.0h1.6v1.6h-1.6zM635.8 160.4h3.1v1.6h-3.1zM643.1 160.4h3.1v1.6h-3.1zM654.8 160.4h1.6v1.6h-1.6zM634.3 161.9h13.3v1.6h-13.3zM654.8 161.9h1.6v1.6h-1.6zM616.7 163.4h6.0v1.6h-6.0zM625.5 163.4h1.6v1.6h-1.6zM634.3 163.4h14.8v1.6h-14.8zM654.8 163.4h3.1v1.6h-3.1zM616.7 164.8h10.4v1.6h-10.4zM628.4 164.8h1.6v1.6h-1.6zM634.3 164.8h6.0v1.6h-6.0zM644.6 164.8h4.5v1.6h-4.5zM654.8 164.8h3.1v1.6h-3.1zM609.4 166.3h1.6v1.6h-1.6zM615.3 166.3h6.0v1.6h-6.0zM625.5 166.3h1.6v1.6h-1.6zM629.9 166.3h1.6v1.6h-1.6zM632.8 166.3h3.1v1.6h-3.1zM637.2 166.3h1.6v1.6h-1.6zM646.0 166.3h3.1v1.6h-3.1zM654.8 166.3h1.6v1.6h-1.6zM609.4 167.8h4.5v1.6h-4.5zM615.3 167.8h4.5v1.6h-4.5zM629.9 167.8h4.5v1.6h-4.5zM637.2 167.8h3.1v1.6h-3.1zM653.4 167.8h3.1v1.6h-3.1zM600.6 169.2h1.6v1.6h-1.6zM612.3 169.2h4.5v1.6h-4.5zM619.7 169.2h1.6v1.6h-1.6zM631.4 169.2h8.9v1.6h-8.9zM651.9 169.2h4.5v1.6h-4.5zM600.6 170.7h1.6v1.6h-1.6zM613.8 170.7h4.5v1.6h-4.5zM619.7 170.7h1.6v1.6h-1.6zM629.9 170.7h10.4v1.6h-10.4zM650.4 170.7h4.5v1.6h-4.5zM612.3 172.1h10.4v1.6h-10.4zM629.9 172.1h11.9v1.6h-11.9zM650.4 172.1h4.5v1.6h-4.5zM600.6 173.6h1.6v1.6h-1.6zM613.8 173.6h7.5v1.6h-7.5zM629.9 173.6h3.1v1.6h-3.1zM634.3 173.6h7.5v1.6h-7.5zM649.0 173.6h7.5v1.6h-7.5zM600.6 175.1h3.1v1.6h-3.1zM613.8 175.1h8.9v1.6h-8.9zM624.1 175.1h7.5v1.6h-7.5zM634.3 175.1h7.5v1.6h-7.5zM649.0 175.1h6.0v1.6h-6.0zM602.1 176.5h3.1v1.6h-3.1zM616.7 176.5h13.3v1.6h-13.3zM635.8 176.5h6.0v1.6h-6.0zM649.0 176.5h6.0v1.6h-6.0zM603.5 178.0h1.6v1.6h-1.6zM619.7 178.0h11.9v1.6h-11.9zM634.3 178.0h8.9v1.6h-8.9zM649.0 178.0h4.5v1.6h-4.5zM605.0 179.5h1.6v1.6h-1.6zM619.7 179.5h1.6v1.6h-1.6zM622.6 179.5h3.1v1.6h-3.1zM628.4 179.5h3.1v1.6h-3.1zM634.3 179.5h6.0v1.6h-6.0zM641.6 179.5h1.6v1.6h-1.6zM649.0 179.5h3.1v1.6h-3.1zM607.9 180.9h1.6v1.6h-1.6zM618.2 180.9h3.1v1.6h-3.1zM624.1 180.9h7.5v1.6h-7.5zM634.3 180.9h8.9v1.6h-8.9zM649.0 180.9h1.6v1.6h-1.6zM656.3 180.9h3.1v1.6h-3.1zM607.9 182.4h3.1v1.6h-3.1zM619.7 182.4h1.6v1.6h-1.6zM624.1 182.4h8.9v1.6h-8.9zM638.7 182.4h6.0v1.6h-6.0zM650.4 182.4h1.6v1.6h-1.6zM656.3 182.4h3.1v1.6h-3.1zM609.4 183.9h1.6v1.6h-1.6zM615.3 183.9h1.6v1.6h-1.6zM619.7 183.9h1.6v1.6h-1.6zM628.4 183.9h3.1v1.6h-3.1zM640.2 183.9h4.5v1.6h-4.5zM650.4 183.9h1.6v1.6h-1.6zM609.4 185.3h1.6v1.6h-1.6zM613.8 185.3h3.1v1.6h-3.1zM619.7 185.3h3.1v1.6h-3.1zM629.9 185.3h1.6v1.6h-1.6zM640.2 185.3h4.5v1.6h-4.5zM650.4 185.3h1.6v1.6h-1.6zM612.3 186.8h8.9v1.6h-8.9zM637.2 186.8h7.5v1.6h-7.5zM650.4 186.8h3.1v1.6h-3.1zM613.8 188.3h8.9v1.6h-8.9zM635.8 188.3h8.9v1.6h-8.9zM613.8 189.7h7.5v1.6h-7.5zM622.6 189.7h3.1v1.6h-3.1zM635.8 189.7h6.0v1.6h-6.0zM651.9 189.7h1.6v1.6h-1.6zM622.6 191.2h3.1v1.6h-3.1zM629.9 191.2h4.5v1.6h-4.5zM637.2 191.2h6.0v1.6h-6.0zM651.9 191.2h1.6v1.6h-1.6zM624.1 192.7h1.6v1.6h-1.6zM631.4 192.7h1.6v1.6h-1.6zM637.2 192.7h6.0v1.6h-6.0zM651.9 192.7h1.6v1.6h-1.6zM659.2 192.7h1.6v1.6h-1.6zM624.1 194.1h6.0v1.6h-6.0zM637.2 194.1h6.0v1.6h-6.0zM651.9 194.1h1.6v1.6h-1.6zM659.2 194.1h3.1v1.6h-3.1zM622.6 195.6h10.4v1.6h-10.4zM638.7 195.6h4.5v1.6h-4.5zM653.4 195.6h1.6v1.6h-1.6zM659.2 195.6h4.5v1.6h-4.5zM622.6 197.0h13.3v1.6h-13.3zM654.8 197.0h1.6v1.6h-1.6zM659.2 197.0h6.0v1.6h-6.0zM622.6 198.5h11.9v1.6h-11.9zM654.8 198.5h3.1v1.6h-3.1zM662.1 198.5h3.1v1.6h-3.1zM726.6 198.5h1.6v1.6h-1.6zM622.6 200.0h8.9v1.6h-8.9zM654.8 200.0h1.6v1.6h-1.6zM725.1 200.0h1.6v1.6h-1.6zM624.1 201.4h7.5v1.6h-7.5zM654.8 201.4h1.6v1.6h-1.6zM723.7 201.4h1.6v1.6h-1.6zM624.1 202.9h7.5v1.6h-7.5zM720.7 202.9h1.6v1.6h-1.6zM625.5 204.4h7.5v1.6h-7.5zM654.8 204.4h1.6v1.6h-1.6zM628.4 205.8h6.0v1.6h-6.0zM654.8 205.8h1.6v1.6h-1.6zM726.6 205.8h3.1v1.6h-3.1zM628.4 207.3h4.5v1.6h-4.5zM717.8 207.3h1.6v1.6h-1.6zM629.9 208.8h6.0v1.6h-6.0zM662.1 208.8h3.1v1.6h-3.1zM725.1 208.8h3.1v1.6h-3.1zM742.7 208.8h3.1v1.6h-3.1zM753.0 208.8h1.6v1.6h-1.6zM629.9 210.2h6.0v1.6h-6.0zM654.8 210.2h1.6v1.6h-1.6zM660.7 210.2h4.5v1.6h-4.5zM716.3 210.2h3.1v1.6h-3.1zM723.7 210.2h3.1v1.6h-3.1zM739.8 210.2h4.5v1.6h-4.5zM632.8 211.7h7.5v1.6h-7.5zM660.7 211.7h4.5v1.6h-4.5zM717.8 211.7h1.6v1.6h-1.6zM722.2 211.7h4.5v1.6h-4.5zM733.9 211.7h10.4v1.6h-10.4zM745.6 211.7h1.6v1.6h-1.6zM632.8 213.2h3.1v1.6h-3.1zM638.7 213.2h1.6v1.6h-1.6zM660.7 213.2h3.1v1.6h-3.1zM665.1 213.2h1.6v1.6h-1.6zM717.8 213.2h3.1v1.6h-3.1zM733.9 213.2h1.6v1.6h-1.6zM736.8 213.2h4.5v1.6h-4.5zM634.3 214.6h1.6v1.6h-1.6zM638.7 214.6h3.1v1.6h-3.1zM656.3 214.6h1.6v1.6h-1.6zM662.1 214.6h1.6v1.6h-1.6zM665.1 214.6h1.6v1.6h-1.6zM729.5 214.6h1.6v1.6h-1.6zM738.3 214.6h1.6v1.6h-1.6zM635.8 216.1h1.6v1.6h-1.6zM640.2 216.1h1.6v1.6h-1.6zM656.3 216.1h1.6v1.6h-1.6zM662.1 216.1h1.6v1.6h-1.6zM692.9 216.1h4.5v1.6h-4.5zM728.1 216.1h1.6v1.6h-1.6zM641.6 217.6h1.6v1.6h-1.6zM662.1 217.6h1.6v1.6h-1.6zM691.4 217.6h6.0v1.6h-6.0zM728.1 217.6h1.6v1.6h-1.6zM637.2 219.0h1.6v1.6h-1.6zM641.6 219.0h3.1v1.6h-3.1zM660.7 219.0h3.1v1.6h-3.1zM666.5 219.0h1.6v1.6h-1.6zM691.4 219.0h1.6v1.6h-1.6zM694.4 219.0h3.1v1.6h-3.1zM725.1 219.0h3.1v1.6h-3.1zM638.7 220.5h1.6v1.6h-1.6zM641.6 220.5h1.6v1.6h-1.6zM666.5 220.5h1.6v1.6h-1.6zM687.0 220.5h1.6v1.6h-1.6zM690.0 220.5h3.1v1.6h-3.1zM694.4 220.5h1.6v1.6h-1.6zM725.1 220.5h1.6v1.6h-1.6zM748.6 220.5h4.5v1.6h-4.5zM640.2 221.9h3.1v1.6h-3.1zM666.5 221.9h1.6v1.6h-1.6zM685.6 221.9h3.1v1.6h-3.1zM690.0 221.9h1.6v1.6h-1.6zM692.9 221.9h3.1v1.6h-3.1zM723.7 221.9h3.1v1.6h-3.1zM747.1 221.9h6.0v1.6h-6.0zM758.8 221.9h1.6v1.6h-1.6zM659.2 223.4h1.6v1.6h-1.6zM666.5 223.4h1.6v1.6h-1.6zM685.6 223.4h1.6v1.6h-1.6zM690.0 223.4h4.5v1.6h-4.5zM704.6 223.4h4.5v1.6h-4.5zM723.7 223.4h3.1v1.6h-3.1zM748.6 223.4h6.0v1.6h-6.0zM755.9 223.4h4.5v1.6h-4.5zM659.2 224.9h1.6v1.6h-1.6zM684.1 224.9h1.6v1.6h-1.6zM688.5 224.9h4.5v1.6h-4.5zM703.2 224.9h1.6v1.6h-1.6zM707.6 224.9h1.6v1.6h-1.6zM717.8 224.9h7.5v1.6h-7.5zM735.4 224.9h1.6v1.6h-1.6zM738.3 224.9h1.6v1.6h-1.6zM741.2 224.9h1.6v1.6h-1.6zM748.6 224.9h11.9v1.6h-11.9zM669.5 226.3h1.6v1.6h-1.6zM684.1 226.3h7.5v1.6h-7.5zM701.7 226.3h3.1v1.6h-3.1zM707.6 226.3h1.6v1.6h-1.6zM713.4 226.3h1.6v1.6h-1.6zM722.2 226.3h1.6v1.6h-1.6zM732.5 226.3h13.3v1.6h-13.3zM748.6 226.3h8.9v1.6h-8.9zM666.5 227.8h1.6v1.6h-1.6zM669.5 227.8h3.1v1.6h-3.1zM673.9 227.8h3.1v1.6h-3.1zM682.6 227.8h3.1v1.6h-3.1zM690.0 227.8h1.6v1.6h-1.6zM701.7 227.8h8.9v1.6h-8.9zM711.9 227.8h1.6v1.6h-1.6zM728.1 227.8h17.7v1.6h-17.7zM748.6 227.8h6.0v1.6h-6.0zM662.1 229.3h1.6v1.6h-1.6zM666.5 229.3h1.6v1.6h-1.6zM669.5 229.3h8.9v1.6h-8.9zM682.6 229.3h3.1v1.6h-3.1zM690.0 229.3h1.6v1.6h-1.6zM701.7 229.3h10.4v1.6h-10.4zM726.6 229.3h4.5v1.6h-4.5zM736.8 229.3h6.0v1.6h-6.0zM660.7 230.7h3.1v1.6h-3.1zM666.5 230.7h1.6v1.6h-1.6zM669.5 230.7h4.5v1.6h-4.5zM675.3 230.7h3.1v1.6h-3.1zM681.2 230.7h1.6v1.6h-1.6zM684.1 230.7h1.6v1.6h-1.6zM697.3 230.7h6.0v1.6h-6.0zM706.1 230.7h3.1v1.6h-3.1zM725.1 230.7h16.3v1.6h-16.3zM660.7 232.2h1.6v1.6h-1.6zM666.5 232.2h1.6v1.6h-1.6zM669.5 232.2h3.1v1.6h-3.1zM675.3 232.2h1.6v1.6h-1.6zM679.7 232.2h3.1v1.6h-3.1zM698.8 232.2h3.1v1.6h-3.1zM704.6 232.2h1.6v1.6h-1.6zM725.1 232.2h1.6v1.6h-1.6zM728.1 232.2h11.9v1.6h-11.9zM662.1 233.7h1.6v1.6h-1.6zM666.5 233.7h1.6v1.6h-1.6zM669.5 233.7h3.1v1.6h-3.1zM675.3 233.7h1.6v1.6h-1.6zM681.2 233.7h3.1v1.6h-3.1zM698.8 233.7h6.0v1.6h-6.0zM733.9 233.7h4.5v1.6h-4.5zM662.1 235.1h1.6v1.6h-1.6zM666.5 235.1h1.6v1.6h-1.6zM669.5 235.1h3.1v1.6h-3.1zM675.3 235.1h1.6v1.6h-1.6zM681.2 235.1h1.6v1.6h-1.6zM670.9 236.6h1.6v1.6h-1.6zM675.3 236.6h1.6v1.6h-1.6zM687.0 236.6h3.1v1.6h-3.1zM670.9 238.1h1.6v1.6h-1.6zM673.9 238.1h1.6v1.6h-1.6zM685.6 238.1h3.1v1.6h-3.1zM707.6 238.1h4.5v1.6h-4.5zM670.9 239.5h3.1v1.6h-3.1zM684.1 239.5h1.6v1.6h-1.6zM687.0 239.5h1.6v1.6h-1.6zM704.6 239.5h6.0v1.6h-6.0zM757.4 239.5h1.6v1.6h-1.6zM685.6 241.0h1.6v1.6h-1.6zM703.2 241.0h7.5v1.6h-7.5zM703.2 242.5h6.0v1.6h-6.0zM666.5 243.9h1.6v1.6h-1.6zM670.9 243.9h1.6v1.6h-1.6zM673.9 243.9h1.6v1.6h-1.6zM681.2 243.9h1.6v1.6h-1.6zM750.0 243.9h3.1v1.6h-3.1zM666.5 245.4h1.6v1.6h-1.6zM675.3 245.4h1.6v1.6h-1.6zM679.7 245.4h3.1v1.6h-3.1zM751.5 245.4h1.6v1.6h-1.6zM666.5 246.9h1.6v1.6h-1.6zM672.4 246.9h1.6v1.6h-1.6zM678.3 246.9h1.6v1.6h-1.6zM736.8 246.9h3.1v1.6h-3.1zM666.5 248.3h1.6v1.6h-1.6zM670.9 248.3h1.6v1.6h-1.6zM670.9 249.8h1.6v1.6h-1.6zM676.8 249.8h1.6v1.6h-1.6zM666.5 251.2h1.6v1.6h-1.6zM675.3 251.2h1.6v1.6h-1.6z" fill="#1070e8"/>
<path d="M635.8 154.6h1.6v1.6h-1.6zM635.8 156.0h1.6v1.6h-1.6zM653.4 156.0h1.6v1.6h-1.6zM632.8 157.5h6.0v1.6h-6.0zM622.6 159.0h1.6v1.6h-1.6zM631.4 159.0h7.5v1.6h-7.5zM644.6 159.0h1.6v1.6h-1.6zM647.5 159.0h3.1v1.6h-3.1zM624.1 160.4h3.1v1.6h-3.1zM631.4 160.4h4.5v1.6h-4.5zM646.0 160.4h3.1v1.6h-3.1zM653.4 160.4h1.6v1.6h-1.6zM615.3 161.9h3.1v1.6h-3.1zM624.1 161.9h4.5v1.6h-4.5zM631.4 161.9h3.1v1.6h-3.1zM647.5 161.9h3.1v1.6h-3.1zM653.4 161.9h1.6v1.6h-1.6zM613.8 163.4h3.1v1.6h-3.1zM622.6 163.4h3.1v1.6h-3.1zM627.0 163.4h1.6v1.6h-1.6zM631.4 163.4h3.1v1.6h-3.1zM649.0 163.4h1.6v1.6h-1.6zM651.9 163.4h3.1v1.6h-3.1zM609.4 164.8h1.6v1.6h-1.6zM612.3 164.8h4.5v1.6h-4.5zM629.9 164.8h4.5v1.6h-4.5zM640.2 164.8h4.5v1.6h-4.5zM649.0 164.8h1.6v1.6h-1.6zM651.9 164.8h3.1v1.6h-3.1zM610.9 166.3h4.5v1.6h-4.5zM631.4 166.3h1.6v1.6h-1.6zM638.7 166.3h7.5v1.6h-7.5zM649.0 166.3h6.0v1.6h-6.0zM613.8 167.8h1.6v1.6h-1.6zM640.2 167.8h13.3v1.6h-13.3zM640.2 169.2h3.1v1.6h-3.1zM644.6 169.2h7.5v1.6h-7.5zM640.2 170.7h1.6v1.6h-1.6zM643.1 170.7h1.6v1.6h-1.6zM646.0 170.7h4.5v1.6h-4.5zM641.6 172.1h1.6v1.6h-1.6zM646.0 172.1h4.5v1.6h-4.5zM632.8 173.6h1.6v1.6h-1.6zM641.6 173.6h1.6v1.6h-1.6zM646.0 173.6h3.1v1.6h-3.1zM631.4 175.1h3.1v1.6h-3.1zM641.6 175.1h1.6v1.6h-1.6zM647.5 175.1h1.6v1.6h-1.6zM629.9 176.5h6.0v1.6h-6.0zM641.6 176.5h3.1v1.6h-3.1zM647.5 176.5h1.6v1.6h-1.6zM600.6 178.0h3.1v1.6h-3.1zM631.4 178.0h3.1v1.6h-3.1zM643.1 178.0h1.6v1.6h-1.6zM647.5 178.0h1.6v1.6h-1.6zM602.1 179.5h3.1v1.6h-3.1zM621.1 179.5h1.6v1.6h-1.6zM631.4 179.5h3.1v1.6h-3.1zM643.1 179.5h1.6v1.6h-1.6zM605.0 180.9h1.6v1.6h-1.6zM621.1 180.9h3.1v1.6h-3.1zM631.4 180.9h3.1v1.6h-3.1zM643.1 180.9h1.6v1.6h-1.6zM606.5 182.4h1.6v1.6h-1.6zM621.1 182.4h3.1v1.6h-3.1zM632.8 182.4h6.0v1.6h-6.0zM644.6 182.4h1.6v1.6h-1.6zM649.0 182.4h1.6v1.6h-1.6zM607.9 183.9h1.6v1.6h-1.6zM621.1 183.9h7.5v1.6h-7.5zM631.4 183.9h8.9v1.6h-8.9zM644.6 183.9h1.6v1.6h-1.6zM649.0 183.9h1.6v1.6h-1.6zM607.9 185.3h1.6v1.6h-1.6zM622.6 185.3h7.5v1.6h-7.5zM631.4 185.3h8.9v1.6h-8.9zM644.6 185.3h1.6v1.6h-1.6zM649.0 185.3h1.6v1.6h-1.6zM610.9 186.8h1.6v1.6h-1.6zM621.1 186.8h16.3v1.6h-16.3zM644.6 186.8h3.1v1.6h-3.1zM649.0 186.8h1.6v1.6h-1.6zM610.9 188.3h3.1v1.6h-3.1zM622.6 188.3h6.0v1.6h-6.0zM631.4 188.3h4.5v1.6h-4.5zM644.6 188.3h3.1v1.6h-3.1zM650.4 188.3h1.6v1.6h-1.6zM612.3 189.7h1.6v1.6h-1.6zM621.1 189.7h1.6v1.6h-1.6zM625.5 189.7h10.4v1.6h-10.4zM641.6 189.7h6.0v1.6h-6.0zM649.0 189.7h3.1v1.6h-3.1zM615.3 191.2h7.5v1.6h-7.5zM625.5 191.2h4.5v1.6h-4.5zM634.3 191.2h3.1v1.6h-3.1zM643.1 191.2h4.5v1.6h-4.5zM649.0 191.2h3.1v1.6h-3.1zM616.7 192.7h7.5v1.6h-7.5zM625.5 192.7h6.0v1.6h-6.0zM632.8 192.7h4.5v1.6h-4.5zM643.1 192.7h6.0v1.6h-6.0zM650.4 192.7h1.6v1.6h-1.6zM618.2 194.1h6.0v1.6h-6.0zM629.9 194.1h7.5v1.6h-7.5zM643.1 194.1h4.5v1.6h-4.5zM619.7 195.6h3.1v1.6h-3.1zM632.8 195.6h6.0v1.6h-6.0zM643.1 195.6h4.5v1.6h-4.5zM619.7 197.0h3.1v1.6h-3.1zM635.8 197.0h8.9v1.6h-8.9zM646.0 197.0h1.6v1.6h-1.6zM653.4 197.0h1.6v1.6h-1.6zM621.1 198.5h1.6v1.6h-1.6zM634.3 198.5h8.9v1.6h-8.9zM653.4 198.5h1.6v1.6h-1.6zM621.1 200.0h1.6v1.6h-1.6zM631.4 200.0h8.9v1.6h-8.9zM653.4 200.0h1.6v1.6h-1.6zM726.6 200.0h1.6v1.6h-1.6zM621.1 201.4h3.1v1.6h-3.1zM631.4 201.4h6.0v1.6h-6.0zM725.1 201.4h4.5v1.6h-4.5zM631.4 202.9h8.9v1.6h-8.9zM654.8 202.9h1.6v1.6h-1.6zM722.2 202.9h7.5v1.6h-7.5zM632.8 204.4h6.0v1.6h-6.0zM720.7 204.4h7.5v1.6h-7.5zM625.5 205.8h1.6v1.6h-1.6zM634.3 205.8h4.5v1.6h-4.5zM719.3 205.8h1.6v1.6h-1.6zM722.2 205.8h4.5v1.6h-4.5zM632.8 207.3h7.5v1.6h-7.5zM654.8 207.3h1.6v1.6h-1.6zM719.3 207.3h3.1v1.6h-3.1zM723.7 207.3h4.5v1.6h-4.5zM635.8 208.8h4.5v1.6h-4.5zM653.4 208.8h3.1v1.6h-3.1zM717.8 208.8h3.1v1.6h-3.1zM723.7 208.8h1.6v1.6h-1.6zM751.5 208.8h1.6v1.6h-1.6zM628.4 210.2h1.6v1.6h-1.6zM635.8 210.2h6.0v1.6h-6.0zM719.3 210.2h1.6v1.6h-1.6zM722.2 210.2h1.6v1.6h-1.6zM750.0 210.2h1.6v1.6h-1.6zM627.0 211.7h3.1v1.6h-3.1zM640.2 211.7h1.6v1.6h-1.6zM654.8 211.7h1.6v1.6h-1.6zM719.3 211.7h3.1v1.6h-3.1zM744.2 211.7h1.6v1.6h-1.6zM747.1 211.7h3.1v1.6h-3.1zM764.7 211.7h3.1v1.6h-3.1zM640.2 213.2h3.1v1.6h-3.1zM654.8 213.2h1.6v1.6h-1.6zM663.6 213.2h1.6v1.6h-1.6zM735.4 213.2h1.6v1.6h-1.6zM741.2 213.2h3.1v1.6h-3.1zM764.7 213.2h1.6v1.6h-1.6zM641.6 214.6h1.6v1.6h-1.6zM663.6 214.6h1.6v1.6h-1.6zM731.0 214.6h7.5v1.6h-7.5zM739.8 214.6h1.6v1.6h-1.6zM641.6 216.1h3.1v1.6h-3.1zM663.6 216.1h3.1v1.6h-3.1zM729.5 216.1h11.9v1.6h-11.9zM635.8 217.6h1.6v1.6h-1.6zM643.1 217.6h1.6v1.6h-1.6zM656.3 217.6h1.6v1.6h-1.6zM663.6 217.6h3.1v1.6h-3.1zM729.5 217.6h7.5v1.6h-7.5zM753.0 217.6h1.6v1.6h-1.6zM755.9 217.6h1.6v1.6h-1.6zM663.6 219.0h1.6v1.6h-1.6zM692.9 219.0h1.6v1.6h-1.6zM728.1 219.0h4.5v1.6h-4.5zM733.9 219.0h1.6v1.6h-1.6zM750.0 219.0h6.0v1.6h-6.0zM757.4 219.0h1.6v1.6h-1.6zM637.2 220.5h1.6v1.6h-1.6zM643.1 220.5h3.1v1.6h-3.1zM657.7 220.5h1.6v1.6h-1.6zM662.1 220.5h3.1v1.6h-3.1zM692.9 220.5h1.6v1.6h-1.6zM726.6 220.5h3.1v1.6h-3.1zM747.1 220.5h1.6v1.6h-1.6zM753.0 220.5h6.0v1.6h-6.0zM643.1 221.9h1.6v1.6h-1.6zM657.7 221.9h1.6v1.6h-1.6zM662.1 221.9h1.6v1.6h-1.6zM691.4 221.9h1.6v1.6h-1.6zM726.6 221.9h1.6v1.6h-1.6zM744.2 221.9h3.1v1.6h-3.1zM753.0 221.9h6.0v1.6h-6.0zM640.2 223.4h4.5v1.6h-4.5zM662.1 223.4h1.6v1.6h-1.6zM726.6 223.4h1.6v1.6h-1.6zM735.4 223.4h1.6v1.6h-1.6zM738.3 223.4h10.4v1.6h-10.4zM754.4 223.4h1.6v1.6h-1.6zM643.1 224.9h1.6v1.6h-1.6zM662.1 224.9h1.6v1.6h-1.6zM704.6 224.9h3.1v1.6h-3.1zM725.1 224.9h3.1v1.6h-3.1zM732.5 224.9h3.1v1.6h-3.1zM736.8 224.9h1.6v1.6h-1.6zM739.8 224.9h1.6v1.6h-1.6zM742.7 224.9h6.0v1.6h-6.0zM760.3 224.9h1.6v1.6h-1.6zM659.2 226.3h1.6v1.6h-1.6zM662.1 226.3h3.1v1.6h-3.1zM704.6 226.3h3.1v1.6h-3.1zM714.9 226.3h7.5v1.6h-7.5zM723.7 226.3h8.9v1.6h-8.9zM745.6 226.3h3.1v1.6h-3.1zM757.4 226.3h6.0v1.6h-6.0zM659.2 227.8h1.6v1.6h-1.6zM662.1 227.8h3.1v1.6h-3.1zM685.6 227.8h4.5v1.6h-4.5zM713.4 227.8h1.6v1.6h-1.6zM720.7 227.8h7.5v1.6h-7.5zM745.6 227.8h3.1v1.6h-3.1zM755.9 227.8h3.1v1.6h-3.1zM663.6 229.3h1.6v1.6h-1.6zM685.6 229.3h1.6v1.6h-1.6zM688.5 229.3h1.6v1.6h-1.6zM711.9 229.3h1.6v1.6h-1.6zM722.2 229.3h4.5v1.6h-4.5zM742.7 229.3h17.7v1.6h-17.7zM663.6 230.7h1.6v1.6h-1.6zM673.9 230.7h1.6v1.6h-1.6zM688.5 230.7h1.6v1.6h-1.6zM709.0 230.7h1.6v1.6h-1.6zM722.2 230.7h3.1v1.6h-3.1zM741.2 230.7h4.5v1.6h-4.5zM751.5 230.7h10.4v1.6h-10.4zM663.6 232.2h3.1v1.6h-3.1zM672.4 232.2h3.1v1.6h-3.1zM684.1 232.2h1.6v1.6h-1.6zM688.5 232.2h1.6v1.6h-1.6zM694.4 232.2h4.5v1.6h-4.5zM706.1 232.2h3.1v1.6h-3.1zM719.3 232.2h6.0v1.6h-6.0zM726.6 232.2h1.6v1.6h-1.6zM739.8 232.2h3.1v1.6h-3.1zM755.9 232.2h4.5v1.6h-4.5zM761.8 232.2h1.6v1.6h-1.6zM660.7 233.7h1.6v1.6h-1.6zM665.1 233.7h1.6v1.6h-1.6zM672.4 233.7h3.1v1.6h-3.1zM679.7 233.7h1.6v1.6h-1.6zM684.1 233.7h1.6v1.6h-1.6zM687.0 233.7h1.6v1.6h-1.6zM697.3 233.7h1.6v1.6h-1.6zM704.6 233.7h1.6v1.6h-1.6zM714.9 233.7h19.2v1.6h-19.2zM738.3 233.7h3.1v1.6h-3.1zM757.4 233.7h3.1v1.6h-3.1zM665.1 235.1h1.6v1.6h-1.6zM673.9 235.1h1.6v1.6h-1.6zM678.3 235.1h3.1v1.6h-3.1zM682.6 235.1h1.6v1.6h-1.6zM687.0 235.1h1.6v1.6h-1.6zM695.8 235.1h7.5v1.6h-7.5zM709.0 235.1h13.3v1.6h-13.3zM732.5 235.1h6.0v1.6h-6.0zM755.9 235.1h4.5v1.6h-4.5zM662.1 236.6h1.6v1.6h-1.6zM673.9 236.6h1.6v1.6h-1.6zM679.7 236.6h3.1v1.6h-3.1zM685.6 236.6h1.6v1.6h-1.6zM695.8 236.6h3.1v1.6h-3.1zM706.1 236.6h14.8v1.6h-14.8zM753.0 236.6h3.1v1.6h-3.1zM757.4 236.6h1.6v1.6h-1.6zM672.4 238.1h1.6v1.6h-1.6zM676.8 238.1h1.6v1.6h-1.6zM679.7 238.1h1.6v1.6h-1.6zM706.1 238.1h1.6v1.6h-1.6zM711.9 238.1h7.5v1.6h-7.5zM754.4 238.1h3.1v1.6h-3.1zM678.3 239.5h1.6v1.6h-1.6zM703.2 239.5h1.6v1.6h-1.6zM710.5 239.5h6.0v1.6h-6.0zM753.0 239.5h4.5v1.6h-4.5zM670.9 241.0h1.6v1.6h-1.6zM675.3 241.0h1.6v1.6h-1.6zM678.3 241.0h1.6v1.6h-1.6zM682.6 241.0h1.6v1.6h-1.6zM690.0 241.0h1.6v1.6h-1.6zM701.7 241.0h1.6v1.6h-1.6zM710.5 241.0h4.5v1.6h-4.5zM747.1 241.0h10.4v1.6h-10.4zM670.9 242.5h1.6v1.6h-1.6zM676.8 242.5h1.6v1.6h-1.6zM681.2 242.5h1.6v1.6h-1.6zM684.1 242.5h1.6v1.6h-1.6zM688.5 242.5h1.6v1.6h-1.6zM700.2 242.5h3.1v1.6h-3.1zM709.0 242.5h4.5v1.6h-4.5zM741.2 242.5h1.6v1.6h-1.6zM747.1 242.5h7.5v1.6h-7.5zM676.8 243.9h1.6v1.6h-1.6zM682.6 243.9h1.6v1.6h-1.6zM698.8 243.9h4.5v1.6h-4.5zM735.4 243.9h14.8v1.6h-14.8zM753.0 243.9h3.1v1.6h-3.1zM673.9 245.4h1.6v1.6h-1.6zM697.3 245.4h3.1v1.6h-3.1zM733.9 245.4h13.3v1.6h-13.3zM748.6 245.4h3.1v1.6h-3.1zM753.0 245.4h3.1v1.6h-3.1zM673.9 246.9h1.6v1.6h-1.6zM676.8 246.9h1.6v1.6h-1.6zM695.8 246.9h1.6v1.6h-1.6zM733.9 246.9h3.1v1.6h-3.1zM739.8 246.9h7.5v1.6h-7.5zM750.0 246.9h4.5v1.6h-4.5zM669.5 248.3h1.6v1.6h-1.6zM673.9 248.3h4.5v1.6h-4.5zM692.9 248.3h1.6v1.6h-1.6zM722.2 248.3h3.1v1.6h-3.1zM726.6 248.3h1.6v1.6h-1.6zM731.0 248.3h10.4v1.6h-10.4zM742.7 248.3h3.1v1.6h-3.1zM669.5 249.8h1.6v1.6h-1.6zM672.4 249.8h1.6v1.6h-1.6zM690.0 249.8h1.6v1.6h-1.6zM720.7 249.8h11.9v1.6h-11.9zM735.4 249.8h4.5v1.6h-4.5zM669.5 251.2h1.6v1.6h-1.6zM672.4 251.2h1.6v1.6h-1.6zM720.7 251.2h11.9v1.6h-11.9zM666.5 252.7h1.6v1.6h-1.6zM669.5 252.7h3.1v1.6h-3.1zM673.9 252.7h1.6v1.6h-1.6zM720.7 252.7h13.3v1.6h-13.3zM666.5 254.2h1.6v1.6h-1.6zM669.5 254.2h1.6v1.6h-1.6zM720.7 254.2h7.5v1.6h-7.5zM729.5 254.2h1.6v1.6h-1.6zM732.5 254.2h1.6v1.6h-1.6zM668.0 255.6h1.6v1.6h-1.6zM678.3 255.6h1.6v1.6h-1.6zM722.2 255.6h4.5v1.6h-4.5z" fill="#0850e8"/>
<path d="M632.8 144.3h1.6v1.6h-1.6zM632.8 145.8h1.6v1.6h-1.6zM632.8 147.2h1.6v1.6h-1.6zM631.4 148.7h1.6v1.6h-1.6zM634.3 153.1h1.6v1.6h-1.6zM632.8 154.6h3.1v1.6h-3.1zM634.3 156.0h1.6v1.6h-1.6zM624.1 159.0h1.6v1.6h-1.6zM649.0 160.4h4.5v1.6h-4.5zM650.4 161.9h3.1v1.6h-3.1zM650.4 163.4h1.6v1.6h-1.6zM650.4 164.8h1.6v1.6h-1.6zM643.1 169.2h1.6v1.6h-1.6zM641.6 170.7h1.6v1.6h-1.6zM644.6 170.7h1.6v1.6h-1.6zM643.1 172.1h3.1v1.6h-3.1zM643.1 173.6h3.1v1.6h-3.1zM643.1 175.1h4.5v1.6h-4.5zM644.6 176.5h3.1v1.6h-3.1zM644.6 178.0h3.1v1.6h-3.1zM600.6 179.5h1.6v1.6h-1.6zM644.6 179.5h4.5v1.6h-4.5zM603.5 180.9h1.6v1.6h-1.6zM644.6 180.9h1.6v1.6h-1.6zM647.5 180.9h1.6v1.6h-1.6zM605.0 182.4h1.6v1.6h-1.6zM646.0 182.4h3.1v1.6h-3.1zM605.0 183.9h3.1v1.6h-3.1zM646.0 183.9h3.1v1.6h-3.1zM606.5 185.3h1.6v1.6h-1.6zM646.0 185.3h3.1v1.6h-3.1zM606.5 186.8h4.5v1.6h-4.5zM647.5 186.8h1.6v1.6h-1.6zM609.4 188.3h1.6v1.6h-1.6zM647.5 188.3h3.1v1.6h-3.1zM647.5 189.7h1.6v1.6h-1.6zM613.8 191.2h1.6v1.6h-1.6zM647.5 191.2h1.6v1.6h-1.6zM649.0 192.7h1.6v1.6h-1.6zM616.7 194.1h1.6v1.6h-1.6zM647.5 194.1h4.5v1.6h-4.5zM618.2 195.6h1.6v1.6h-1.6zM647.5 195.6h1.6v1.6h-1.6zM651.9 195.6h1.6v1.6h-1.6zM618.2 197.0h1.6v1.6h-1.6zM644.6 197.0h1.6v1.6h-1.6zM647.5 197.0h1.6v1.6h-1.6zM651.9 197.0h1.6v1.6h-1.6zM619.7 198.5h1.6v1.6h-1.6zM643.1 198.5h6.0v1.6h-6.0zM651.9 198.5h1.6v1.6h-1.6zM640.2 200.0h4.5v1.6h-4.5zM646.0 200.0h1.6v1.6h-1.6zM637.2 201.4h6.0v1.6h-6.0zM653.4 201.4h1.6v1.6h-1.6zM640.2 202.9h1.6v1.6h-1.6zM653.4 202.9h1.6v1.6h-1.6zM638.7 204.4h1.6v1.6h-1.6zM653.4 204.4h1.6v1.6h-1.6zM624.1 205.8h1.6v1.6h-1.6zM638.7 205.8h1.6v1.6h-1.6zM653.4 205.8h1.6v1.6h-1.6zM720.7 205.8h1.6v1.6h-1.6zM624.1 207.3h1.6v1.6h-1.6zM649.0 207.3h6.0v1.6h-6.0zM722.2 207.3h1.6v1.6h-1.6zM640.2 208.8h1.6v1.6h-1.6zM649.0 208.8h4.5v1.6h-4.5zM720.7 208.8h3.1v1.6h-3.1zM649.0 210.2h6.0v1.6h-6.0zM720.7 210.2h1.6v1.6h-1.6zM751.5 210.2h3.1v1.6h-3.1zM763.2 210.2h3.1v1.6h-3.1zM624.1 211.7h3.1v1.6h-3.1zM641.6 211.7h1.6v1.6h-1.6zM650.4 211.7h4.5v1.6h-4.5zM750.0 211.7h1.6v1.6h-1.6zM760.3 211.7h4.5v1.6h-4.5zM624.1 213.2h4.5v1.6h-4.5zM631.4 213.2h1.6v1.6h-1.6zM650.4 213.2h4.5v1.6h-4.5zM744.2 213.2h6.0v1.6h-6.0zM625.5 214.6h4.5v1.6h-4.5zM631.4 214.6h3.1v1.6h-3.1zM643.1 214.6h1.6v1.6h-1.6zM651.9 214.6h4.5v1.6h-4.5zM741.2 214.6h3.1v1.6h-3.1zM754.4 214.6h3.1v1.6h-3.1zM634.3 216.1h1.6v1.6h-1.6zM651.9 216.1h4.5v1.6h-4.5zM741.2 216.1h1.6v1.6h-1.6zM751.5 216.1h8.9v1.6h-8.9zM644.6 217.6h1.6v1.6h-1.6zM651.9 217.6h1.6v1.6h-1.6zM736.8 217.6h4.5v1.6h-4.5zM748.6 217.6h4.5v1.6h-4.5zM754.4 217.6h1.6v1.6h-1.6zM757.4 217.6h1.6v1.6h-1.6zM644.6 219.0h1.6v1.6h-1.6zM653.4 219.0h1.6v1.6h-1.6zM656.3 219.0h1.6v1.6h-1.6zM665.1 219.0h1.6v1.6h-1.6zM735.4 219.0h4.5v1.6h-4.5zM747.1 219.0h3.1v1.6h-3.1zM755.9 219.0h1.6v1.6h-1.6zM646.0 220.5h1.6v1.6h-1.6zM651.9 220.5h3.1v1.6h-3.1zM665.1 220.5h1.6v1.6h-1.6zM729.5 220.5h7.5v1.6h-7.5zM738.3 220.5h1.6v1.6h-1.6zM741.2 220.5h1.6v1.6h-1.6zM744.2 220.5h3.1v1.6h-3.1zM638.7 221.9h1.6v1.6h-1.6zM644.6 221.9h3.1v1.6h-3.1zM651.9 221.9h3.1v1.6h-3.1zM663.6 221.9h3.1v1.6h-3.1zM728.1 221.9h16.3v1.6h-16.3zM644.6 223.4h3.1v1.6h-3.1zM653.4 223.4h1.6v1.6h-1.6zM663.6 223.4h3.1v1.6h-3.1zM728.1 223.4h3.1v1.6h-3.1zM732.5 223.4h3.1v1.6h-3.1zM736.8 223.4h1.6v1.6h-1.6zM641.6 224.9h1.6v1.6h-1.6zM644.6 224.9h1.6v1.6h-1.6zM649.0 224.9h1.6v1.6h-1.6zM653.4 224.9h3.1v1.6h-3.1zM663.6 224.9h3.1v1.6h-3.1zM728.1 224.9h4.5v1.6h-4.5zM643.1 226.3h3.1v1.6h-3.1zM649.0 226.3h1.6v1.6h-1.6zM665.1 226.3h1.6v1.6h-1.6zM650.4 227.8h1.6v1.6h-1.6zM665.1 227.8h1.6v1.6h-1.6zM714.9 227.8h1.6v1.6h-1.6zM717.8 227.8h3.1v1.6h-3.1zM659.2 229.3h1.6v1.6h-1.6zM665.1 229.3h1.6v1.6h-1.6zM687.0 229.3h1.6v1.6h-1.6zM713.4 229.3h1.6v1.6h-1.6zM719.3 229.3h3.1v1.6h-3.1zM665.1 230.7h1.6v1.6h-1.6zM685.6 230.7h3.1v1.6h-3.1zM710.5 230.7h6.0v1.6h-6.0zM719.3 230.7h3.1v1.6h-3.1zM745.6 230.7h6.0v1.6h-6.0zM685.6 232.2h3.1v1.6h-3.1zM709.0 232.2h10.4v1.6h-10.4zM742.7 232.2h1.6v1.6h-1.6zM745.6 232.2h1.6v1.6h-1.6zM748.6 232.2h7.5v1.6h-7.5zM760.3 232.2h1.6v1.6h-1.6zM663.6 233.7h1.6v1.6h-1.6zM685.6 233.7h1.6v1.6h-1.6zM692.9 233.7h4.5v1.6h-4.5zM706.1 233.7h8.9v1.6h-8.9zM741.2 233.7h1.6v1.6h-1.6zM751.5 233.7h6.0v1.6h-6.0zM760.3 233.7h1.6v1.6h-1.6zM663.6 235.1h1.6v1.6h-1.6zM672.4 235.1h1.6v1.6h-1.6zM684.1 235.1h3.1v1.6h-3.1zM691.4 235.1h1.6v1.6h-1.6zM703.2 235.1h6.0v1.6h-6.0zM722.2 235.1h3.1v1.6h-3.1zM726.6 235.1h1.6v1.6h-1.6zM729.5 235.1h3.1v1.6h-3.1zM738.3 235.1h3.1v1.6h-3.1zM751.5 235.1h4.5v1.6h-4.5zM665.1 236.6h1.6v1.6h-1.6zM672.4 236.6h1.6v1.6h-1.6zM678.3 236.6h1.6v1.6h-1.6zM682.6 236.6h3.1v1.6h-3.1zM690.0 236.6h1.6v1.6h-1.6zM694.4 236.6h1.6v1.6h-1.6zM698.8 236.6h7.5v1.6h-7.5zM720.7 236.6h1.6v1.6h-1.6zM732.5 236.6h7.5v1.6h-7.5zM751.5 236.6h1.6v1.6h-1.6zM662.1 238.1h1.6v1.6h-1.6zM665.1 238.1h1.6v1.6h-1.6zM678.3 238.1h1.6v1.6h-1.6zM681.2 238.1h1.6v1.6h-1.6zM684.1 238.1h1.6v1.6h-1.6zM688.5 238.1h1.6v1.6h-1.6zM692.9 238.1h6.0v1.6h-6.0zM703.2 238.1h3.1v1.6h-3.1zM719.3 238.1h3.1v1.6h-3.1zM736.8 238.1h3.1v1.6h-3.1zM748.6 238.1h6.0v1.6h-6.0zM665.1 239.5h1.6v1.6h-1.6zM676.8 239.5h1.6v1.6h-1.6zM679.7 239.5h3.1v1.6h-3.1zM691.4 239.5h3.1v1.6h-3.1zM701.7 239.5h1.6v1.6h-1.6zM716.3 239.5h3.1v1.6h-3.1zM736.8 239.5h7.5v1.6h-7.5zM745.6 239.5h7.5v1.6h-7.5zM676.8 241.0h1.6v1.6h-1.6zM679.7 241.0h1.6v1.6h-1.6zM688.5 241.0h1.6v1.6h-1.6zM691.4 241.0h1.6v1.6h-1.6zM700.2 241.0h1.6v1.6h-1.6zM714.9 241.0h1.6v1.6h-1.6zM736.8 241.0h10.4v1.6h-10.4zM675.3 242.5h1.6v1.6h-1.6zM678.3 242.5h1.6v1.6h-1.6zM687.0 242.5h1.6v1.6h-1.6zM690.0 242.5h1.6v1.6h-1.6zM698.8 242.5h1.6v1.6h-1.6zM713.4 242.5h1.6v1.6h-1.6zM736.8 242.5h4.5v1.6h-4.5zM742.7 242.5h4.5v1.6h-4.5zM675.3 243.9h1.6v1.6h-1.6zM678.3 243.9h3.1v1.6h-3.1zM687.0 243.9h3.1v1.6h-3.1zM695.8 243.9h3.1v1.6h-3.1zM703.2 243.9h8.9v1.6h-8.9zM676.8 245.4h3.1v1.6h-3.1zM694.4 245.4h3.1v1.6h-3.1zM700.2 245.4h1.6v1.6h-1.6zM731.0 245.4h3.1v1.6h-3.1zM675.3 246.9h1.6v1.6h-1.6zM694.4 246.9h1.6v1.6h-1.6zM697.3 246.9h1.6v1.6h-1.6zM728.1 246.9h6.0v1.6h-6.0zM754.4 246.9h1.6v1.6h-1.6zM672.4 248.3h1.6v1.6h-1.6zM691.4 248.3h1.6v1.6h-1.6zM694.4 248.3h1.6v1.6h-1.6zM725.1 248.3h1.6v1.6h-1.6zM728.1 248.3h3.1v1.6h-3.1zM741.2 248.3h1.6v1.6h-1.6zM753.0 248.3h3.1v1.6h-3.1zM675.3 249.8h1.6v1.6h-1.6zM691.4 249.8h3.1v1.6h-3.1zM719.3 249.8h1.6v1.6h-1.6zM732.5 249.8h3.1v1.6h-3.1zM739.8 249.8h4.5v1.6h-4.5zM745.6 249.8h1.6v1.6h-1.6zM748.6 249.8h6.0v1.6h-6.0zM663.6 251.2h1.6v1.6h-1.6zM670.9 251.2h1.6v1.6h-1.6zM673.9 251.2h1.6v1.6h-1.6zM687.0 251.2h3.1v1.6h-3.1zM694.4 251.2h6.0v1.6h-6.0zM717.8 251.2h3.1v1.6h-3.1zM732.5 251.2h8.9v1.6h-8.9zM672.4 252.7h1.6v1.6h-1.6zM684.1 252.7h1.6v1.6h-1.6zM690.0 252.7h8.9v1.6h-8.9zM717.8 252.7h3.1v1.6h-3.1zM733.9 252.7h6.0v1.6h-6.0zM679.7 254.2h3.1v1.6h-3.1zM688.5 254.2h4.5v1.6h-4.5zM719.3 254.2h1.6v1.6h-1.6zM728.1 254.2h1.6v1.6h-1.6zM731.0 254.2h1.6v1.6h-1.6zM733.9 254.2h6.0v1.6h-6.0zM665.1 255.6h3.1v1.6h-3.1zM669.5 255.6h1.6v1.6h-1.6zM720.7 255.6h1.6v1.6h-1.6zM726.6 255.6h11.9v1.6h-11.9zM675.3 257.1h1.6v1.6h-1.6zM722.2 257.1h10.4v1.6h-10.4zM725.1 260.0h3.1v1.6h-3.1zM750.0 263.0h3.1v1.6h-3.1zM750.0 264.4h4.5v1.6h-4.5z" fill="#0828f0"/>
<path d="M631.4 145.8h1.6v1.6h-1.6zM631.4 147.2h1.6v1.6h-1.6zM632.8 148.7h1.6v1.6h-1.6zM597.7 178.0h1.6v1.6h-1.6zM597.7 179.5h1.6v1.6h-1.6zM599.2 180.9h4.5v1.6h-4.5zM646.0 180.9h1.6v1.6h-1.6zM599.2 182.4h6.0v1.6h-6.0zM603.5 183.9h1.6v1.6h-1.6zM603.5 185.3h3.1v1.6h-3.1zM600.6 186.8h6.0v1.6h-6.0zM599.2 188.3h3.1v1.6h-3.1zM605.0 188.3h4.5v1.6h-4.5zM605.0 189.7h4.5v1.6h-4.5zM610.9 189.7h1.6v1.6h-1.6zM612.3 191.2h1.6v1.6h-1.6zM603.5 192.7h1.6v1.6h-1.6zM615.3 194.1h1.6v1.6h-1.6zM649.0 195.6h3.1v1.6h-3.1zM649.0 197.0h3.1v1.6h-3.1zM618.2 198.5h1.6v1.6h-1.6zM649.0 198.5h3.1v1.6h-3.1zM618.2 200.0h3.1v1.6h-3.1zM644.6 200.0h1.6v1.6h-1.6zM647.5 200.0h6.0v1.6h-6.0zM619.7 201.4h1.6v1.6h-1.6zM643.1 201.4h10.4v1.6h-10.4zM619.7 202.9h1.6v1.6h-1.6zM641.6 202.9h1.6v1.6h-1.6zM647.5 202.9h6.0v1.6h-6.0zM640.2 204.4h1.6v1.6h-1.6zM647.5 204.4h6.0v1.6h-6.0zM618.2 205.8h1.6v1.6h-1.6zM640.2 205.8h1.6v1.6h-1.6zM647.5 205.8h6.0v1.6h-6.0zM618.2 207.3h6.0v1.6h-6.0zM640.2 207.3h1.6v1.6h-1.6zM646.0 207.3h3.1v1.6h-3.1zM619.7 208.8h3.1v1.6h-3.1zM641.6 208.8h1.6v1.6h-1.6zM647.5 208.8h1.6v1.6h-1.6zM621.1 210.2h1.6v1.6h-1.6zM641.6 210.2h1.6v1.6h-1.6zM647.5 210.2h1.6v1.6h-1.6zM622.6 211.7h1.6v1.6h-1.6zM643.1 211.7h1.6v1.6h-1.6zM647.5 211.7h3.1v1.6h-3.1zM751.5 211.7h3.1v1.6h-3.1zM622.6 213.2h1.6v1.6h-1.6zM643.1 213.2h1.6v1.6h-1.6zM649.0 213.2h1.6v1.6h-1.6zM750.0 213.2h6.0v1.6h-6.0zM757.4 213.2h1.6v1.6h-1.6zM624.1 214.6h1.6v1.6h-1.6zM629.9 214.6h1.6v1.6h-1.6zM644.6 214.6h1.6v1.6h-1.6zM649.0 214.6h3.1v1.6h-3.1zM744.2 214.6h10.4v1.6h-10.4zM757.4 214.6h1.6v1.6h-1.6zM627.0 216.1h4.5v1.6h-4.5zM644.6 216.1h1.6v1.6h-1.6zM650.4 216.1h1.6v1.6h-1.6zM742.7 216.1h8.9v1.6h-8.9zM628.4 217.6h7.5v1.6h-7.5zM653.4 217.6h3.1v1.6h-3.1zM741.2 217.6h7.5v1.6h-7.5zM634.3 219.0h3.1v1.6h-3.1zM646.0 219.0h1.6v1.6h-1.6zM650.4 219.0h3.1v1.6h-3.1zM654.8 219.0h1.6v1.6h-1.6zM739.8 219.0h7.5v1.6h-7.5zM635.8 220.5h1.6v1.6h-1.6zM647.5 220.5h1.6v1.6h-1.6zM654.8 220.5h3.1v1.6h-3.1zM736.8 220.5h1.6v1.6h-1.6zM739.8 220.5h1.6v1.6h-1.6zM742.7 220.5h1.6v1.6h-1.6zM637.2 221.9h1.6v1.6h-1.6zM647.5 221.9h1.6v1.6h-1.6zM654.8 221.9h1.6v1.6h-1.6zM647.5 223.4h6.0v1.6h-6.0zM654.8 223.4h1.6v1.6h-1.6zM657.7 223.4h1.6v1.6h-1.6zM731.0 223.4h1.6v1.6h-1.6zM646.0 224.9h3.1v1.6h-3.1zM650.4 224.9h3.1v1.6h-3.1zM657.7 224.9h1.6v1.6h-1.6zM646.0 226.3h3.1v1.6h-3.1zM650.4 226.3h6.0v1.6h-6.0zM644.6 227.8h6.0v1.6h-6.0zM651.9 227.8h6.0v1.6h-6.0zM716.3 227.8h1.6v1.6h-1.6zM647.5 229.3h10.4v1.6h-10.4zM714.9 229.3h4.5v1.6h-4.5zM650.4 230.7h7.5v1.6h-7.5zM659.2 230.7h1.6v1.6h-1.6zM716.3 230.7h3.1v1.6h-3.1zM651.9 232.2h8.9v1.6h-8.9zM744.2 232.2h1.6v1.6h-1.6zM747.1 232.2h1.6v1.6h-1.6zM653.4 233.7h1.6v1.6h-1.6zM656.3 233.7h3.1v1.6h-3.1zM742.7 233.7h1.6v1.6h-1.6zM745.6 233.7h6.0v1.6h-6.0zM657.7 235.1h1.6v1.6h-1.6zM660.7 235.1h1.6v1.6h-1.6zM692.9 235.1h3.1v1.6h-3.1zM725.1 235.1h1.6v1.6h-1.6zM728.1 235.1h1.6v1.6h-1.6zM741.2 235.1h1.6v1.6h-1.6zM748.6 235.1h3.1v1.6h-3.1zM663.6 236.6h1.6v1.6h-1.6zM691.4 236.6h3.1v1.6h-3.1zM722.2 236.6h10.4v1.6h-10.4zM739.8 236.6h3.1v1.6h-3.1zM747.1 236.6h4.5v1.6h-4.5zM663.6 238.1h1.6v1.6h-1.6zM682.6 238.1h1.6v1.6h-1.6zM690.0 238.1h3.1v1.6h-3.1zM698.8 238.1h4.5v1.6h-4.5zM722.2 238.1h1.6v1.6h-1.6zM732.5 238.1h4.5v1.6h-4.5zM739.8 238.1h8.9v1.6h-8.9zM662.1 239.5h3.1v1.6h-3.1zM682.6 239.5h1.6v1.6h-1.6zM688.5 239.5h3.1v1.6h-3.1zM694.4 239.5h7.5v1.6h-7.5zM719.3 239.5h3.1v1.6h-3.1zM733.9 239.5h3.1v1.6h-3.1zM744.2 239.5h1.6v1.6h-1.6zM663.6 241.0h3.1v1.6h-3.1zM681.2 241.0h1.6v1.6h-1.6zM687.0 241.0h1.6v1.6h-1.6zM692.9 241.0h3.1v1.6h-3.1zM697.3 241.0h3.1v1.6h-3.1zM716.3 241.0h3.1v1.6h-3.1zM733.9 241.0h3.1v1.6h-3.1zM665.1 242.5h1.6v1.6h-1.6zM679.7 242.5h1.6v1.6h-1.6zM685.6 242.5h1.6v1.6h-1.6zM691.4 242.5h7.5v1.6h-7.5zM714.9 242.5h1.6v1.6h-1.6zM732.5 242.5h4.5v1.6h-4.5zM685.6 243.9h1.6v1.6h-1.6zM690.0 243.9h6.0v1.6h-6.0zM711.9 243.9h3.1v1.6h-3.1zM731.0 243.9h4.5v1.6h-4.5zM685.6 245.4h3.1v1.6h-3.1zM692.9 245.4h1.6v1.6h-1.6zM701.7 245.4h1.6v1.6h-1.6zM709.0 245.4h1.6v1.6h-1.6zM729.5 245.4h1.6v1.6h-1.6zM681.2 246.9h1.6v1.6h-1.6zM684.1 246.9h1.6v1.6h-1.6zM692.9 246.9h1.6v1.6h-1.6zM698.8 246.9h1.6v1.6h-1.6zM722.2 246.9h6.0v1.6h-6.0zM662.1 248.3h1.6v1.6h-1.6zM679.7 248.3h4.5v1.6h-4.5zM695.8 248.3h3.1v1.6h-3.1zM717.8 248.3h4.5v1.6h-4.5zM673.9 249.8h1.6v1.6h-1.6zM678.3 249.8h1.6v1.6h-1.6zM681.2 249.8h1.6v1.6h-1.6zM688.5 249.8h1.6v1.6h-1.6zM694.4 249.8h4.5v1.6h-4.5zM714.9 249.8h4.5v1.6h-4.5zM665.1 251.2h1.6v1.6h-1.6zM676.8 251.2h4.5v1.6h-4.5zM685.6 251.2h1.6v1.6h-1.6zM690.0 251.2h4.5v1.6h-4.5zM700.2 251.2h1.6v1.6h-1.6zM713.4 251.2h4.5v1.6h-4.5zM741.2 251.2h3.1v1.6h-3.1zM745.6 251.2h8.9v1.6h-8.9zM665.1 252.7h1.6v1.6h-1.6zM675.3 252.7h1.6v1.6h-1.6zM682.6 252.7h1.6v1.6h-1.6zM685.6 252.7h4.5v1.6h-4.5zM698.8 252.7h3.1v1.6h-3.1zM706.1 252.7h1.6v1.6h-1.6zM709.0 252.7h8.9v1.6h-8.9zM739.8 252.7h7.5v1.6h-7.5zM751.5 252.7h1.6v1.6h-1.6zM670.9 254.2h3.1v1.6h-3.1zM675.3 254.2h1.6v1.6h-1.6zM682.6 254.2h1.6v1.6h-1.6zM685.6 254.2h3.1v1.6h-3.1zM692.9 254.2h16.3v1.6h-16.3zM717.8 254.2h1.6v1.6h-1.6zM739.8 254.2h1.6v1.6h-1.6zM673.9 255.6h1.6v1.6h-1.6zM681.2 255.6h4.5v1.6h-4.5zM692.9 255.6h7.5v1.6h-7.5zM719.3 255.6h1.6v1.6h-1.6zM738.3 255.6h3.1v1.6h-3.1zM676.8 257.1h1.6v1.6h-1.6zM720.7 257.1h1.6v1.6h-1.6zM732.5 257.1h6.0v1.6h-6.0zM720.7 258.6h13.3v1.6h-13.3zM720.7 260.0h4.5v1.6h-4.5zM728.1 260.0h6.0v1.6h-6.0zM720.7 261.5h11.9v1.6h-11.9zM747.1 261.5h4.5v1.6h-4.5zM673.9 263.0h1.6v1.6h-1.6zM722.2 263.0h7.5v1.6h-7.5zM747.1 263.0h3.1v1.6h-3.1zM676.8 264.4h1.6v1.6h-1.6zM747.1 264.4h3.1v1.6h-3.1zM748.6 265.9h6.0v1.6h-6.0z" fill="#0010f0"/>
<path d="M591.8 179.5h4.5v1.6h-4.5zM593.3 180.9h1.6v1.6h-1.6zM593.3 182.4h1.6v1.6h-1.6zM597.7 183.9h1.6v1.6h-1.6zM600.6 183.9h3.1v1.6h-3.1zM597.7 185.3h6.0v1.6h-6.0zM594.8 186.8h1.6v1.6h-1.6zM599.2 186.8h1.6v1.6h-1.6zM594.8 188.3h4.5v1.6h-4.5zM594.8 189.7h6.0v1.6h-6.0zM609.4 189.7h1.6v1.6h-1.6zM596.2 191.2h3.1v1.6h-3.1zM605.0 191.2h4.5v1.6h-4.5zM596.2 192.7h1.6v1.6h-1.6zM605.0 192.7h3.1v1.6h-3.1zM612.3 192.7h1.6v1.6h-1.6zM602.1 194.1h6.0v1.6h-6.0zM613.8 194.1h1.6v1.6h-1.6zM602.1 195.6h6.0v1.6h-6.0zM615.3 195.6h1.6v1.6h-1.6zM616.7 197.0h1.6v1.6h-1.6zM616.7 198.5h1.6v1.6h-1.6zM615.3 200.0h3.1v1.6h-3.1zM613.8 201.4h6.0v1.6h-6.0zM613.8 202.9h6.0v1.6h-6.0zM643.1 202.9h4.5v1.6h-4.5zM615.3 204.4h4.5v1.6h-4.5zM641.6 204.4h6.0v1.6h-6.0zM641.6 205.8h6.0v1.6h-6.0zM641.6 207.3h4.5v1.6h-4.5zM616.7 208.8h3.1v1.6h-3.1zM643.1 208.8h4.5v1.6h-4.5zM619.7 210.2h1.6v1.6h-1.6zM643.1 210.2h4.5v1.6h-4.5zM619.7 211.7h3.1v1.6h-3.1zM644.6 211.7h3.1v1.6h-3.1zM621.1 213.2h1.6v1.6h-1.6zM644.6 213.2h4.5v1.6h-4.5zM622.6 214.6h1.6v1.6h-1.6zM625.5 216.1h1.6v1.6h-1.6zM646.0 216.1h1.6v1.6h-1.6zM649.0 216.1h1.6v1.6h-1.6zM627.0 217.6h1.6v1.6h-1.6zM646.0 217.6h1.6v1.6h-1.6zM649.0 217.6h3.1v1.6h-3.1zM628.4 219.0h3.1v1.6h-3.1zM647.5 219.0h3.1v1.6h-3.1zM649.0 220.5h3.1v1.6h-3.1zM649.0 221.9h3.1v1.6h-3.1zM656.3 221.9h1.6v1.6h-1.6zM635.8 223.4h4.5v1.6h-4.5zM656.3 223.4h1.6v1.6h-1.6zM634.3 224.9h3.1v1.6h-3.1zM640.2 224.9h1.6v1.6h-1.6zM656.3 224.9h1.6v1.6h-1.6zM641.6 226.3h1.6v1.6h-1.6zM656.3 226.3h3.1v1.6h-3.1zM643.1 227.8h1.6v1.6h-1.6zM657.7 227.8h1.6v1.6h-1.6zM644.6 229.3h3.1v1.6h-3.1zM657.7 229.3h1.6v1.6h-1.6zM640.2 230.7h1.6v1.6h-1.6zM646.0 230.7h4.5v1.6h-4.5zM657.7 230.7h1.6v1.6h-1.6zM647.5 232.2h1.6v1.6h-1.6zM650.4 232.2h1.6v1.6h-1.6zM651.9 233.7h1.6v1.6h-1.6zM654.8 233.7h1.6v1.6h-1.6zM659.2 233.7h1.6v1.6h-1.6zM744.2 233.7h1.6v1.6h-1.6zM653.4 235.1h4.5v1.6h-4.5zM659.2 235.1h1.6v1.6h-1.6zM742.7 235.1h6.0v1.6h-6.0zM654.8 236.6h1.6v1.6h-1.6zM657.7 236.6h4.5v1.6h-4.5zM742.7 236.6h4.5v1.6h-4.5zM657.7 238.1h3.1v1.6h-3.1zM723.7 238.1h3.1v1.6h-3.1zM729.5 238.1h3.1v1.6h-3.1zM659.2 239.5h1.6v1.6h-1.6zM722.2 239.5h1.6v1.6h-1.6zM731.0 239.5h3.1v1.6h-3.1zM659.2 241.0h1.6v1.6h-1.6zM662.1 241.0h1.6v1.6h-1.6zM695.8 241.0h1.6v1.6h-1.6zM719.3 241.0h3.1v1.6h-3.1zM732.5 241.0h1.6v1.6h-1.6zM663.6 242.5h1.6v1.6h-1.6zM716.3 242.5h3.1v1.6h-3.1zM731.0 242.5h1.6v1.6h-1.6zM660.7 243.9h1.6v1.6h-1.6zM663.6 243.9h1.6v1.6h-1.6zM684.1 243.9h1.6v1.6h-1.6zM714.9 243.9h1.6v1.6h-1.6zM723.7 243.9h1.6v1.6h-1.6zM726.6 243.9h4.5v1.6h-4.5zM660.7 245.4h1.6v1.6h-1.6zM682.6 245.4h3.1v1.6h-3.1zM688.5 245.4h4.5v1.6h-4.5zM703.2 245.4h6.0v1.6h-6.0zM710.5 245.4h3.1v1.6h-3.1zM714.9 245.4h4.5v1.6h-4.5zM722.2 245.4h7.5v1.6h-7.5zM662.1 246.9h1.6v1.6h-1.6zM682.6 246.9h1.6v1.6h-1.6zM685.6 246.9h4.5v1.6h-4.5zM691.4 246.9h1.6v1.6h-1.6zM700.2 246.9h1.6v1.6h-1.6zM709.0 246.9h3.1v1.6h-3.1zM716.3 246.9h6.0v1.6h-6.0zM657.7 248.3h1.6v1.6h-1.6zM684.1 248.3h1.6v1.6h-1.6zM690.0 248.3h1.6v1.6h-1.6zM698.8 248.3h1.6v1.6h-1.6zM709.0 248.3h1.6v1.6h-1.6zM714.9 248.3h3.1v1.6h-3.1zM659.2 249.8h1.6v1.6h-1.6zM663.6 249.8h3.1v1.6h-3.1zM679.7 249.8h1.6v1.6h-1.6zM682.6 249.8h1.6v1.6h-1.6zM698.8 249.8h4.5v1.6h-4.5zM711.9 249.8h3.1v1.6h-3.1zM681.2 251.2h1.6v1.6h-1.6zM701.7 251.2h1.6v1.6h-1.6zM709.0 251.2h4.5v1.6h-4.5zM663.6 252.7h1.6v1.6h-1.6zM676.8 252.7h3.1v1.6h-3.1zM701.7 252.7h4.5v1.6h-4.5zM707.6 252.7h1.6v1.6h-1.6zM747.1 252.7h4.5v1.6h-4.5zM660.7 254.2h1.6v1.6h-1.6zM665.1 254.2h1.6v1.6h-1.6zM673.9 254.2h1.6v1.6h-1.6zM684.1 254.2h1.6v1.6h-1.6zM709.0 254.2h8.9v1.6h-8.9zM741.2 254.2h8.9v1.6h-8.9zM670.9 255.6h3.1v1.6h-3.1zM676.8 255.6h1.6v1.6h-1.6zM679.7 255.6h1.6v1.6h-1.6zM685.6 255.6h3.1v1.6h-3.1zM690.0 255.6h3.1v1.6h-3.1zM700.2 255.6h4.5v1.6h-4.5zM717.8 255.6h1.6v1.6h-1.6zM678.3 257.1h4.5v1.6h-4.5zM719.3 257.1h1.6v1.6h-1.6zM672.4 258.6h4.5v1.6h-4.5zM719.3 258.6h1.6v1.6h-1.6zM733.9 258.6h3.1v1.6h-3.1zM750.0 258.6h3.1v1.6h-3.1zM672.4 260.0h1.6v1.6h-1.6zM717.8 260.0h3.1v1.6h-3.1zM733.9 260.0h3.1v1.6h-3.1zM745.6 260.0h4.5v1.6h-4.5zM751.5 260.0h1.6v1.6h-1.6zM673.9 261.5h8.9v1.6h-8.9zM717.8 261.5h3.1v1.6h-3.1zM732.5 261.5h4.5v1.6h-4.5zM742.7 261.5h4.5v1.6h-4.5zM717.8 263.0h4.5v1.6h-4.5zM729.5 263.0h6.0v1.6h-6.0zM739.8 263.0h7.5v1.6h-7.5zM678.3 264.4h1.6v1.6h-1.6zM723.7 264.4h8.9v1.6h-8.9zM742.7 264.4h4.5v1.6h-4.5zM679.7 265.9h3.1v1.6h-3.1zM745.6 265.9h3.1v1.6h-3.1zM750.0 267.4h3.1v1.6h-3.1z" fill="#0008d8"/>
<path d="M586.0 179.5h1.6v1.6h-1.6zM587.4 180.9h6.0v1.6h-6.0zM584.5 182.4h8.9v1.6h-8.9zM584.5 183.9h10.4v1.6h-10.4zM587.4 185.3h7.5v1.6h-7.5zM588.9 186.8h6.0v1.6h-6.0zM593.3 188.3h1.6v1.6h-1.6zM593.3 189.7h1.6v1.6h-1.6zM593.3 191.2h3.1v1.6h-3.1zM594.8 192.7h1.6v1.6h-1.6zM610.9 192.7h1.6v1.6h-1.6zM594.8 194.1h3.1v1.6h-3.1zM612.3 194.1h1.6v1.6h-1.6zM596.2 195.6h1.6v1.6h-1.6zM600.6 195.6h1.6v1.6h-1.6zM613.8 195.6h1.6v1.6h-1.6zM599.2 197.0h11.9v1.6h-11.9zM613.8 197.0h3.1v1.6h-3.1zM610.9 198.5h1.6v1.6h-1.6zM615.3 198.5h1.6v1.6h-1.6zM610.9 201.4h3.1v1.6h-3.1zM610.9 202.9h3.1v1.6h-3.1zM612.3 205.8h1.6v1.6h-1.6zM613.8 207.3h1.6v1.6h-1.6zM615.3 208.8h1.6v1.6h-1.6zM616.7 210.2h3.1v1.6h-3.1zM618.2 211.7h1.6v1.6h-1.6zM646.0 214.6h3.1v1.6h-3.1zM647.5 216.1h1.6v1.6h-1.6zM647.5 217.6h1.6v1.6h-1.6zM625.5 219.0h3.1v1.6h-3.1zM624.1 220.5h6.0v1.6h-6.0zM632.8 224.9h1.6v1.6h-1.6zM637.2 224.9h3.1v1.6h-3.1zM634.3 226.3h7.5v1.6h-7.5zM637.2 227.8h6.0v1.6h-6.0zM637.2 229.3h7.5v1.6h-7.5zM638.7 230.7h1.6v1.6h-1.6zM641.6 230.7h1.6v1.6h-1.6zM644.6 230.7h1.6v1.6h-1.6zM640.2 232.2h4.5v1.6h-4.5zM646.0 232.2h1.6v1.6h-1.6zM649.0 232.2h1.6v1.6h-1.6zM641.6 233.7h3.1v1.6h-3.1zM649.0 233.7h3.1v1.6h-3.1zM643.1 235.1h3.1v1.6h-3.1zM651.9 235.1h1.6v1.6h-1.6zM644.6 236.6h3.1v1.6h-3.1zM653.4 236.6h1.6v1.6h-1.6zM656.3 236.6h1.6v1.6h-1.6zM644.6 238.1h4.5v1.6h-4.5zM654.8 238.1h3.1v1.6h-3.1zM660.7 238.1h1.6v1.6h-1.6zM726.6 238.1h3.1v1.6h-3.1zM646.0 239.5h4.5v1.6h-4.5zM656.3 239.5h3.1v1.6h-3.1zM660.7 239.5h1.6v1.6h-1.6zM723.7 239.5h7.5v1.6h-7.5zM647.5 241.0h4.5v1.6h-4.5zM653.4 241.0h1.6v1.6h-1.6zM660.7 241.0h1.6v1.6h-1.6zM722.2 241.0h6.0v1.6h-6.0zM729.5 241.0h3.1v1.6h-3.1zM649.0 242.5h6.0v1.6h-6.0zM659.2 242.5h4.5v1.6h-4.5zM719.3 242.5h11.9v1.6h-11.9zM650.4 243.9h3.1v1.6h-3.1zM654.8 243.9h1.6v1.6h-1.6zM662.1 243.9h1.6v1.6h-1.6zM665.1 243.9h1.6v1.6h-1.6zM716.3 243.9h7.5v1.6h-7.5zM725.1 243.9h1.6v1.6h-1.6zM651.9 245.4h6.0v1.6h-6.0zM662.1 245.4h3.1v1.6h-3.1zM713.4 245.4h1.6v1.6h-1.6zM719.3 245.4h3.1v1.6h-3.1zM653.4 246.9h6.0v1.6h-6.0zM663.6 246.9h1.6v1.6h-1.6zM690.0 246.9h1.6v1.6h-1.6zM701.7 246.9h1.6v1.6h-1.6zM707.6 246.9h1.6v1.6h-1.6zM711.9 246.9h4.5v1.6h-4.5zM654.8 248.3h3.1v1.6h-3.1zM663.6 248.3h3.1v1.6h-3.1zM685.6 248.3h4.5v1.6h-4.5zM700.2 248.3h3.1v1.6h-3.1zM706.1 248.3h3.1v1.6h-3.1zM710.5 248.3h4.5v1.6h-4.5zM656.3 249.8h3.1v1.6h-3.1zM662.1 249.8h1.6v1.6h-1.6zM684.1 249.8h1.6v1.6h-1.6zM687.0 249.8h1.6v1.6h-1.6zM703.2 249.8h8.9v1.6h-8.9zM657.7 251.2h1.6v1.6h-1.6zM684.1 251.2h1.6v1.6h-1.6zM703.2 251.2h6.0v1.6h-6.0zM659.2 252.7h3.1v1.6h-3.1zM679.7 252.7h1.6v1.6h-1.6zM662.1 254.2h1.6v1.6h-1.6zM676.8 254.2h1.6v1.6h-1.6zM662.1 255.6h3.1v1.6h-3.1zM688.5 255.6h1.6v1.6h-1.6zM704.6 255.6h13.3v1.6h-13.3zM741.2 255.6h8.9v1.6h-8.9zM663.6 257.1h1.6v1.6h-1.6zM670.9 257.1h3.1v1.6h-3.1zM682.6 257.1h1.6v1.6h-1.6zM687.0 257.1h7.5v1.6h-7.5zM695.8 257.1h1.6v1.6h-1.6zM716.3 257.1h3.1v1.6h-3.1zM738.3 257.1h11.9v1.6h-11.9zM679.7 258.6h1.6v1.6h-1.6zM716.3 258.6h3.1v1.6h-3.1zM736.8 258.6h13.3v1.6h-13.3zM673.9 260.0h1.6v1.6h-1.6zM714.9 260.0h3.1v1.6h-3.1zM736.8 260.0h8.9v1.6h-8.9zM682.6 261.5h1.6v1.6h-1.6zM713.4 261.5h4.5v1.6h-4.5zM736.8 261.5h6.0v1.6h-6.0zM675.3 263.0h1.6v1.6h-1.6zM709.0 263.0h8.9v1.6h-8.9zM735.4 263.0h4.5v1.6h-4.5zM679.7 264.4h1.6v1.6h-1.6zM717.8 264.4h6.0v1.6h-6.0zM732.5 264.4h10.4v1.6h-10.4zM741.2 265.9h4.5v1.6h-4.5zM747.1 267.4h3.1v1.6h-3.1zM753.0 267.4h1.6v1.6h-1.6zM750.0 268.8h3.1v1.6h-3.1zM717.8 280.5h1.6v1.6h-1.6zM720.7 280.5h1.6v1.6h-1.6zM719.3 282.0h4.5v1.6h-4.5zM731.0 282.0h3.1v1.6h-3.1zM731.0 283.5h6.0v1.6h-6.0zM732.5 284.9h4.5v1.6h-4.5zM733.9 286.4h6.0v1.6h-6.0zM736.8 287.9h3.1v1.6h-3.1zM769.1 290.8h3.1v1.6h-3.1zM769.1 292.3h3.1v1.6h-3.1zM766.1 293.7h4.5v1.6h-4.5z" fill="#0000b8"/>
<path d="M583.0 183.9h1.6v1.6h-1.6zM584.5 185.3h3.1v1.6h-3.1zM586.0 186.8h3.1v1.6h-3.1zM586.0 188.3h4.5v1.6h-4.5zM591.8 189.7h1.6v1.6h-1.6zM593.3 192.7h1.6v1.6h-1.6zM593.3 194.1h1.6v1.6h-1.6zM610.9 194.1h1.6v1.6h-1.6zM594.8 195.6h1.6v1.6h-1.6zM610.9 195.6h3.1v1.6h-3.1zM596.2 197.0h3.1v1.6h-3.1zM610.9 197.0h1.6v1.6h-1.6zM599.2 198.5h1.6v1.6h-1.6zM602.1 198.5h8.9v1.6h-8.9zM602.1 200.0h4.5v1.6h-4.5zM609.4 200.0h1.6v1.6h-1.6zM609.4 205.8h3.1v1.6h-3.1zM610.9 207.3h3.1v1.6h-3.1zM615.3 211.7h3.1v1.6h-3.1zM616.7 213.2h1.6v1.6h-1.6zM616.7 214.6h1.6v1.6h-1.6zM624.1 221.9h6.0v1.6h-6.0zM625.5 223.4h3.1v1.6h-3.1zM631.4 226.3h3.1v1.6h-3.1zM634.3 227.8h3.1v1.6h-3.1zM635.8 229.3h1.6v1.6h-1.6zM637.2 230.7h1.6v1.6h-1.6zM643.1 230.7h1.6v1.6h-1.6zM637.2 232.2h3.1v1.6h-3.1zM644.6 232.2h1.6v1.6h-1.6zM638.7 233.7h3.1v1.6h-3.1zM644.6 233.7h4.5v1.6h-4.5zM641.6 235.1h1.6v1.6h-1.6zM646.0 235.1h6.0v1.6h-6.0zM643.1 236.6h1.6v1.6h-1.6zM647.5 236.6h6.0v1.6h-6.0zM649.0 238.1h6.0v1.6h-6.0zM644.6 239.5h1.6v1.6h-1.6zM650.4 239.5h6.0v1.6h-6.0zM651.9 241.0h1.6v1.6h-1.6zM654.8 241.0h4.5v1.6h-4.5zM728.1 241.0h1.6v1.6h-1.6zM654.8 242.5h1.6v1.6h-1.6zM657.7 242.5h1.6v1.6h-1.6zM653.4 243.9h1.6v1.6h-1.6zM656.3 243.9h4.5v1.6h-4.5zM659.2 245.4h1.6v1.6h-1.6zM665.1 245.4h1.6v1.6h-1.6zM660.7 246.9h1.6v1.6h-1.6zM665.1 246.9h1.6v1.6h-1.6zM703.2 246.9h4.5v1.6h-4.5zM659.2 248.3h3.1v1.6h-3.1zM703.2 248.3h3.1v1.6h-3.1zM660.7 249.8h1.6v1.6h-1.6zM685.6 249.8h1.6v1.6h-1.6zM659.2 251.2h4.5v1.6h-4.5zM682.6 251.2h1.6v1.6h-1.6zM681.2 252.7h1.6v1.6h-1.6zM663.6 254.2h1.6v1.6h-1.6zM678.3 254.2h1.6v1.6h-1.6zM675.3 255.6h1.6v1.6h-1.6zM684.1 257.1h3.1v1.6h-3.1zM694.4 257.1h1.6v1.6h-1.6zM697.3 257.1h19.2v1.6h-19.2zM676.8 258.6h3.1v1.6h-3.1zM681.2 258.6h3.1v1.6h-3.1zM698.8 258.6h8.9v1.6h-8.9zM710.5 258.6h6.0v1.6h-6.0zM675.3 260.0h1.6v1.6h-1.6zM701.7 260.0h4.5v1.6h-4.5zM710.5 260.0h4.5v1.6h-4.5zM672.4 261.5h1.6v1.6h-1.6zM684.1 261.5h4.5v1.6h-4.5zM698.8 261.5h14.8v1.6h-14.8zM672.4 263.0h1.6v1.6h-1.6zM690.0 263.0h3.1v1.6h-3.1zM694.4 263.0h14.8v1.6h-14.8zM675.3 264.4h1.6v1.6h-1.6zM710.5 264.4h7.5v1.6h-7.5zM678.3 265.9h1.6v1.6h-1.6zM682.6 265.9h1.6v1.6h-1.6zM722.2 265.9h19.2v1.6h-19.2zM681.2 267.4h4.5v1.6h-4.5zM742.7 267.4h4.5v1.6h-4.5zM747.1 268.8h3.1v1.6h-3.1zM753.0 268.8h3.1v1.6h-3.1zM748.6 270.3h7.5v1.6h-7.5zM748.6 271.8h7.5v1.6h-7.5zM748.6 273.2h7.5v1.6h-7.5zM747.1 274.7h8.9v1.6h-8.9zM747.1 276.1h10.4v1.6h-10.4zM750.0 277.6h7.5v1.6h-7.5zM758.8 277.6h3.1v1.6h-3.1zM717.8 279.1h4.5v1.6h-4.5zM729.5 279.1h3.1v1.6h-3.1zM754.4 279.1h7.5v1.6h-7.5zM716.3 280.5h1.6v1.6h-1.6zM719.3 280.5h1.6v1.6h-1.6zM722.2 280.5h14.8v1.6h-14.8zM757.4 280.5h3.1v1.6h-3.1zM716.3 282.0h3.1v1.6h-3.1zM723.7 282.0h7.5v1.6h-7.5zM733.9 282.0h3.1v1.6h-3.1zM719.3 283.5h11.9v1.6h-11.9zM736.8 283.5h1.6v1.6h-1.6zM728.1 284.9h4.5v1.6h-4.5zM736.8 284.9h4.5v1.6h-4.5zM731.0 286.4h3.1v1.6h-3.1zM739.8 286.4h3.1v1.6h-3.1zM733.9 287.9h1.6v1.6h-1.6zM739.8 287.9h3.1v1.6h-3.1zM772.0 287.9h3.1v1.6h-3.1zM738.3 289.3h3.1v1.6h-3.1zM767.6 289.3h7.5v1.6h-7.5zM766.1 290.8h3.1v1.6h-3.1zM772.0 290.8h3.1v1.6h-3.1zM764.7 292.3h1.6v1.6h-1.6zM763.2 293.7h3.1v1.6h-3.1zM770.5 293.7h1.6v1.6h-1.6zM763.2 295.2h7.5v1.6h-7.5zM761.8 296.7h6.0v1.6h-6.0zM761.8 298.1h3.1v1.6h-3.1z" fill="#0000a0"/>
<path d="M602.1 188.3h3.1v1.6h-3.1zM600.6 189.7h4.5v1.6h-4.5zM599.2 191.2h6.0v1.6h-6.0zM609.4 191.2h3.1v1.6h-3.1zM590.4 192.7h1.6v1.6h-1.6zM597.7 192.7h6.0v1.6h-6.0zM607.9 192.7h3.1v1.6h-3.1zM597.7 194.1h4.5v1.6h-4.5zM607.9 194.1h3.1v1.6h-3.1zM597.7 195.6h3.1v1.6h-3.1zM607.9 195.6h3.1v1.6h-3.1zM616.7 195.6h1.6v1.6h-1.6zM612.3 197.0h1.6v1.6h-1.6zM597.7 198.5h1.6v1.6h-1.6zM612.3 198.5h3.1v1.6h-3.1zM599.2 200.0h3.1v1.6h-3.1zM610.9 200.0h4.5v1.6h-4.5zM600.6 201.4h6.0v1.6h-6.0zM602.1 202.9h6.0v1.6h-6.0zM621.1 202.9h3.1v1.6h-3.1zM603.5 204.4h4.5v1.6h-4.5zM619.7 204.4h6.0v1.6h-6.0zM606.5 205.8h3.1v1.6h-3.1zM619.7 205.8h4.5v1.6h-4.5zM607.9 207.3h3.1v1.6h-3.1zM609.4 208.8h3.1v1.6h-3.1zM610.9 210.2h1.6v1.6h-1.6zM613.8 210.2h3.1v1.6h-3.1zM612.3 211.7h3.1v1.6h-3.1zM629.9 211.7h3.1v1.6h-3.1zM613.8 213.2h3.1v1.6h-3.1zM628.4 213.2h3.1v1.6h-3.1zM615.3 214.6h1.6v1.6h-1.6zM627.0 224.9h3.1v1.6h-3.1zM628.4 226.3h3.1v1.6h-3.1zM631.4 227.8h3.1v1.6h-3.1zM632.8 229.3h3.1v1.6h-3.1zM634.3 230.7h3.1v1.6h-3.1zM635.8 232.2h1.6v1.6h-1.6zM637.2 233.7h1.6v1.6h-1.6zM638.7 235.1h3.1v1.6h-3.1zM641.6 236.6h1.6v1.6h-1.6zM643.1 238.1h1.6v1.6h-1.6zM646.0 241.0h1.6v1.6h-1.6zM647.5 242.5h1.6v1.6h-1.6zM656.3 242.5h1.6v1.6h-1.6zM649.0 243.9h1.6v1.6h-1.6zM650.4 245.4h1.6v1.6h-1.6zM657.7 245.4h1.6v1.6h-1.6zM651.9 246.9h1.6v1.6h-1.6zM659.2 246.9h1.6v1.6h-1.6zM653.4 248.3h1.6v1.6h-1.6zM662.1 252.7h1.6v1.6h-1.6zM673.9 257.1h1.6v1.6h-1.6zM684.1 258.6h1.6v1.6h-1.6zM691.4 258.6h7.5v1.6h-7.5zM707.6 258.6h3.1v1.6h-3.1zM676.8 260.0h8.9v1.6h-8.9zM690.0 260.0h3.1v1.6h-3.1zM697.3 260.0h4.5v1.6h-4.5zM706.1 260.0h4.5v1.6h-4.5zM688.5 261.5h10.4v1.6h-10.4zM676.8 263.0h1.6v1.6h-1.6zM681.2 263.0h1.6v1.6h-1.6zM684.1 263.0h6.0v1.6h-6.0zM692.9 263.0h1.6v1.6h-1.6zM681.2 264.4h1.6v1.6h-1.6zM697.3 264.4h13.3v1.6h-13.3zM669.5 265.9h1.6v1.6h-1.6zM684.1 265.9h1.6v1.6h-1.6zM710.5 265.9h11.9v1.6h-11.9zM685.6 267.4h1.6v1.6h-1.6zM722.2 267.4h20.7v1.6h-20.7zM741.2 268.8h6.0v1.6h-6.0zM722.2 270.3h1.6v1.6h-1.6zM742.7 270.3h6.0v1.6h-6.0zM720.7 271.8h3.1v1.6h-3.1zM742.7 271.8h6.0v1.6h-6.0zM722.2 273.2h1.6v1.6h-1.6zM728.1 273.2h8.9v1.6h-8.9zM741.2 273.2h7.5v1.6h-7.5zM728.1 274.7h19.2v1.6h-19.2zM728.1 276.1h19.2v1.6h-19.2zM717.8 277.6h32.4v1.6h-32.4zM761.8 277.6h3.1v1.6h-3.1zM714.9 279.1h3.1v1.6h-3.1zM722.2 279.1h7.5v1.6h-7.5zM732.5 279.1h7.5v1.6h-7.5zM741.2 279.1h11.9v1.6h-11.9zM761.8 279.1h4.5v1.6h-4.5zM714.9 280.5h1.6v1.6h-1.6zM736.8 280.5h3.1v1.6h-3.1zM747.1 280.5h7.5v1.6h-7.5zM760.3 280.5h6.0v1.6h-6.0zM736.8 282.0h4.5v1.6h-4.5zM753.0 282.0h13.3v1.6h-13.3zM716.3 283.5h3.1v1.6h-3.1zM738.3 283.5h4.5v1.6h-4.5zM753.0 283.5h11.9v1.6h-11.9zM719.3 284.9h8.9v1.6h-8.9zM741.2 284.9h17.7v1.6h-17.7zM728.1 286.4h3.1v1.6h-3.1zM742.7 286.4h14.8v1.6h-14.8zM732.5 287.9h1.6v1.6h-1.6zM742.7 287.9h14.8v1.6h-14.8zM764.7 287.9h4.5v1.6h-4.5zM741.2 289.3h14.8v1.6h-14.8zM738.3 290.8h4.5v1.6h-4.5zM747.1 290.8h7.5v1.6h-7.5zM763.2 290.8h3.1v1.6h-3.1zM750.0 292.3h4.5v1.6h-4.5zM761.8 292.3h3.1v1.6h-3.1zM760.3 293.7h3.1v1.6h-3.1zM760.3 295.2h3.1v1.6h-3.1zM757.4 296.7h4.5v1.6h-4.5zM767.6 296.7h3.1v1.6h-3.1zM764.7 298.1h4.5v1.6h-4.5zM763.2 299.6h4.5v1.6h-4.5zM763.2 301.1h1.6v1.6h-1.6z" fill="#000088"/>
<path d="M640.2 236.6h1.6v1.6h-1.6zM641.6 238.1h1.6v1.6h-1.6zM685.6 258.6h6.0v1.6h-6.0zM685.6 260.0h4.5v1.6h-4.5zM692.9 260.0h4.5v1.6h-4.5zM678.3 263.0h3.1v1.6h-3.1zM682.6 263.0h1.6v1.6h-1.6zM673.9 264.4h1.6v1.6h-1.6zM682.6 264.4h1.6v1.6h-1.6zM687.0 264.4h10.4v1.6h-10.4zM675.3 265.9h3.1v1.6h-3.1zM685.6 265.9h8.9v1.6h-8.9zM697.3 265.9h13.3v1.6h-13.3zM679.7 267.4h1.6v1.6h-1.6zM687.0 267.4h7.5v1.6h-7.5zM698.8 267.4h23.6v1.6h-23.6zM681.2 268.8h22.1v1.6h-22.1zM711.9 268.8h29.4v1.6h-29.4zM694.4 270.3h7.5v1.6h-7.5zM716.3 270.3h6.0v1.6h-6.0zM723.7 270.3h19.2v1.6h-19.2zM695.8 271.8h6.0v1.6h-6.0zM719.3 271.8h1.6v1.6h-1.6zM723.7 271.8h19.2v1.6h-19.2zM506.9 273.2h3.1v1.6h-3.1zM698.8 273.2h3.1v1.6h-3.1zM719.3 273.2h3.1v1.6h-3.1zM723.7 273.2h4.5v1.6h-4.5zM736.8 273.2h4.5v1.6h-4.5zM505.4 274.7h4.5v1.6h-4.5zM720.7 274.7h7.5v1.6h-7.5zM505.4 276.1h6.0v1.6h-6.0zM716.3 276.1h11.9v1.6h-11.9zM505.4 277.6h6.0v1.6h-6.0zM714.9 277.6h3.1v1.6h-3.1zM505.4 279.1h6.0v1.6h-6.0zM713.4 279.1h1.6v1.6h-1.6zM739.8 279.1h1.6v1.6h-1.6zM505.4 280.5h6.0v1.6h-6.0zM713.4 280.5h1.6v1.6h-1.6zM739.8 280.5h7.5v1.6h-7.5zM505.4 282.0h6.0v1.6h-6.0zM714.9 282.0h1.6v1.6h-1.6zM741.2 282.0h11.9v1.6h-11.9zM505.4 283.5h4.5v1.6h-4.5zM714.9 283.5h1.6v1.6h-1.6zM742.7 283.5h10.4v1.6h-10.4zM503.9 284.9h6.0v1.6h-6.0zM716.3 284.9h3.1v1.6h-3.1zM503.9 286.4h6.0v1.6h-6.0zM719.3 286.4h8.9v1.6h-8.9zM757.4 286.4h1.6v1.6h-1.6zM503.9 287.9h6.0v1.6h-6.0zM729.5 287.9h3.1v1.6h-3.1zM757.4 287.9h4.5v1.6h-4.5zM503.9 289.3h6.0v1.6h-6.0zM731.0 289.3h3.1v1.6h-3.1zM755.9 289.3h7.5v1.6h-7.5zM503.9 290.8h7.5v1.6h-7.5zM742.7 290.8h4.5v1.6h-4.5zM754.4 290.8h8.9v1.6h-8.9zM503.9 292.3h7.5v1.6h-7.5zM739.8 292.3h10.4v1.6h-10.4zM754.4 292.3h7.5v1.6h-7.5zM505.4 293.7h6.0v1.6h-6.0zM747.1 293.7h13.3v1.6h-13.3zM505.4 295.2h6.0v1.6h-6.0zM750.0 295.2h10.4v1.6h-10.4zM506.9 296.7h6.0v1.6h-6.0zM753.0 296.7h4.5v1.6h-4.5zM770.5 296.7h1.6v1.6h-1.6zM508.3 298.1h4.5v1.6h-4.5zM755.9 298.1h3.1v1.6h-3.1zM770.5 298.1h1.6v1.6h-1.6zM512.7 299.6h1.6v1.6h-1.6zM755.9 299.6h3.1v1.6h-3.1zM512.7 301.1h1.6v1.6h-1.6zM761.8 301.1h1.6v1.6h-1.6zM764.7 301.1h3.1v1.6h-3.1zM512.7 302.5h3.1v1.6h-3.1zM761.8 302.5h6.0v1.6h-6.0zM512.7 304.0h3.1v1.6h-3.1zM514.2 305.4h1.6v1.6h-1.6zM530.3 306.9h3.1v1.6h-3.1zM530.3 308.4h4.5v1.6h-4.5zM530.3 309.8h6.0v1.6h-6.0zM679.7 309.8h1.6v1.6h-1.6zM530.3 311.3h6.0v1.6h-6.0zM679.7 311.3h1.6v1.6h-1.6zM533.2 312.8h1.6v1.6h-1.6zM688.5 318.6h3.1v1.6h-3.1zM688.5 320.1h4.5v1.6h-4.5zM690.0 321.6h3.1v1.6h-3.1zM703.2 326.0h1.6v1.6h-1.6zM701.7 327.4h4.5v1.6h-4.5zM701.7 328.9h3.1v1.6h-3.1zM700.2 330.3h4.5v1.6h-4.5zM698.8 334.7h1.6v1.6h-1.6zM518.6 336.2h4.5v1.6h-4.5zM698.8 336.2h1.6v1.6h-1.6zM517.1 337.7h6.0v1.6h-6.0zM528.8 337.7h4.5v1.6h-4.5zM518.6 339.1h6.0v1.6h-6.0zM533.2 339.1h1.6v1.6h-1.6zM520.1 340.6h4.5v1.6h-4.5zM703.2 343.5h1.6v1.6h-1.6zM745.6 343.5h4.5v1.6h-4.5zM704.6 345.0h1.6v1.6h-1.6zM711.9 345.0h1.6v1.6h-1.6zM745.6 345.0h6.0v1.6h-6.0zM704.6 346.5h1.6v1.6h-1.6zM711.9 346.5h1.6v1.6h-1.6zM722.2 346.5h3.1v1.6h-3.1zM745.6 346.5h7.5v1.6h-7.5zM706.1 347.9h1.6v1.6h-1.6zM710.5 347.9h3.1v1.6h-3.1zM722.2 347.9h4.5v1.6h-4.5zM733.9 347.9h3.1v1.6h-3.1zM751.5 347.9h1.6v1.6h-1.6zM706.1 349.4h1.6v1.6h-1.6zM709.0 349.4h4.5v1.6h-4.5zM723.7 349.4h4.5v1.6h-4.5zM733.9 349.4h7.5v1.6h-7.5zM745.6 349.4h4.5v1.6h-4.5zM707.6 350.9h4.5v1.6h-4.5zM723.7 350.9h4.5v1.6h-4.5zM733.9 350.9h6.0v1.6h-6.0zM707.6 352.3h4.5v1.6h-4.5zM725.1 352.3h1.6v1.6h-1.6zM728.1 352.3h11.9v1.6h-11.9zM707.6 353.8h4.5v1.6h-4.5zM732.5 353.8h6.0v1.6h-6.0zM707.6 355.2h1.6v1.6h-1.6zM710.5 355.2h1.6v1.6h-1.6zM733.9 355.2h4.5v1.6h-4.5zM709.0 356.7h1.6v1.6h-1.6zM733.9 356.7h4.5v1.6h-4.5zM709.0 358.2h1.6v1.6h-1.6zM735.4 358.2h3.1v1.6h-3.1zM710.5 361.1h1.6v1.6h-1.6z" fill="#000068"/>
<path d="M610.9 183.9h1.6v1.6h-1.6zM610.9 185.3h3.1v1.6h-3.1zM613.8 192.7h3.1v1.6h-3.1zM600.6 198.5h1.6v1.6h-1.6zM606.5 200.0h3.1v1.6h-3.1zM606.5 201.4h4.5v1.6h-4.5zM607.9 202.9h3.1v1.6h-3.1zM607.9 204.4h7.5v1.6h-7.5zM613.8 205.8h4.5v1.6h-4.5zM627.0 205.8h1.6v1.6h-1.6zM615.3 207.3h3.1v1.6h-3.1zM625.5 207.3h3.1v1.6h-3.1zM622.6 208.8h7.5v1.6h-7.5zM622.6 210.2h6.0v1.6h-6.0zM618.2 213.2h3.1v1.6h-3.1zM618.2 214.6h4.5v1.6h-4.5zM618.2 216.1h7.5v1.6h-7.5zM631.4 216.1h3.1v1.6h-3.1zM619.7 217.6h7.5v1.6h-7.5zM621.1 219.0h4.5v1.6h-4.5zM631.4 219.0h3.1v1.6h-3.1zM622.6 220.5h1.6v1.6h-1.6zM629.9 220.5h6.0v1.6h-6.0zM629.9 221.9h7.5v1.6h-7.5zM628.4 223.4h7.5v1.6h-7.5zM629.9 224.9h3.1v1.6h-3.1zM662.1 263.0h1.6v1.6h-1.6zM660.7 264.4h1.6v1.6h-1.6zM684.1 264.4h3.1v1.6h-3.1zM657.7 265.9h1.6v1.6h-1.6zM694.4 265.9h3.1v1.6h-3.1zM678.3 267.4h1.6v1.6h-1.6zM694.4 267.4h4.5v1.6h-4.5zM670.9 268.8h1.6v1.6h-1.6zM679.7 268.8h1.6v1.6h-1.6zM703.2 268.8h8.9v1.6h-8.9zM665.1 270.3h1.6v1.6h-1.6zM669.5 270.3h3.1v1.6h-3.1zM682.6 270.3h3.1v1.6h-3.1zM687.0 270.3h7.5v1.6h-7.5zM701.7 270.3h14.8v1.6h-14.8zM665.1 271.8h1.6v1.6h-1.6zM669.5 271.8h1.6v1.6h-1.6zM684.1 271.8h3.1v1.6h-3.1zM694.4 271.8h1.6v1.6h-1.6zM701.7 271.8h3.1v1.6h-3.1zM710.5 271.8h8.9v1.6h-8.9zM669.5 273.2h1.6v1.6h-1.6zM687.0 273.2h1.6v1.6h-1.6zM695.8 273.2h3.1v1.6h-3.1zM701.7 273.2h3.1v1.6h-3.1zM713.4 273.2h6.0v1.6h-6.0zM697.3 274.7h7.5v1.6h-7.5zM713.4 274.7h7.5v1.6h-7.5zM713.4 276.1h3.1v1.6h-3.1zM711.9 277.6h3.1v1.6h-3.1zM711.9 279.1h1.6v1.6h-1.6zM713.4 282.0h1.6v1.6h-1.6zM509.8 283.5h1.6v1.6h-1.6zM714.9 284.9h1.6v1.6h-1.6zM716.3 286.4h3.1v1.6h-3.1zM719.3 287.9h10.4v1.6h-10.4zM728.1 289.3h3.1v1.6h-3.1zM729.5 290.8h4.5v1.6h-4.5zM732.5 292.3h3.1v1.6h-3.1zM735.4 293.7h11.9v1.6h-11.9zM736.8 295.2h3.1v1.6h-3.1zM741.2 295.2h3.1v1.6h-3.1zM745.6 295.2h4.5v1.6h-4.5zM736.8 296.7h4.5v1.6h-4.5zM750.0 296.7h3.1v1.6h-3.1zM506.9 298.1h1.6v1.6h-1.6zM751.5 298.1h4.5v1.6h-4.5zM506.9 299.6h6.0v1.6h-6.0zM753.0 299.6h3.1v1.6h-3.1zM508.3 301.1h4.5v1.6h-4.5zM754.4 301.1h4.5v1.6h-4.5zM508.3 302.5h4.5v1.6h-4.5zM755.9 302.5h6.0v1.6h-6.0zM509.8 304.0h3.1v1.6h-3.1zM527.4 304.0h6.0v1.6h-6.0zM757.4 304.0h10.4v1.6h-10.4zM511.3 305.4h3.1v1.6h-3.1zM527.4 305.4h7.5v1.6h-7.5zM754.4 305.4h1.6v1.6h-1.6zM761.8 305.4h4.5v1.6h-4.5zM528.8 306.9h1.6v1.6h-1.6zM533.2 306.9h1.6v1.6h-1.6zM753.0 306.9h1.6v1.6h-1.6zM751.5 308.4h3.1v1.6h-3.1zM681.2 309.8h4.5v1.6h-4.5zM681.2 311.3h6.0v1.6h-6.0zM530.3 312.8h3.1v1.6h-3.1zM682.6 312.8h4.5v1.6h-4.5zM530.3 314.2h4.5v1.6h-4.5zM684.1 314.2h3.1v1.6h-3.1zM528.8 315.7h1.6v1.6h-1.6zM690.0 323.0h4.5v1.6h-4.5zM691.4 324.5h1.6v1.6h-1.6zM508.3 326.0h3.1v1.6h-3.1zM701.7 326.0h1.6v1.6h-1.6zM505.4 327.4h8.9v1.6h-8.9zM700.2 327.4h1.6v1.6h-1.6zM508.3 328.9h10.4v1.6h-10.4zM700.2 328.9h1.6v1.6h-1.6zM509.8 330.3h10.4v1.6h-10.4zM695.8 330.3h1.6v1.6h-1.6zM512.7 331.8h7.5v1.6h-7.5zM695.8 331.8h3.1v1.6h-3.1zM514.2 333.3h7.5v1.6h-7.5zM697.3 333.3h3.1v1.6h-3.1zM515.7 334.7h7.5v1.6h-7.5zM697.3 334.7h1.6v1.6h-1.6zM517.1 336.2h1.6v1.6h-1.6zM711.9 336.2h1.6v1.6h-1.6zM709.0 337.7h7.5v1.6h-7.5zM528.8 339.1h4.5v1.6h-4.5zM709.0 339.1h8.9v1.6h-8.9zM528.8 340.6h7.5v1.6h-7.5zM709.0 340.6h8.9v1.6h-8.9zM530.3 342.1h7.5v1.6h-7.5zM709.0 342.1h8.9v1.6h-8.9zM744.2 342.1h3.1v1.6h-3.1zM530.3 343.5h7.5v1.6h-7.5zM707.6 343.5h6.0v1.6h-6.0zM742.7 343.5h3.1v1.6h-3.1zM531.8 345.0h7.5v1.6h-7.5zM707.6 345.0h4.5v1.6h-4.5zM736.8 345.0h8.9v1.6h-8.9zM531.8 346.5h7.5v1.6h-7.5zM707.6 346.5h4.5v1.6h-4.5zM735.4 346.5h10.4v1.6h-10.4zM707.6 347.9h3.1v1.6h-3.1zM736.8 347.9h14.8v1.6h-14.8zM707.6 349.4h1.6v1.6h-1.6zM741.2 349.4h4.5v1.6h-4.5zM709.0 355.2h1.6v1.6h-1.6zM710.5 356.7h1.6v1.6h-1.6zM710.5 358.2h1.6v1.6h-1.6zM709.0 359.6h3.1v1.6h-3.1zM709.0 361.1h1.6v1.6h-1.6zM710.5 362.6h1.6v1.6h-1.6zM549.3 430.0h3.1v1.6h-3.1z" fill="#f00000"/>
<path d="M657.7 264.4h3.1v1.6h-3.1zM668.0 265.9h1.6v1.6h-1.6zM670.9 265.9h1.6v1.6h-1.6zM654.8 267.4h3.1v1.6h-3.1zM669.5 267.4h1.6v1.6h-1.6zM676.8 267.4h1.6v1.6h-1.6zM669.5 268.8h1.6v1.6h-1.6zM681.2 270.3h1.6v1.6h-1.6zM685.6 270.3h1.6v1.6h-1.6zM670.9 271.8h1.6v1.6h-1.6zM679.7 271.8h1.6v1.6h-1.6zM687.0 271.8h1.6v1.6h-1.6zM690.0 271.8h4.5v1.6h-4.5zM704.6 271.8h6.0v1.6h-6.0zM670.9 273.2h3.1v1.6h-3.1zM681.2 273.2h1.6v1.6h-1.6zM685.6 273.2h1.6v1.6h-1.6zM688.5 273.2h1.6v1.6h-1.6zM692.9 273.2h3.1v1.6h-3.1zM704.6 273.2h3.1v1.6h-3.1zM710.5 273.2h3.1v1.6h-3.1zM682.6 274.7h1.6v1.6h-1.6zM688.5 274.7h3.1v1.6h-3.1zM695.8 274.7h1.6v1.6h-1.6zM704.6 274.7h1.6v1.6h-1.6zM710.5 274.7h3.1v1.6h-3.1zM663.6 276.1h1.6v1.6h-1.6zM673.9 276.1h1.6v1.6h-1.6zM684.1 276.1h1.6v1.6h-1.6zM690.0 276.1h4.5v1.6h-4.5zM698.8 276.1h7.5v1.6h-7.5zM710.5 276.1h3.1v1.6h-3.1zM663.6 277.6h1.6v1.6h-1.6zM685.6 277.6h1.6v1.6h-1.6zM691.4 277.6h6.0v1.6h-6.0zM709.0 277.6h3.1v1.6h-3.1zM662.1 279.1h3.1v1.6h-3.1zM675.3 279.1h1.6v1.6h-1.6zM687.0 279.1h1.6v1.6h-1.6zM694.4 279.1h6.0v1.6h-6.0zM710.5 279.1h1.6v1.6h-1.6zM662.1 280.5h1.6v1.6h-1.6zM688.5 280.5h3.1v1.6h-3.1zM697.3 280.5h3.1v1.6h-3.1zM711.9 280.5h1.6v1.6h-1.6zM662.1 282.0h1.6v1.6h-1.6zM711.9 282.0h1.6v1.6h-1.6zM713.4 283.5h1.6v1.6h-1.6zM713.4 284.9h1.6v1.6h-1.6zM714.9 286.4h1.6v1.6h-1.6zM717.8 287.9h1.6v1.6h-1.6zM720.7 289.3h7.5v1.6h-7.5zM726.6 290.8h3.1v1.6h-3.1zM728.1 292.3h4.5v1.6h-4.5zM731.0 293.7h4.5v1.6h-4.5zM732.5 295.2h4.5v1.6h-4.5zM744.2 295.2h1.6v1.6h-1.6zM732.5 296.7h4.5v1.6h-4.5zM741.2 296.7h8.9v1.6h-8.9zM732.5 298.1h11.9v1.6h-11.9zM748.6 298.1h3.1v1.6h-3.1zM733.9 299.6h4.5v1.6h-4.5zM739.8 299.6h3.1v1.6h-3.1zM750.0 299.6h3.1v1.6h-3.1zM735.4 301.1h6.0v1.6h-6.0zM751.5 301.1h3.1v1.6h-3.1zM751.5 302.5h4.5v1.6h-4.5zM751.5 304.0h6.0v1.6h-6.0zM750.0 305.4h4.5v1.6h-4.5zM755.9 305.4h6.0v1.6h-6.0zM748.6 306.9h4.5v1.6h-4.5zM754.4 306.9h11.9v1.6h-11.9zM732.5 308.4h3.1v1.6h-3.1zM748.6 308.4h3.1v1.6h-3.1zM754.4 308.4h4.5v1.6h-4.5zM760.3 308.4h4.5v1.6h-4.5zM732.5 309.8h4.5v1.6h-4.5zM748.6 309.8h7.5v1.6h-7.5zM735.4 311.3h1.6v1.6h-1.6zM750.0 311.3h7.5v1.6h-7.5zM751.5 312.8h3.1v1.6h-3.1z" fill="#f81800"/>
<path d="M662.1 261.5h1.6v1.6h-1.6zM643.1 263.0h3.1v1.6h-3.1zM651.9 263.0h3.1v1.6h-3.1zM660.7 263.0h1.6v1.6h-1.6zM627.0 264.4h14.8v1.6h-14.8zM643.1 264.4h1.6v1.6h-1.6zM656.3 264.4h1.6v1.6h-1.6zM629.9 265.9h1.6v1.6h-1.6zM653.4 265.9h4.5v1.6h-4.5zM666.5 265.9h1.6v1.6h-1.6zM665.1 267.4h1.6v1.6h-1.6zM670.9 267.4h3.1v1.6h-3.1zM675.3 267.4h1.6v1.6h-1.6zM651.9 268.8h3.1v1.6h-3.1zM665.1 268.8h1.6v1.6h-1.6zM672.4 268.8h1.6v1.6h-1.6zM676.8 268.8h1.6v1.6h-1.6zM650.4 270.3h3.1v1.6h-3.1zM663.6 270.3h1.6v1.6h-1.6zM672.4 270.3h3.1v1.6h-3.1zM678.3 270.3h1.6v1.6h-1.6zM578.6 271.8h1.6v1.6h-1.6zM663.6 271.8h1.6v1.6h-1.6zM672.4 271.8h3.1v1.6h-3.1zM682.6 271.8h1.6v1.6h-1.6zM688.5 271.8h1.6v1.6h-1.6zM665.1 273.2h1.6v1.6h-1.6zM675.3 273.2h1.6v1.6h-1.6zM684.1 273.2h1.6v1.6h-1.6zM691.4 273.2h1.6v1.6h-1.6zM707.6 273.2h3.1v1.6h-3.1zM575.7 274.7h3.1v1.6h-3.1zM662.1 274.7h3.1v1.6h-3.1zM669.5 274.7h7.5v1.6h-7.5zM684.1 274.7h1.6v1.6h-1.6zM687.0 274.7h1.6v1.6h-1.6zM691.4 274.7h4.5v1.6h-4.5zM706.1 274.7h4.5v1.6h-4.5zM641.6 276.1h3.1v1.6h-3.1zM662.1 276.1h1.6v1.6h-1.6zM669.5 276.1h4.5v1.6h-4.5zM682.6 276.1h1.6v1.6h-1.6zM685.6 276.1h1.6v1.6h-1.6zM688.5 276.1h1.6v1.6h-1.6zM694.4 276.1h4.5v1.6h-4.5zM706.1 276.1h4.5v1.6h-4.5zM640.2 277.6h1.6v1.6h-1.6zM660.7 277.6h3.1v1.6h-3.1zM672.4 277.6h4.5v1.6h-4.5zM684.1 277.6h1.6v1.6h-1.6zM687.0 277.6h1.6v1.6h-1.6zM690.0 277.6h1.6v1.6h-1.6zM697.3 277.6h11.9v1.6h-11.9zM660.7 279.1h1.6v1.6h-1.6zM673.9 279.1h1.6v1.6h-1.6zM685.6 279.1h1.6v1.6h-1.6zM688.5 279.1h1.6v1.6h-1.6zM692.9 279.1h1.6v1.6h-1.6zM700.2 279.1h1.6v1.6h-1.6zM706.1 279.1h4.5v1.6h-4.5zM660.7 280.5h1.6v1.6h-1.6zM663.6 280.5h1.6v1.6h-1.6zM675.3 280.5h1.6v1.6h-1.6zM687.0 280.5h1.6v1.6h-1.6zM694.4 280.5h3.1v1.6h-3.1zM700.2 280.5h1.6v1.6h-1.6zM709.0 280.5h3.1v1.6h-3.1zM659.2 282.0h3.1v1.6h-3.1zM676.8 282.0h1.6v1.6h-1.6zM688.5 282.0h4.5v1.6h-4.5zM697.3 282.0h7.5v1.6h-7.5zM710.5 282.0h1.6v1.6h-1.6zM659.2 283.5h4.5v1.6h-4.5zM676.8 283.5h3.1v1.6h-3.1zM690.0 283.5h4.5v1.6h-4.5zM700.2 283.5h6.0v1.6h-6.0zM711.9 283.5h1.6v1.6h-1.6zM659.2 284.9h4.5v1.6h-4.5zM678.3 284.9h1.6v1.6h-1.6zM692.9 284.9h1.6v1.6h-1.6zM703.2 284.9h3.1v1.6h-3.1zM659.2 286.4h3.1v1.6h-3.1zM678.3 286.4h3.1v1.6h-3.1zM707.6 286.4h7.5v1.6h-7.5zM660.7 287.9h1.6v1.6h-1.6zM679.7 287.9h3.1v1.6h-3.1zM709.0 287.9h8.9v1.6h-8.9zM679.7 289.3h4.5v1.6h-4.5zM710.5 289.3h10.4v1.6h-10.4zM681.2 290.8h3.1v1.6h-3.1zM713.4 290.8h13.3v1.6h-13.3zM681.2 292.3h3.1v1.6h-3.1zM719.3 292.3h8.9v1.6h-8.9zM682.6 293.7h1.6v1.6h-1.6zM719.3 293.7h11.9v1.6h-11.9zM682.6 295.2h1.6v1.6h-1.6zM720.7 295.2h3.1v1.6h-3.1zM728.1 295.2h4.5v1.6h-4.5zM717.8 296.7h3.1v1.6h-3.1zM729.5 296.7h3.1v1.6h-3.1zM717.8 298.1h4.5v1.6h-4.5zM731.0 298.1h1.6v1.6h-1.6zM744.2 298.1h4.5v1.6h-4.5zM717.8 299.6h6.0v1.6h-6.0zM731.0 299.6h3.1v1.6h-3.1zM742.7 299.6h7.5v1.6h-7.5zM675.3 301.1h1.6v1.6h-1.6zM719.3 301.1h6.0v1.6h-6.0zM732.5 301.1h3.1v1.6h-3.1zM741.2 301.1h3.1v1.6h-3.1zM745.6 301.1h1.6v1.6h-1.6zM748.6 301.1h3.1v1.6h-3.1zM673.9 302.5h3.1v1.6h-3.1zM720.7 302.5h4.5v1.6h-4.5zM733.9 302.5h13.3v1.6h-13.3zM748.6 302.5h3.1v1.6h-3.1zM675.3 304.0h1.6v1.6h-1.6zM723.7 304.0h6.0v1.6h-6.0zM735.4 304.0h10.4v1.6h-10.4zM747.1 304.0h4.5v1.6h-4.5zM726.6 305.4h6.0v1.6h-6.0zM735.4 305.4h4.5v1.6h-4.5zM745.6 305.4h4.5v1.6h-4.5zM726.6 306.9h13.3v1.6h-13.3zM745.6 306.9h3.1v1.6h-3.1zM729.5 308.4h3.1v1.6h-3.1zM735.4 308.4h3.1v1.6h-3.1zM745.6 308.4h3.1v1.6h-3.1zM758.8 308.4h1.6v1.6h-1.6zM731.0 309.8h1.6v1.6h-1.6zM736.8 309.8h3.1v1.6h-3.1zM745.6 309.8h3.1v1.6h-3.1zM757.4 309.8h7.5v1.6h-7.5zM732.5 311.3h3.1v1.6h-3.1zM736.8 311.3h3.1v1.6h-3.1zM744.2 311.3h6.0v1.6h-6.0zM733.9 312.8h8.9v1.6h-8.9zM744.2 312.8h1.6v1.6h-1.6zM741.2 314.2h1.6v1.6h-1.6zM744.2 314.2h1.6v1.6h-1.6zM741.2 315.7h4.5v1.6h-4.5zM742.7 317.2h1.6v1.6h-1.6z" fill="#ff3000"/>
<path d="M653.4 261.5h8.9v1.6h-8.9zM625.5 263.0h6.0v1.6h-6.0zM637.2 263.0h1.6v1.6h-1.6zM641.6 263.0h1.6v1.6h-1.6zM646.0 263.0h6.0v1.6h-6.0zM654.8 263.0h1.6v1.6h-1.6zM625.5 264.4h1.6v1.6h-1.6zM641.6 264.4h1.6v1.6h-1.6zM644.6 264.4h3.1v1.6h-3.1zM670.9 264.4h3.1v1.6h-3.1zM572.8 265.9h7.5v1.6h-7.5zM622.6 265.9h3.1v1.6h-3.1zM627.0 265.9h3.1v1.6h-3.1zM631.4 265.9h4.5v1.6h-4.5zM659.2 265.9h1.6v1.6h-1.6zM665.1 265.9h1.6v1.6h-1.6zM672.4 265.9h1.6v1.6h-1.6zM574.2 267.4h6.0v1.6h-6.0zM650.4 267.4h4.5v1.6h-4.5zM673.9 267.4h1.6v1.6h-1.6zM574.2 268.8h6.0v1.6h-6.0zM663.6 268.8h1.6v1.6h-1.6zM673.9 268.8h3.1v1.6h-3.1zM678.3 268.8h1.6v1.6h-1.6zM574.2 270.3h7.5v1.6h-7.5zM675.3 270.3h3.1v1.6h-3.1zM679.7 270.3h1.6v1.6h-1.6zM568.4 271.8h4.5v1.6h-4.5zM577.2 271.8h1.6v1.6h-1.6zM580.1 271.8h1.6v1.6h-1.6zM649.0 271.8h1.6v1.6h-1.6zM675.3 271.8h1.6v1.6h-1.6zM678.3 271.8h1.6v1.6h-1.6zM681.2 271.8h1.6v1.6h-1.6zM569.9 273.2h1.6v1.6h-1.6zM578.6 273.2h3.1v1.6h-3.1zM647.5 273.2h1.6v1.6h-1.6zM662.1 273.2h3.1v1.6h-3.1zM673.9 273.2h1.6v1.6h-1.6zM676.8 273.2h1.6v1.6h-1.6zM679.7 273.2h1.6v1.6h-1.6zM682.6 273.2h1.6v1.6h-1.6zM690.0 273.2h1.6v1.6h-1.6zM578.6 274.7h1.6v1.6h-1.6zM643.1 274.7h3.1v1.6h-3.1zM676.8 274.7h1.6v1.6h-1.6zM681.2 274.7h1.6v1.6h-1.6zM685.6 274.7h1.6v1.6h-1.6zM574.2 276.1h4.5v1.6h-4.5zM640.2 276.1h1.6v1.6h-1.6zM675.3 276.1h3.1v1.6h-3.1zM687.0 276.1h1.6v1.6h-1.6zM574.2 277.6h3.1v1.6h-3.1zM638.7 277.6h1.6v1.6h-1.6zM659.2 277.6h1.6v1.6h-1.6zM669.5 277.6h3.1v1.6h-3.1zM676.8 277.6h1.6v1.6h-1.6zM688.5 277.6h1.6v1.6h-1.6zM637.2 279.1h1.6v1.6h-1.6zM659.2 279.1h1.6v1.6h-1.6zM670.9 279.1h3.1v1.6h-3.1zM676.8 279.1h1.6v1.6h-1.6zM690.0 279.1h3.1v1.6h-3.1zM701.7 279.1h4.5v1.6h-4.5zM635.8 280.5h1.6v1.6h-1.6zM657.7 280.5h3.1v1.6h-3.1zM673.9 280.5h1.6v1.6h-1.6zM676.8 280.5h1.6v1.6h-1.6zM691.4 280.5h3.1v1.6h-3.1zM701.7 280.5h7.5v1.6h-7.5zM632.8 282.0h1.6v1.6h-1.6zM656.3 282.0h3.1v1.6h-3.1zM663.6 282.0h1.6v1.6h-1.6zM668.0 282.0h1.6v1.6h-1.6zM673.9 282.0h3.1v1.6h-3.1zM678.3 282.0h1.6v1.6h-1.6zM687.0 282.0h1.6v1.6h-1.6zM692.9 282.0h4.5v1.6h-4.5zM704.6 282.0h6.0v1.6h-6.0zM656.3 283.5h1.6v1.6h-1.6zM663.6 283.5h1.6v1.6h-1.6zM668.0 283.5h1.6v1.6h-1.6zM673.9 283.5h3.1v1.6h-3.1zM688.5 283.5h1.6v1.6h-1.6zM694.4 283.5h1.6v1.6h-1.6zM698.8 283.5h1.6v1.6h-1.6zM706.1 283.5h6.0v1.6h-6.0zM656.3 284.9h3.1v1.6h-3.1zM668.0 284.9h1.6v1.6h-1.6zM675.3 284.9h3.1v1.6h-3.1zM679.7 284.9h1.6v1.6h-1.6zM691.4 284.9h1.6v1.6h-1.6zM694.4 284.9h3.1v1.6h-3.1zM700.2 284.9h3.1v1.6h-3.1zM706.1 284.9h7.5v1.6h-7.5zM657.7 286.4h1.6v1.6h-1.6zM662.1 286.4h1.6v1.6h-1.6zM668.0 286.4h1.6v1.6h-1.6zM675.3 286.4h3.1v1.6h-3.1zM681.2 286.4h3.1v1.6h-3.1zM692.9 286.4h6.0v1.6h-6.0zM701.7 286.4h6.0v1.6h-6.0zM668.0 287.9h1.6v1.6h-1.6zM676.8 287.9h3.1v1.6h-3.1zM682.6 287.9h1.6v1.6h-1.6zM694.4 287.9h4.5v1.6h-4.5zM703.2 287.9h6.0v1.6h-6.0zM668.0 289.3h1.6v1.6h-1.6zM676.8 289.3h3.1v1.6h-3.1zM684.1 289.3h1.6v1.6h-1.6zM704.6 289.3h6.0v1.6h-6.0zM668.0 290.8h1.6v1.6h-1.6zM676.8 290.8h3.1v1.6h-3.1zM684.1 290.8h1.6v1.6h-1.6zM707.6 290.8h6.0v1.6h-6.0zM668.0 292.3h1.6v1.6h-1.6zM678.3 292.3h1.6v1.6h-1.6zM684.1 292.3h1.6v1.6h-1.6zM709.0 292.3h10.4v1.6h-10.4zM668.0 293.7h1.6v1.6h-1.6zM676.8 293.7h4.5v1.6h-4.5zM684.1 293.7h1.6v1.6h-1.6zM710.5 293.7h8.9v1.6h-8.9zM668.0 295.2h1.6v1.6h-1.6zM673.9 295.2h1.6v1.6h-1.6zM678.3 295.2h3.1v1.6h-3.1zM684.1 295.2h1.6v1.6h-1.6zM711.9 295.2h8.9v1.6h-8.9zM723.7 295.2h4.5v1.6h-4.5zM673.9 296.7h3.1v1.6h-3.1zM678.3 296.7h8.9v1.6h-8.9zM713.4 296.7h4.5v1.6h-4.5zM720.7 296.7h8.9v1.6h-8.9zM672.4 298.1h4.5v1.6h-4.5zM678.3 298.1h10.4v1.6h-10.4zM716.3 298.1h1.6v1.6h-1.6zM722.2 298.1h3.1v1.6h-3.1zM728.1 298.1h3.1v1.6h-3.1zM672.4 299.6h16.3v1.6h-16.3zM716.3 299.6h1.6v1.6h-1.6zM723.7 299.6h1.6v1.6h-1.6zM728.1 299.6h3.1v1.6h-3.1zM672.4 301.1h3.1v1.6h-3.1zM676.8 301.1h13.3v1.6h-13.3zM717.8 301.1h1.6v1.6h-1.6zM725.1 301.1h7.5v1.6h-7.5zM744.2 301.1h1.6v1.6h-1.6zM747.1 301.1h1.6v1.6h-1.6zM676.8 302.5h13.3v1.6h-13.3zM719.3 302.5h1.6v1.6h-1.6zM725.1 302.5h8.9v1.6h-8.9zM747.1 302.5h1.6v1.6h-1.6zM676.8 304.0h1.6v1.6h-1.6zM679.7 304.0h11.9v1.6h-11.9zM720.7 304.0h3.1v1.6h-3.1zM729.5 304.0h6.0v1.6h-6.0zM745.6 304.0h1.6v1.6h-1.6zM676.8 305.4h1.6v1.6h-1.6zM681.2 305.4h4.5v1.6h-4.5zM687.0 305.4h4.5v1.6h-4.5zM723.7 305.4h3.1v1.6h-3.1zM732.5 305.4h3.1v1.6h-3.1zM739.8 305.4h6.0v1.6h-6.0zM676.8 306.9h1.6v1.6h-1.6zM682.6 306.9h3.1v1.6h-3.1zM687.0 306.9h4.5v1.6h-4.5zM697.3 306.9h1.6v1.6h-1.6zM725.1 306.9h1.6v1.6h-1.6zM739.8 306.9h6.0v1.6h-6.0zM682.6 308.4h3.1v1.6h-3.1zM687.0 308.4h4.5v1.6h-4.5zM726.6 308.4h3.1v1.6h-3.1zM739.8 308.4h6.0v1.6h-6.0zM685.6 309.8h1.6v1.6h-1.6zM688.5 309.8h3.1v1.6h-3.1zM728.1 309.8h3.1v1.6h-3.1zM741.2 309.8h4.5v1.6h-4.5zM688.5 311.3h3.1v1.6h-3.1zM731.0 311.3h1.6v1.6h-1.6zM739.8 311.3h4.5v1.6h-4.5zM690.0 312.8h1.6v1.6h-1.6zM732.5 312.8h1.6v1.6h-1.6zM742.7 312.8h1.6v1.6h-1.6zM690.0 314.2h1.6v1.6h-1.6zM736.8 314.2h4.5v1.6h-4.5zM738.3 315.7h3.1v1.6h-3.1zM739.8 317.2h3.1v1.6h-3.1zM741.2 318.6h1.6v1.6h-1.6zM742.7 321.6h3.1v1.6h-3.1zM695.8 327.4h1.6v1.6h-1.6zM697.3 328.9h1.6v1.6h-1.6zM700.2 336.2h1.6v1.6h-1.6zM700.2 337.7h1.6v1.6h-1.6zM701.7 339.1h1.6v1.6h-1.6zM701.7 340.6h1.6v1.6h-1.6zM703.2 342.1h1.6v1.6h-1.6z" fill="#ff4800"/>
<path d="M631.4 263.0h6.0v1.6h-6.0zM638.7 263.0h3.1v1.6h-3.1zM656.3 263.0h1.6v1.6h-1.6zM615.3 264.4h10.4v1.6h-10.4zM647.5 264.4h1.6v1.6h-1.6zM654.8 264.4h1.6v1.6h-1.6zM569.9 265.9h3.1v1.6h-3.1zM580.1 265.9h1.6v1.6h-1.6zM619.7 265.9h3.1v1.6h-3.1zM625.5 265.9h1.6v1.6h-1.6zM635.8 265.9h3.1v1.6h-3.1zM651.9 265.9h1.6v1.6h-1.6zM673.9 265.9h1.6v1.6h-1.6zM571.3 267.4h3.1v1.6h-3.1zM580.1 267.4h1.6v1.6h-1.6zM647.5 267.4h3.1v1.6h-3.1zM666.5 267.4h3.1v1.6h-3.1zM569.9 268.8h4.5v1.6h-4.5zM580.1 268.8h3.1v1.6h-3.1zM644.6 268.8h4.5v1.6h-4.5zM566.9 270.3h7.5v1.6h-7.5zM581.6 270.3h1.6v1.6h-1.6zM643.1 270.3h1.6v1.6h-1.6zM649.0 270.3h1.6v1.6h-1.6zM581.6 271.8h1.6v1.6h-1.6zM647.5 271.8h1.6v1.6h-1.6zM662.1 271.8h1.6v1.6h-1.6zM668.0 271.8h1.6v1.6h-1.6zM676.8 271.8h1.6v1.6h-1.6zM581.6 273.2h3.1v1.6h-3.1zM644.6 273.2h3.1v1.6h-3.1zM668.0 273.2h1.6v1.6h-1.6zM678.3 273.2h1.6v1.6h-1.6zM580.1 274.7h3.1v1.6h-3.1zM641.6 274.7h1.6v1.6h-1.6zM660.7 274.7h1.6v1.6h-1.6zM665.1 274.7h1.6v1.6h-1.6zM678.3 274.7h3.1v1.6h-3.1zM578.6 276.1h3.1v1.6h-3.1zM660.7 276.1h1.6v1.6h-1.6zM665.1 276.1h1.6v1.6h-1.6zM668.0 276.1h1.6v1.6h-1.6zM678.3 276.1h4.5v1.6h-4.5zM577.2 277.6h3.1v1.6h-3.1zM637.2 277.6h1.6v1.6h-1.6zM665.1 277.6h1.6v1.6h-1.6zM668.0 277.6h1.6v1.6h-1.6zM678.3 277.6h1.6v1.6h-1.6zM681.2 277.6h3.1v1.6h-3.1zM575.7 279.1h4.5v1.6h-4.5zM635.8 279.1h1.6v1.6h-1.6zM665.1 279.1h1.6v1.6h-1.6zM668.0 279.1h3.1v1.6h-3.1zM678.3 279.1h1.6v1.6h-1.6zM682.6 279.1h3.1v1.6h-3.1zM577.2 280.5h3.1v1.6h-3.1zM634.3 280.5h1.6v1.6h-1.6zM665.1 280.5h1.6v1.6h-1.6zM668.0 280.5h1.6v1.6h-1.6zM670.9 280.5h3.1v1.6h-3.1zM678.3 280.5h1.6v1.6h-1.6zM684.1 280.5h3.1v1.6h-3.1zM578.6 282.0h3.1v1.6h-3.1zM583.0 282.0h1.6v1.6h-1.6zM631.4 282.0h1.6v1.6h-1.6zM665.1 282.0h3.1v1.6h-3.1zM672.4 282.0h1.6v1.6h-1.6zM679.7 282.0h1.6v1.6h-1.6zM685.6 282.0h1.6v1.6h-1.6zM578.6 283.5h6.0v1.6h-6.0zM629.9 283.5h3.1v1.6h-3.1zM657.7 283.5h1.6v1.6h-1.6zM665.1 283.5h3.1v1.6h-3.1zM679.7 283.5h3.1v1.6h-3.1zM687.0 283.5h1.6v1.6h-1.6zM695.8 283.5h3.1v1.6h-3.1zM581.6 284.9h1.6v1.6h-1.6zM628.4 284.9h1.6v1.6h-1.6zM663.6 284.9h4.5v1.6h-4.5zM673.9 284.9h1.6v1.6h-1.6zM681.2 284.9h1.6v1.6h-1.6zM687.0 284.9h4.5v1.6h-4.5zM697.3 284.9h3.1v1.6h-3.1zM627.0 286.4h1.6v1.6h-1.6zM666.5 286.4h1.6v1.6h-1.6zM688.5 286.4h4.5v1.6h-4.5zM698.8 286.4h3.1v1.6h-3.1zM566.9 287.9h1.6v1.6h-1.6zM624.1 287.9h1.6v1.6h-1.6zM662.1 287.9h1.6v1.6h-1.6zM666.5 287.9h1.6v1.6h-1.6zM675.3 287.9h1.6v1.6h-1.6zM684.1 287.9h1.6v1.6h-1.6zM690.0 287.9h4.5v1.6h-4.5zM698.8 287.9h4.5v1.6h-4.5zM565.5 289.3h1.6v1.6h-1.6zM666.5 289.3h1.6v1.6h-1.6zM672.4 289.3h4.5v1.6h-4.5zM685.6 289.3h1.6v1.6h-1.6zM694.4 289.3h10.4v1.6h-10.4zM666.5 290.8h1.6v1.6h-1.6zM673.9 290.8h3.1v1.6h-3.1zM685.6 290.8h1.6v1.6h-1.6zM697.3 290.8h10.4v1.6h-10.4zM666.5 292.3h1.6v1.6h-1.6zM669.5 292.3h1.6v1.6h-1.6zM673.9 292.3h1.6v1.6h-1.6zM676.8 292.3h1.6v1.6h-1.6zM685.6 292.3h1.6v1.6h-1.6zM692.9 292.3h3.1v1.6h-3.1zM700.2 292.3h8.9v1.6h-8.9zM666.5 293.7h1.6v1.6h-1.6zM669.5 293.7h7.5v1.6h-7.5zM685.6 293.7h3.1v1.6h-3.1zM694.4 293.7h3.1v1.6h-3.1zM707.6 293.7h3.1v1.6h-3.1zM669.5 295.2h4.5v1.6h-4.5zM675.3 295.2h3.1v1.6h-3.1zM685.6 295.2h3.1v1.6h-3.1zM695.8 295.2h1.6v1.6h-1.6zM710.5 295.2h1.6v1.6h-1.6zM670.9 296.7h3.1v1.6h-3.1zM676.8 296.7h1.6v1.6h-1.6zM687.0 296.7h1.6v1.6h-1.6zM697.3 296.7h1.6v1.6h-1.6zM711.9 296.7h1.6v1.6h-1.6zM670.9 298.1h1.6v1.6h-1.6zM676.8 298.1h1.6v1.6h-1.6zM697.3 298.1h3.1v1.6h-3.1zM713.4 298.1h3.1v1.6h-3.1zM725.1 298.1h3.1v1.6h-3.1zM688.5 299.6h1.6v1.6h-1.6zM698.8 299.6h3.1v1.6h-3.1zM725.1 299.6h3.1v1.6h-3.1zM698.8 301.1h4.5v1.6h-4.5zM690.0 302.5h1.6v1.6h-1.6zM700.2 302.5h3.1v1.6h-3.1zM717.8 302.5h1.6v1.6h-1.6zM678.3 304.0h1.6v1.6h-1.6zM691.4 304.0h1.6v1.6h-1.6zM695.8 304.0h1.6v1.6h-1.6zM719.3 304.0h1.6v1.6h-1.6zM678.3 305.4h3.1v1.6h-3.1zM685.6 305.4h1.6v1.6h-1.6zM691.4 305.4h1.6v1.6h-1.6zM695.8 305.4h3.1v1.6h-3.1zM720.7 305.4h3.1v1.6h-3.1zM678.3 306.9h4.5v1.6h-4.5zM685.6 306.9h1.6v1.6h-1.6zM691.4 306.9h1.6v1.6h-1.6zM695.8 306.9h1.6v1.6h-1.6zM698.8 306.9h1.6v1.6h-1.6zM723.7 306.9h1.6v1.6h-1.6zM678.3 308.4h1.6v1.6h-1.6zM681.2 308.4h1.6v1.6h-1.6zM685.6 308.4h1.6v1.6h-1.6zM691.4 308.4h1.6v1.6h-1.6zM697.3 308.4h4.5v1.6h-4.5zM725.1 308.4h1.6v1.6h-1.6zM687.0 309.8h1.6v1.6h-1.6zM691.4 309.8h3.1v1.6h-3.1zM697.3 309.8h4.5v1.6h-4.5zM726.6 309.8h1.6v1.6h-1.6zM687.0 311.3h1.6v1.6h-1.6zM691.4 311.3h3.1v1.6h-3.1zM698.8 311.3h4.5v1.6h-4.5zM728.1 311.3h3.1v1.6h-3.1zM687.0 312.8h3.1v1.6h-3.1zM691.4 312.8h3.1v1.6h-3.1zM698.8 312.8h4.5v1.6h-4.5zM729.5 312.8h3.1v1.6h-3.1zM687.0 314.2h1.6v1.6h-1.6zM691.4 314.2h3.1v1.6h-3.1zM701.7 314.2h3.1v1.6h-3.1zM731.0 314.2h6.0v1.6h-6.0zM691.4 315.7h3.1v1.6h-3.1zM701.7 315.7h3.1v1.6h-3.1zM735.4 315.7h3.1v1.6h-3.1zM691.4 317.2h3.1v1.6h-3.1zM703.2 317.2h3.1v1.6h-3.1zM736.8 317.2h3.1v1.6h-3.1zM692.9 318.6h1.6v1.6h-1.6zM703.2 318.6h4.5v1.6h-4.5zM738.3 318.6h3.1v1.6h-3.1zM692.9 320.1h3.1v1.6h-3.1zM703.2 320.1h4.5v1.6h-4.5zM732.5 320.1h1.6v1.6h-1.6zM739.8 320.1h3.1v1.6h-3.1zM694.4 321.6h1.6v1.6h-1.6zM704.6 321.6h3.1v1.6h-3.1zM728.1 321.6h6.0v1.6h-6.0zM741.2 321.6h1.6v1.6h-1.6zM694.4 323.0h3.1v1.6h-3.1zM726.6 323.0h6.0v1.6h-6.0zM742.7 323.0h4.5v1.6h-4.5zM694.4 324.5h3.1v1.6h-3.1zM729.5 324.5h1.6v1.6h-1.6zM744.2 324.5h1.6v1.6h-1.6zM695.8 326.0h3.1v1.6h-3.1zM697.3 327.4h1.6v1.6h-1.6zM698.8 328.9h1.6v1.6h-1.6zM732.5 328.9h1.6v1.6h-1.6zM697.3 330.3h3.1v1.6h-3.1zM698.8 331.8h1.6v1.6h-1.6zM711.9 331.8h1.6v1.6h-1.6zM700.2 333.3h1.6v1.6h-1.6zM713.4 333.3h1.6v1.6h-1.6zM725.1 333.3h1.6v1.6h-1.6zM700.2 334.7h1.6v1.6h-1.6zM725.1 334.7h3.1v1.6h-3.1zM701.7 336.2h1.6v1.6h-1.6zM701.7 337.7h1.6v1.6h-1.6zM703.2 339.1h1.6v1.6h-1.6zM703.2 340.6h1.6v1.6h-1.6zM704.6 342.1h1.6v1.6h-1.6zM704.6 343.5h1.6v1.6h-1.6zM706.1 345.0h1.6v1.6h-1.6zM706.1 346.5h1.6v1.6h-1.6z" fill="#ff6000"/>
<path d="M657.7 263.0h3.1v1.6h-3.1zM599.2 264.4h16.3v1.6h-16.3zM649.0 264.4h6.0v1.6h-6.0zM583.0 265.9h4.5v1.6h-4.5zM603.5 265.9h16.3v1.6h-16.3zM638.7 265.9h3.1v1.6h-3.1zM643.1 265.9h4.5v1.6h-4.5zM650.4 265.9h1.6v1.6h-1.6zM568.4 267.4h3.1v1.6h-3.1zM581.6 267.4h6.0v1.6h-6.0zM607.9 267.4h7.5v1.6h-7.5zM624.1 267.4h3.1v1.6h-3.1zM628.4 267.4h1.6v1.6h-1.6zM644.6 267.4h3.1v1.6h-3.1zM565.5 268.8h4.5v1.6h-4.5zM583.0 268.8h4.5v1.6h-4.5zM643.1 268.8h1.6v1.6h-1.6zM649.0 268.8h3.1v1.6h-3.1zM668.0 268.8h1.6v1.6h-1.6zM583.0 270.3h3.1v1.6h-3.1zM641.6 270.3h1.6v1.6h-1.6zM644.6 270.3h1.6v1.6h-1.6zM668.0 270.3h1.6v1.6h-1.6zM583.0 271.8h4.5v1.6h-4.5zM584.5 273.2h3.1v1.6h-3.1zM643.1 273.2h1.6v1.6h-1.6zM583.0 274.7h4.5v1.6h-4.5zM640.2 274.7h1.6v1.6h-1.6zM668.0 274.7h1.6v1.6h-1.6zM581.6 276.1h6.0v1.6h-6.0zM638.7 276.1h1.6v1.6h-1.6zM580.1 277.6h3.1v1.6h-3.1zM584.5 277.6h1.6v1.6h-1.6zM635.8 277.6h1.6v1.6h-1.6zM679.7 277.6h1.6v1.6h-1.6zM580.1 279.1h3.1v1.6h-3.1zM634.3 279.1h1.6v1.6h-1.6zM679.7 279.1h3.1v1.6h-3.1zM574.2 280.5h3.1v1.6h-3.1zM580.1 280.5h6.0v1.6h-6.0zM632.8 280.5h1.6v1.6h-1.6zM669.5 280.5h1.6v1.6h-1.6zM679.7 280.5h1.6v1.6h-1.6zM682.6 280.5h1.6v1.6h-1.6zM572.8 282.0h1.6v1.6h-1.6zM575.7 282.0h3.1v1.6h-3.1zM581.6 282.0h1.6v1.6h-1.6zM584.5 282.0h3.1v1.6h-3.1zM629.9 282.0h1.6v1.6h-1.6zM669.5 282.0h3.1v1.6h-3.1zM681.2 282.0h1.6v1.6h-1.6zM684.1 282.0h1.6v1.6h-1.6zM577.2 283.5h1.6v1.6h-1.6zM584.5 283.5h3.1v1.6h-3.1zM628.4 283.5h1.6v1.6h-1.6zM669.5 283.5h4.5v1.6h-4.5zM685.6 283.5h1.6v1.6h-1.6zM564.0 284.9h1.6v1.6h-1.6zM574.2 284.9h1.6v1.6h-1.6zM577.2 284.9h4.5v1.6h-4.5zM583.0 284.9h3.1v1.6h-3.1zM627.0 284.9h1.6v1.6h-1.6zM672.4 284.9h1.6v1.6h-1.6zM682.6 284.9h4.5v1.6h-4.5zM564.0 286.4h1.6v1.6h-1.6zM580.1 286.4h4.5v1.6h-4.5zM625.5 286.4h1.6v1.6h-1.6zM663.6 286.4h3.1v1.6h-3.1zM669.5 286.4h1.6v1.6h-1.6zM672.4 286.4h3.1v1.6h-3.1zM684.1 286.4h1.6v1.6h-1.6zM687.0 286.4h1.6v1.6h-1.6zM564.0 287.9h3.1v1.6h-3.1zM568.4 287.9h1.6v1.6h-1.6zM622.6 287.9h1.6v1.6h-1.6zM663.6 287.9h3.1v1.6h-3.1zM669.5 287.9h6.0v1.6h-6.0zM685.6 287.9h1.6v1.6h-1.6zM688.5 287.9h1.6v1.6h-1.6zM566.9 289.3h3.1v1.6h-3.1zM621.1 289.3h1.6v1.6h-1.6zM663.6 289.3h3.1v1.6h-3.1zM669.5 289.3h3.1v1.6h-3.1zM687.0 289.3h1.6v1.6h-1.6zM690.0 289.3h4.5v1.6h-4.5zM565.5 290.8h4.5v1.6h-4.5zM665.1 290.8h1.6v1.6h-1.6zM669.5 290.8h4.5v1.6h-4.5zM687.0 290.8h1.6v1.6h-1.6zM690.0 290.8h7.5v1.6h-7.5zM665.1 292.3h1.6v1.6h-1.6zM670.9 292.3h3.1v1.6h-3.1zM675.3 292.3h1.6v1.6h-1.6zM687.0 292.3h6.0v1.6h-6.0zM695.8 292.3h4.5v1.6h-4.5zM688.5 293.7h6.0v1.6h-6.0zM697.3 293.7h10.4v1.6h-10.4zM688.5 295.2h4.5v1.6h-4.5zM694.4 295.2h1.6v1.6h-1.6zM697.3 295.2h13.3v1.6h-13.3zM669.5 296.7h1.6v1.6h-1.6zM688.5 296.7h8.9v1.6h-8.9zM698.8 296.7h8.9v1.6h-8.9zM710.5 296.7h1.6v1.6h-1.6zM688.5 298.1h8.9v1.6h-8.9zM700.2 298.1h6.0v1.6h-6.0zM711.9 298.1h1.6v1.6h-1.6zM690.0 299.6h8.9v1.6h-8.9zM701.7 299.6h4.5v1.6h-4.5zM714.9 299.6h1.6v1.6h-1.6zM690.0 301.1h8.9v1.6h-8.9zM703.2 301.1h3.1v1.6h-3.1zM716.3 301.1h1.6v1.6h-1.6zM691.4 302.5h8.9v1.6h-8.9zM703.2 302.5h4.5v1.6h-4.5zM692.9 304.0h3.1v1.6h-3.1zM697.3 304.0h10.4v1.6h-10.4zM692.9 305.4h3.1v1.6h-3.1zM698.8 305.4h8.9v1.6h-8.9zM692.9 306.9h3.1v1.6h-3.1zM700.2 306.9h6.0v1.6h-6.0zM679.7 308.4h1.6v1.6h-1.6zM692.9 308.4h4.5v1.6h-4.5zM701.7 308.4h4.5v1.6h-4.5zM694.4 309.8h3.1v1.6h-3.1zM701.7 309.8h3.1v1.6h-3.1zM694.4 311.3h4.5v1.6h-4.5zM703.2 311.3h1.6v1.6h-1.6zM726.6 311.3h1.6v1.6h-1.6zM694.4 312.8h4.5v1.6h-4.5zM703.2 312.8h3.1v1.6h-3.1zM728.1 312.8h1.6v1.6h-1.6zM694.4 314.2h7.5v1.6h-7.5zM704.6 314.2h3.1v1.6h-3.1zM729.5 314.2h1.6v1.6h-1.6zM694.4 315.7h3.1v1.6h-3.1zM698.8 315.7h3.1v1.6h-3.1zM704.6 315.7h3.1v1.6h-3.1zM731.0 315.7h4.5v1.6h-4.5zM694.4 317.2h1.6v1.6h-1.6zM697.3 317.2h6.0v1.6h-6.0zM706.1 317.2h3.1v1.6h-3.1zM723.7 317.2h1.6v1.6h-1.6zM726.6 317.2h10.4v1.6h-10.4zM694.4 318.6h3.1v1.6h-3.1zM700.2 318.6h3.1v1.6h-3.1zM707.6 318.6h1.6v1.6h-1.6zM723.7 318.6h1.6v1.6h-1.6zM726.6 318.6h8.9v1.6h-8.9zM695.8 320.1h1.6v1.6h-1.6zM700.2 320.1h3.1v1.6h-3.1zM707.6 320.1h1.6v1.6h-1.6zM723.7 320.1h8.9v1.6h-8.9zM733.9 320.1h1.6v1.6h-1.6zM695.8 321.6h3.1v1.6h-3.1zM701.7 321.6h3.1v1.6h-3.1zM707.6 321.6h1.6v1.6h-1.6zM723.7 321.6h4.5v1.6h-4.5zM733.9 321.6h1.6v1.6h-1.6zM697.3 323.0h3.1v1.6h-3.1zM703.2 323.0h7.5v1.6h-7.5zM714.9 323.0h3.1v1.6h-3.1zM725.1 323.0h1.6v1.6h-1.6zM732.5 323.0h1.6v1.6h-1.6zM697.3 324.5h3.1v1.6h-3.1zM704.6 324.5h4.5v1.6h-4.5zM714.9 324.5h4.5v1.6h-4.5zM725.1 324.5h3.1v1.6h-3.1zM731.0 324.5h1.6v1.6h-1.6zM745.6 324.5h3.1v1.6h-3.1zM698.8 326.0h1.6v1.6h-1.6zM709.0 326.0h3.1v1.6h-3.1zM713.4 326.0h7.5v1.6h-7.5zM726.6 326.0h1.6v1.6h-1.6zM731.0 326.0h1.6v1.6h-1.6zM747.1 326.0h1.6v1.6h-1.6zM698.8 327.4h1.6v1.6h-1.6zM707.6 327.4h3.1v1.6h-3.1zM711.9 327.4h1.6v1.6h-1.6zM717.8 327.4h1.6v1.6h-1.6zM720.7 327.4h1.6v1.6h-1.6zM726.6 327.4h6.0v1.6h-6.0zM748.6 327.4h1.6v1.6h-1.6zM709.0 328.9h4.5v1.6h-4.5zM720.7 328.9h3.1v1.6h-3.1zM726.6 328.9h1.6v1.6h-1.6zM729.5 328.9h3.1v1.6h-3.1zM707.6 330.3h7.5v1.6h-7.5zM722.2 330.3h1.6v1.6h-1.6zM753.0 330.3h1.6v1.6h-1.6zM700.2 331.8h1.6v1.6h-1.6zM709.0 331.8h3.1v1.6h-3.1zM713.4 331.8h1.6v1.6h-1.6zM723.7 331.8h6.0v1.6h-6.0zM754.4 331.8h1.6v1.6h-1.6zM726.6 333.3h4.5v1.6h-4.5zM701.7 334.7h1.6v1.6h-1.6zM728.1 334.7h4.5v1.6h-4.5zM703.2 336.2h1.6v1.6h-1.6zM713.4 336.2h1.6v1.6h-1.6zM728.1 336.2h6.0v1.6h-6.0zM703.2 337.7h3.1v1.6h-3.1zM729.5 337.7h1.6v1.6h-1.6zM704.6 339.1h1.6v1.6h-1.6zM704.6 340.6h3.1v1.6h-3.1zM706.1 342.1h1.6v1.6h-1.6zM706.1 343.5h1.6v1.6h-1.6z" fill="#ff7400"/>
<path d="M597.7 264.4h1.6v1.6h-1.6zM587.4 265.9h16.3v1.6h-16.3zM641.6 265.9h1.6v1.6h-1.6zM647.5 265.9h3.1v1.6h-3.1zM562.5 267.4h6.0v1.6h-6.0zM587.4 267.4h3.1v1.6h-3.1zM599.2 267.4h8.9v1.6h-8.9zM615.3 267.4h8.9v1.6h-8.9zM627.0 267.4h1.6v1.6h-1.6zM629.9 267.4h6.0v1.6h-6.0zM643.1 267.4h1.6v1.6h-1.6zM587.4 268.8h1.6v1.6h-1.6zM602.1 268.8h13.3v1.6h-13.3zM629.9 268.8h4.5v1.6h-4.5zM666.5 268.8h1.6v1.6h-1.6zM586.0 270.3h3.1v1.6h-3.1zM629.9 270.3h3.1v1.6h-3.1zM640.2 270.3h1.6v1.6h-1.6zM647.5 270.3h1.6v1.6h-1.6zM587.4 271.8h3.1v1.6h-3.1zM605.0 271.8h4.5v1.6h-4.5zM610.9 271.8h1.6v1.6h-1.6zM637.2 271.8h6.0v1.6h-6.0zM646.0 271.8h1.6v1.6h-1.6zM587.4 273.2h3.1v1.6h-3.1zM600.6 273.2h14.8v1.6h-14.8zM634.3 273.2h3.1v1.6h-3.1zM641.6 273.2h1.6v1.6h-1.6zM587.4 274.7h3.1v1.6h-3.1zM600.6 274.7h14.8v1.6h-14.8zM629.9 274.7h3.1v1.6h-3.1zM587.4 276.1h1.6v1.6h-1.6zM602.1 276.1h10.4v1.6h-10.4zM637.2 276.1h1.6v1.6h-1.6zM583.0 277.6h1.6v1.6h-1.6zM586.0 277.6h4.5v1.6h-4.5zM607.9 277.6h3.1v1.6h-3.1zM583.0 279.1h8.9v1.6h-8.9zM632.8 279.1h1.6v1.6h-1.6zM666.5 279.1h1.6v1.6h-1.6zM586.0 280.5h6.0v1.6h-6.0zM631.4 280.5h1.6v1.6h-1.6zM666.5 280.5h1.6v1.6h-1.6zM681.2 280.5h1.6v1.6h-1.6zM574.2 282.0h1.6v1.6h-1.6zM587.4 282.0h3.1v1.6h-3.1zM682.6 282.0h1.6v1.6h-1.6zM574.2 283.5h3.1v1.6h-3.1zM587.4 283.5h1.6v1.6h-1.6zM682.6 283.5h3.1v1.6h-3.1zM575.7 284.9h1.6v1.6h-1.6zM586.0 284.9h3.1v1.6h-3.1zM625.5 284.9h1.6v1.6h-1.6zM669.5 284.9h3.1v1.6h-3.1zM575.7 286.4h4.5v1.6h-4.5zM584.5 286.4h1.6v1.6h-1.6zM624.1 286.4h1.6v1.6h-1.6zM670.9 286.4h1.6v1.6h-1.6zM685.6 286.4h1.6v1.6h-1.6zM574.2 287.9h4.5v1.6h-4.5zM580.1 287.9h4.5v1.6h-4.5zM621.1 287.9h1.6v1.6h-1.6zM687.0 287.9h1.6v1.6h-1.6zM580.1 289.3h4.5v1.6h-4.5zM619.7 289.3h1.6v1.6h-1.6zM688.5 289.3h1.6v1.6h-1.6zM577.2 290.8h1.6v1.6h-1.6zM619.7 290.8h1.6v1.6h-1.6zM688.5 290.8h1.6v1.6h-1.6zM566.9 292.3h1.6v1.6h-1.6zM692.9 295.2h1.6v1.6h-1.6zM707.6 296.7h3.1v1.6h-3.1zM706.1 298.1h3.1v1.6h-3.1zM710.5 298.1h1.6v1.6h-1.6zM706.1 299.6h3.1v1.6h-3.1zM713.4 299.6h1.6v1.6h-1.6zM706.1 301.1h4.5v1.6h-4.5zM714.9 301.1h1.6v1.6h-1.6zM594.8 302.5h1.6v1.6h-1.6zM597.7 302.5h1.6v1.6h-1.6zM707.6 302.5h4.5v1.6h-4.5zM716.3 302.5h1.6v1.6h-1.6zM707.6 304.0h4.5v1.6h-4.5zM717.8 304.0h1.6v1.6h-1.6zM707.6 305.4h4.5v1.6h-4.5zM719.3 305.4h1.6v1.6h-1.6zM706.1 306.9h3.1v1.6h-3.1zM710.5 306.9h3.1v1.6h-3.1zM720.7 306.9h3.1v1.6h-3.1zM706.1 308.4h1.6v1.6h-1.6zM722.2 308.4h3.1v1.6h-3.1zM704.6 309.8h4.5v1.6h-4.5zM713.4 309.8h4.5v1.6h-4.5zM723.7 309.8h3.1v1.6h-3.1zM704.6 311.3h4.5v1.6h-4.5zM714.9 311.3h4.5v1.6h-4.5zM723.7 311.3h3.1v1.6h-3.1zM706.1 312.8h4.5v1.6h-4.5zM714.9 312.8h13.3v1.6h-13.3zM574.2 314.2h1.6v1.6h-1.6zM707.6 314.2h4.5v1.6h-4.5zM716.3 314.2h11.9v1.6h-11.9zM569.9 315.7h7.5v1.6h-7.5zM697.3 315.7h1.6v1.6h-1.6zM707.6 315.7h4.5v1.6h-4.5zM717.8 315.7h11.9v1.6h-11.9zM568.4 317.2h1.6v1.6h-1.6zM572.8 317.2h4.5v1.6h-4.5zM695.8 317.2h1.6v1.6h-1.6zM709.0 317.2h4.5v1.6h-4.5zM720.7 317.2h3.1v1.6h-3.1zM566.9 318.6h3.1v1.6h-3.1zM571.3 318.6h6.0v1.6h-6.0zM697.3 318.6h3.1v1.6h-3.1zM709.0 318.6h6.0v1.6h-6.0zM720.7 318.6h3.1v1.6h-3.1zM566.9 320.1h6.0v1.6h-6.0zM697.3 320.1h3.1v1.6h-3.1zM709.0 320.1h7.5v1.6h-7.5zM720.7 320.1h3.1v1.6h-3.1zM569.9 321.6h3.1v1.6h-3.1zM698.8 321.6h3.1v1.6h-3.1zM709.0 321.6h10.4v1.6h-10.4zM722.2 321.6h1.6v1.6h-1.6zM700.2 323.0h3.1v1.6h-3.1zM710.5 323.0h4.5v1.6h-4.5zM717.8 323.0h3.1v1.6h-3.1zM723.7 323.0h1.6v1.6h-1.6zM700.2 324.5h4.5v1.6h-4.5zM709.0 324.5h6.0v1.6h-6.0zM719.3 324.5h3.1v1.6h-3.1zM723.7 324.5h1.6v1.6h-1.6zM700.2 326.0h1.6v1.6h-1.6zM704.6 326.0h4.5v1.6h-4.5zM711.9 326.0h1.6v1.6h-1.6zM720.7 326.0h1.6v1.6h-1.6zM725.1 326.0h1.6v1.6h-1.6zM706.1 327.4h1.6v1.6h-1.6zM722.2 327.4h1.6v1.6h-1.6zM725.1 327.4h1.6v1.6h-1.6zM704.6 328.9h4.5v1.6h-4.5zM723.7 328.9h3.1v1.6h-3.1zM704.6 330.3h3.1v1.6h-3.1zM723.7 330.3h4.5v1.6h-4.5zM701.7 331.8h3.1v1.6h-3.1zM707.6 331.8h1.6v1.6h-1.6zM701.7 333.3h3.1v1.6h-3.1zM706.1 333.3h4.5v1.6h-4.5zM703.2 334.7h3.1v1.6h-3.1zM707.6 334.7h1.6v1.6h-1.6zM704.6 336.2h6.0v1.6h-6.0zM706.1 337.7h3.1v1.6h-3.1zM731.0 337.7h1.6v1.6h-1.6zM706.1 339.1h3.1v1.6h-3.1zM707.6 340.6h1.6v1.6h-1.6zM707.6 342.1h1.6v1.6h-1.6zM713.4 343.5h3.1v1.6h-3.1zM713.4 345.0h3.1v1.6h-3.1zM711.9 355.2h1.6v1.6h-1.6z" fill="#ff8808"/>
<path d="M590.4 267.4h8.9v1.6h-8.9zM635.8 267.4h7.5v1.6h-7.5zM588.9 268.8h13.3v1.6h-13.3zM615.3 268.8h14.8v1.6h-14.8zM634.3 268.8h3.1v1.6h-3.1zM641.6 268.8h1.6v1.6h-1.6zM588.9 270.3h6.0v1.6h-6.0zM599.2 270.3h17.7v1.6h-17.7zM621.1 270.3h8.9v1.6h-8.9zM632.8 270.3h1.6v1.6h-1.6zM638.7 270.3h1.6v1.6h-1.6zM646.0 270.3h1.6v1.6h-1.6zM666.5 270.3h1.6v1.6h-1.6zM590.4 271.8h3.1v1.6h-3.1zM599.2 271.8h6.0v1.6h-6.0zM609.4 271.8h1.6v1.6h-1.6zM612.3 271.8h4.5v1.6h-4.5zM621.1 271.8h11.9v1.6h-11.9zM635.8 271.8h1.6v1.6h-1.6zM643.1 271.8h3.1v1.6h-3.1zM590.4 273.2h4.5v1.6h-4.5zM597.7 273.2h3.1v1.6h-3.1zM615.3 273.2h19.2v1.6h-19.2zM637.2 273.2h4.5v1.6h-4.5zM590.4 274.7h10.4v1.6h-10.4zM615.3 274.7h3.1v1.6h-3.1zM625.5 274.7h4.5v1.6h-4.5zM632.8 274.7h4.5v1.6h-4.5zM638.7 274.7h1.6v1.6h-1.6zM666.5 274.7h1.6v1.6h-1.6zM588.9 276.1h13.3v1.6h-13.3zM612.3 276.1h4.5v1.6h-4.5zM625.5 276.1h6.0v1.6h-6.0zM635.8 276.1h1.6v1.6h-1.6zM666.5 276.1h1.6v1.6h-1.6zM590.4 277.6h17.7v1.6h-17.7zM610.9 277.6h3.1v1.6h-3.1zM622.6 277.6h1.6v1.6h-1.6zM634.3 277.6h1.6v1.6h-1.6zM666.5 277.6h1.6v1.6h-1.6zM591.8 279.1h13.3v1.6h-13.3zM607.9 279.1h4.5v1.6h-4.5zM591.8 280.5h3.1v1.6h-3.1zM599.2 280.5h4.5v1.6h-4.5zM609.4 280.5h3.1v1.6h-3.1zM629.9 280.5h1.6v1.6h-1.6zM590.4 282.0h3.1v1.6h-3.1zM628.4 282.0h1.6v1.6h-1.6zM588.9 283.5h3.1v1.6h-3.1zM627.0 283.5h1.6v1.6h-1.6zM588.9 284.9h1.6v1.6h-1.6zM624.1 284.9h1.6v1.6h-1.6zM586.0 286.4h1.6v1.6h-1.6zM621.1 286.4h3.1v1.6h-3.1zM578.6 287.9h1.6v1.6h-1.6zM584.5 287.9h3.1v1.6h-3.1zM619.7 287.9h1.6v1.6h-1.6zM574.2 289.3h6.0v1.6h-6.0zM584.5 289.3h1.6v1.6h-1.6zM618.2 289.3h1.6v1.6h-1.6zM574.2 290.8h3.1v1.6h-3.1zM578.6 290.8h7.5v1.6h-7.5zM618.2 290.8h1.6v1.6h-1.6zM572.8 292.3h8.9v1.6h-8.9zM572.8 293.7h6.0v1.6h-6.0zM569.9 295.2h6.0v1.6h-6.0zM571.3 296.7h3.1v1.6h-3.1zM709.0 298.1h1.6v1.6h-1.6zM599.2 299.6h3.1v1.6h-3.1zM709.0 299.6h4.5v1.6h-4.5zM593.3 301.1h1.6v1.6h-1.6zM596.2 301.1h6.0v1.6h-6.0zM710.5 301.1h4.5v1.6h-4.5zM591.8 302.5h3.1v1.6h-3.1zM596.2 302.5h1.6v1.6h-1.6zM599.2 302.5h1.6v1.6h-1.6zM711.9 302.5h4.5v1.6h-4.5zM591.8 304.0h8.9v1.6h-8.9zM711.9 304.0h6.0v1.6h-6.0zM591.8 305.4h4.5v1.6h-4.5zM711.9 305.4h7.5v1.6h-7.5zM572.8 306.9h1.6v1.6h-1.6zM586.0 306.9h1.6v1.6h-1.6zM588.9 306.9h3.1v1.6h-3.1zM593.3 306.9h1.6v1.6h-1.6zM709.0 306.9h1.6v1.6h-1.6zM713.4 306.9h4.5v1.6h-4.5zM719.3 306.9h1.6v1.6h-1.6zM572.8 308.4h1.6v1.6h-1.6zM580.1 308.4h3.1v1.6h-3.1zM584.5 308.4h1.6v1.6h-1.6zM587.4 308.4h1.6v1.6h-1.6zM707.6 308.4h11.9v1.6h-11.9zM720.7 308.4h1.6v1.6h-1.6zM574.2 309.8h1.6v1.6h-1.6zM577.2 309.8h7.5v1.6h-7.5zM709.0 309.8h4.5v1.6h-4.5zM717.8 309.8h6.0v1.6h-6.0zM574.2 311.3h10.4v1.6h-10.4zM709.0 311.3h6.0v1.6h-6.0zM719.3 311.3h4.5v1.6h-4.5zM568.4 312.8h14.8v1.6h-14.8zM710.5 312.8h4.5v1.6h-4.5zM568.4 314.2h6.0v1.6h-6.0zM575.7 314.2h7.5v1.6h-7.5zM711.9 314.2h4.5v1.6h-4.5zM566.9 315.7h3.1v1.6h-3.1zM577.2 315.7h4.5v1.6h-4.5zM711.9 315.7h6.0v1.6h-6.0zM566.9 317.2h1.6v1.6h-1.6zM577.2 317.2h3.1v1.6h-3.1zM713.4 317.2h7.5v1.6h-7.5zM565.5 318.6h1.6v1.6h-1.6zM714.9 318.6h6.0v1.6h-6.0zM716.3 320.1h4.5v1.6h-4.5zM719.3 321.6h3.1v1.6h-3.1zM720.7 323.0h3.1v1.6h-3.1zM722.2 324.5h1.6v1.6h-1.6zM722.2 326.0h3.1v1.6h-3.1zM723.7 327.4h1.6v1.6h-1.6zM704.6 331.8h3.1v1.6h-3.1zM704.6 333.3h1.6v1.6h-1.6zM706.1 334.7h1.6v1.6h-1.6z" fill="#ff9c10"/>
<path d="M637.2 268.8h4.5v1.6h-4.5zM594.8 270.3h4.5v1.6h-4.5zM616.7 270.3h4.5v1.6h-4.5zM634.3 270.3h4.5v1.6h-4.5zM593.3 271.8h6.0v1.6h-6.0zM616.7 271.8h4.5v1.6h-4.5zM632.8 271.8h3.1v1.6h-3.1zM666.5 271.8h1.6v1.6h-1.6zM594.8 273.2h3.1v1.6h-3.1zM666.5 273.2h1.6v1.6h-1.6zM618.2 274.7h7.5v1.6h-7.5zM637.2 274.7h1.6v1.6h-1.6zM616.7 276.1h8.9v1.6h-8.9zM631.4 276.1h4.5v1.6h-4.5zM613.8 277.6h8.9v1.6h-8.9zM624.1 277.6h6.0v1.6h-6.0zM632.8 277.6h1.6v1.6h-1.6zM605.0 279.1h3.1v1.6h-3.1zM612.3 279.1h10.4v1.6h-10.4zM629.9 279.1h3.1v1.6h-3.1zM594.8 280.5h4.5v1.6h-4.5zM603.5 280.5h6.0v1.6h-6.0zM612.3 280.5h4.5v1.6h-4.5zM593.3 282.0h3.1v1.6h-3.1zM597.7 282.0h17.7v1.6h-17.7zM591.8 283.5h1.6v1.6h-1.6zM602.1 283.5h4.5v1.6h-4.5zM625.5 283.5h1.6v1.6h-1.6zM590.4 284.9h3.1v1.6h-3.1zM587.4 286.4h4.5v1.6h-4.5zM587.4 287.9h1.6v1.6h-1.6zM586.0 289.3h6.0v1.6h-6.0zM586.0 290.8h4.5v1.6h-4.5zM616.7 290.8h1.6v1.6h-1.6zM581.6 292.3h4.5v1.6h-4.5zM616.7 292.3h1.6v1.6h-1.6zM578.6 293.7h3.1v1.6h-3.1zM615.3 293.7h1.6v1.6h-1.6zM575.7 295.2h3.1v1.6h-3.1zM569.9 296.7h1.6v1.6h-1.6zM574.2 296.7h3.1v1.6h-3.1zM610.9 296.7h1.6v1.6h-1.6zM568.4 298.1h7.5v1.6h-7.5zM599.2 298.1h4.5v1.6h-4.5zM569.9 299.6h1.6v1.6h-1.6zM591.8 299.6h7.5v1.6h-7.5zM602.1 299.6h1.6v1.6h-1.6zM562.5 301.1h1.6v1.6h-1.6zM590.4 301.1h3.1v1.6h-3.1zM594.8 301.1h1.6v1.6h-1.6zM602.1 301.1h3.1v1.6h-3.1zM559.6 302.5h3.1v1.6h-3.1zM588.9 302.5h3.1v1.6h-3.1zM600.6 302.5h1.6v1.6h-1.6zM559.6 304.0h1.6v1.6h-1.6zM575.7 304.0h1.6v1.6h-1.6zM586.0 304.0h6.0v1.6h-6.0zM572.8 305.4h6.0v1.6h-6.0zM583.0 305.4h8.9v1.6h-8.9zM596.2 305.4h1.6v1.6h-1.6zM569.9 306.9h3.1v1.6h-3.1zM574.2 306.9h11.9v1.6h-11.9zM587.4 306.9h1.6v1.6h-1.6zM591.8 306.9h1.6v1.6h-1.6zM594.8 306.9h1.6v1.6h-1.6zM717.8 306.9h1.6v1.6h-1.6zM566.9 308.4h6.0v1.6h-6.0zM574.2 308.4h6.0v1.6h-6.0zM583.0 308.4h1.6v1.6h-1.6zM586.0 308.4h1.6v1.6h-1.6zM588.9 308.4h4.5v1.6h-4.5zM719.3 308.4h1.6v1.6h-1.6zM566.9 309.8h7.5v1.6h-7.5zM575.7 309.8h1.6v1.6h-1.6zM584.5 309.8h6.0v1.6h-6.0zM568.4 311.3h6.0v1.6h-6.0zM584.5 311.3h4.5v1.6h-4.5zM566.9 312.8h1.6v1.6h-1.6zM583.0 312.8h3.1v1.6h-3.1zM566.9 314.2h1.6v1.6h-1.6zM583.0 314.2h1.6v1.6h-1.6zM565.5 315.7h1.6v1.6h-1.6zM565.5 317.2h1.6v1.6h-1.6zM564.0 318.6h1.6v1.6h-1.6z" fill="#ffb420"/>
<path d="M629.9 277.6h3.1v1.6h-3.1zM622.6 279.1h3.1v1.6h-3.1zM628.4 279.1h1.6v1.6h-1.6zM616.7 280.5h4.5v1.6h-4.5zM627.0 280.5h3.1v1.6h-3.1zM615.3 282.0h1.6v1.6h-1.6zM627.0 282.0h1.6v1.6h-1.6zM593.3 283.5h8.9v1.6h-8.9zM606.5 283.5h7.5v1.6h-7.5zM593.3 284.9h13.3v1.6h-13.3zM622.6 284.9h1.6v1.6h-1.6zM591.8 286.4h6.0v1.6h-6.0zM619.7 286.4h1.6v1.6h-1.6zM588.9 287.9h4.5v1.6h-4.5zM618.2 287.9h1.6v1.6h-1.6zM591.8 289.3h1.6v1.6h-1.6zM616.7 289.3h1.6v1.6h-1.6zM590.4 290.8h1.6v1.6h-1.6zM615.3 290.8h1.6v1.6h-1.6zM586.0 292.3h4.5v1.6h-4.5zM613.8 292.3h3.1v1.6h-3.1zM581.6 293.7h1.6v1.6h-1.6zM610.9 293.7h4.5v1.6h-4.5zM578.6 295.2h4.5v1.6h-4.5zM609.4 295.2h4.5v1.6h-4.5zM577.2 296.7h1.6v1.6h-1.6zM599.2 296.7h6.0v1.6h-6.0zM609.4 296.7h1.6v1.6h-1.6zM588.9 298.1h4.5v1.6h-4.5zM594.8 298.1h4.5v1.6h-4.5zM603.5 298.1h3.1v1.6h-3.1zM566.9 299.6h3.1v1.6h-3.1zM571.3 299.6h4.5v1.6h-4.5zM587.4 299.6h4.5v1.6h-4.5zM603.5 299.6h3.1v1.6h-3.1zM564.0 301.1h11.9v1.6h-11.9zM586.0 301.1h4.5v1.6h-4.5zM562.5 302.5h3.1v1.6h-3.1zM571.3 302.5h6.0v1.6h-6.0zM583.0 302.5h6.0v1.6h-6.0zM561.1 304.0h4.5v1.6h-4.5zM571.3 304.0h4.5v1.6h-4.5zM577.2 304.0h8.9v1.6h-8.9zM561.1 305.4h1.6v1.6h-1.6zM569.9 305.4h3.1v1.6h-3.1zM578.6 305.4h4.5v1.6h-4.5zM568.4 306.9h1.6v1.6h-1.6zM565.5 308.4h1.6v1.6h-1.6zM558.1 312.8h3.1v1.6h-3.1z" fill="#ffc030"/>
<path d="M625.5 279.1h3.1v1.6h-3.1zM621.1 280.5h6.0v1.6h-6.0zM616.7 282.0h1.6v1.6h-1.6zM625.5 282.0h1.6v1.6h-1.6zM613.8 283.5h3.1v1.6h-3.1zM624.1 283.5h1.6v1.6h-1.6zM606.5 284.9h1.6v1.6h-1.6zM609.4 284.9h1.6v1.6h-1.6zM621.1 284.9h1.6v1.6h-1.6zM597.7 286.4h7.5v1.6h-7.5zM618.2 286.4h1.6v1.6h-1.6zM593.3 287.9h4.5v1.6h-4.5zM615.3 287.9h3.1v1.6h-3.1zM593.3 289.3h1.6v1.6h-1.6zM612.3 289.3h4.5v1.6h-4.5zM591.8 290.8h1.6v1.6h-1.6zM610.9 290.8h4.5v1.6h-4.5zM590.4 292.3h1.6v1.6h-1.6zM603.5 292.3h1.6v1.6h-1.6zM607.9 292.3h6.0v1.6h-6.0zM583.0 293.7h8.9v1.6h-8.9zM602.1 293.7h8.9v1.6h-8.9zM590.4 295.2h1.6v1.6h-1.6zM600.6 295.2h8.9v1.6h-8.9zM578.6 296.7h4.5v1.6h-4.5zM588.9 296.7h4.5v1.6h-4.5zM596.2 296.7h3.1v1.6h-3.1zM605.0 296.7h4.5v1.6h-4.5zM575.7 298.1h4.5v1.6h-4.5zM587.4 298.1h1.6v1.6h-1.6zM593.3 298.1h1.6v1.6h-1.6zM606.5 298.1h3.1v1.6h-3.1zM575.7 299.6h3.1v1.6h-3.1zM580.1 299.6h3.1v1.6h-3.1zM584.5 299.6h3.1v1.6h-3.1zM575.7 301.1h10.4v1.6h-10.4zM565.5 302.5h6.0v1.6h-6.0zM577.2 302.5h6.0v1.6h-6.0zM565.5 304.0h1.6v1.6h-1.6zM569.9 304.0h1.6v1.6h-1.6z" fill="#ffd840"/>
<path d="M618.2 282.0h7.5v1.6h-7.5zM616.7 283.5h7.5v1.6h-7.5zM607.9 284.9h1.6v1.6h-1.6zM610.9 284.9h10.4v1.6h-10.4zM605.0 286.4h6.0v1.6h-6.0zM612.3 286.4h6.0v1.6h-6.0zM597.7 287.9h7.5v1.6h-7.5zM610.9 287.9h4.5v1.6h-4.5zM594.8 289.3h3.1v1.6h-3.1zM600.6 289.3h4.5v1.6h-4.5zM606.5 289.3h1.6v1.6h-1.6zM609.4 289.3h3.1v1.6h-3.1zM593.3 290.8h1.6v1.6h-1.6zM602.1 290.8h8.9v1.6h-8.9zM591.8 292.3h3.1v1.6h-3.1zM600.6 292.3h3.1v1.6h-3.1zM605.0 292.3h3.1v1.6h-3.1zM591.8 293.7h1.6v1.6h-1.6zM597.7 293.7h4.5v1.6h-4.5zM583.0 295.2h7.5v1.6h-7.5zM591.8 295.2h1.6v1.6h-1.6zM597.7 295.2h3.1v1.6h-3.1zM583.0 296.7h6.0v1.6h-6.0zM593.3 296.7h1.6v1.6h-1.6zM580.1 298.1h7.5v1.6h-7.5zM578.6 299.6h1.6v1.6h-1.6zM583.0 299.6h1.6v1.6h-1.6z" fill="#fff850"/>
<path d="M610.9 286.4h1.6v1.6h-1.6zM605.0 287.9h6.0v1.6h-6.0zM597.7 289.3h3.1v1.6h-3.1zM605.0 289.3h1.6v1.6h-1.6zM607.9 289.3h1.6v1.6h-1.6zM594.8 290.8h7.5v1.6h-7.5zM594.8 292.3h6.0v1.6h-6.0zM593.3 293.7h4.5v1.6h-4.5zM593.3 295.2h1.6v1.6h-1.6z" fill="#ffff60"/></g><circle cx="668.0" cy="261.5" r="5.1" fill="#fff"/><path d="M649.6 253.7L575.2 221.5L574.8 222.5z" fill="#ff3800" stroke="#ff3800" stroke-width="0.9"/><path d="M660.6 258.4L647.7 252.9" stroke="#ff3800" stroke-width="1.2" stroke-dasharray="1.5 1.5"/><path d="M661.2 271.4L635.0 309.2" stroke="#ff8808" stroke-width="1.1" stroke-dasharray="3 1.2 1.5 1"/><path d="M633.8 310.8L630.4 315.8" stroke="#f00000" stroke-width="1.8"/>
<g fill="none" stroke="#000" stroke-width="1.15" stroke-linejoin="round" stroke-linecap="round">
<polyline points="480.5,179.2 490.2,179.2 492.3,177.8 493.7,174.3 495.8,173.2 503.4,177.1 508.9,181.3 518.0,178.8 527.7,174.6 537.4,168.8 548.2,162.1 548.7,154.9 551.2,154.2 550.9,150.1 554.0,147.3 552.6,144.5 549.1,143.9 545.9,141.8 549.1,139.7 550.5,135.5 552.6,134.4 574.5,133.0 575.0,145.9 582.8,145.5 583.8,138.3 582.8,135.5 586.5,134.4 589.3,131.7 590.7,134.2 595.0,136.2 597.7,136.2 606.9,139.0 612.4,137.1 620.0,139.0 623.7,140.8 627.4,142.6 632.9,140.8 636.6,139.9 640.2,140.8 643.9,138.0 647.6,137.1 652.2,135.3 654.9,133.4 659.5,135.3 661.4,131.6 665.1,129.8 662.3,128.9 668.7,126.1 672.4,125.2 675.2,123.3 677.9,127.0 681.6,124.3 683.4,117.8 687.1,116.5 691.7,116.9 693.6,119.7 697.2,120.0 698.2,122.4 700.9,123.3 701.8,130.7 703.7,133.4 702.4,136.2 696.3,137.1 699.1,144.5 705.5,142.6 704.6,139.9 707.9,139.0 711.4,144.5 715.1,142.6 713.8,137.1 715.6,140.8 726.7,136.2 723.9,129.8 713.8,132.5 709.2,128.9 714.7,126.1 709.2,109.5 720.2,104.9 728.5,123.3 734.9,121.5 739.5,127.9 730.3,132.5 728.1,127.9 734.0,124.3 734.9,117.8 737.7,115.1 741.4,119.7 746.0,116.0 743.6,112.7 740.5,115.1 733.1,103.1 739.5,97.6 752.4,107.7 758.9,101.3 756.1,98.5 752.4,101.3 741.4,89.3 745.1,82.0 751.5,79.2 759.8,81.0 772.6,84.7 773.0,76.4 769.0,75.5"/>
<polyline points="520.1,75.5 515.9,80.1 512.7,84.7 513.5,95.7 515.9,98.5 519.5,105.9 522.7,110.1 528.7,111.4 533.3,108.6 535.2,109.2 540.7,107.3 543.4,104.9 544.0,99.4 549.0,97.2 550.8,91.1 555.0,89.3 554.5,81.0 553.6,75.5"/>
<polyline points="507.6,85.6 508.9,84.3" stroke-width="1.8399999999999999"/>
<polyline points="668.9,113.2 669.7,115.6"/>
</g>
<rect x="58.5" y="74.0" width="375.0" height="375.0" fill="none" stroke="#000" stroke-width="2"/>
<path d="M58.50 74.0v-14.2M58.50 449.0v14.2M58.5 74.00h-14.2M433.5 74.00h14.2M152.25 74.0v-14.2M152.25 449.0v14.2M58.5 167.75h-14.2M433.5 167.75h14.2M246.00 74.0v-14.2M246.00 449.0v14.2M58.5 261.50h-14.2M433.5 261.50h14.2M339.75 74.0v-14.2M339.75 449.0v14.2M58.5 355.25h-14.2M433.5 355.25h14.2M433.50 74.0v-14.2M433.50 449.0v14.2M58.5 449.00h-14.2M433.5 449.00h14.2" stroke="#000" stroke-width="2" fill="none"/>
<path d="M70.22 74.0v-7.0M70.22 449.0v7.0M58.5 85.72h-7.0M433.5 85.72h7.0M81.94 74.0v-7.0M81.94 449.0v7.0M58.5 97.44h-7.0M433.5 97.44h7.0M93.66 74.0v-7.0M93.66 449.0v7.0M58.5 109.16h-7.0M433.5 109.16h7.0M105.38 74.0v-7.0M105.38 449.0v7.0M58.5 120.88h-7.0M433.5 120.88h7.0M117.09 74.0v-7.0M117.09 449.0v7.0M58.5 132.59h-7.0M433.5 132.59h7.0M128.81 74.0v-7.0M128.81 449.0v7.0M58.5 144.31h-7.0M433.5 144.31h7.0M140.53 74.0v-7.0M140.53 449.0v7.0M58.5 156.03h-7.0M433.5 156.03h7.0M163.97 74.0v-7.0M163.97 449.0v7.0M58.5 179.47h-7.0M433.5 179.47h7.0M175.69 74.0v-7.0M175.69 449.0v7.0M58.5 191.19h-7.0M433.5 191.19h7.0M187.41 74.0v-7.0M187.41 449.0v7.0M58.5 202.91h-7.0M433.5 202.91h7.0M199.12 74.0v-7.0M199.12 449.0v7.0M58.5 214.62h-7.0M433.5 214.62h7.0M210.84 74.0v-7.0M210.84 449.0v7.0M58.5 226.34h-7.0M433.5 226.34h7.0M222.56 74.0v-7.0M222.56 449.0v7.0M58.5 238.06h-7.0M433.5 238.06h7.0M234.28 74.0v-7.0M234.28 449.0v7.0M58.5 249.78h-7.0M433.5 249.78h7.0M257.72 74.0v-7.0M257.72 449.0v7.0M58.5 273.22h-7.0M433.5 273.22h7.0M269.44 74.0v-7.0M269.44 449.0v7.0M58.5 284.94h-7.0M433.5 284.94h7.0M281.16 74.0v-7.0M281.16 449.0v7.0M58.5 296.66h-7.0M433.5 296.66h7.0M292.88 74.0v-7.0M292.88 449.0v7.0M58.5 308.38h-7.0M433.5 308.38h7.0M304.59 74.0v-7.0M304.59 449.0v7.0M58.5 320.09h-7.0M433.5 320.09h7.0M316.31 74.0v-7.0M316.31 449.0v7.0M58.5 331.81h-7.0M433.5 331.81h7.0M328.03 74.0v-7.0M328.03 449.0v7.0M58.5 343.53h-7.0M433.5 343.53h7.0M351.47 74.0v-7.0M351.47 449.0v7.0M58.5 366.97h-7.0M433.5 366.97h7.0M363.19 74.0v-7.0M363.19 449.0v7.0M58.5 378.69h-7.0M433.5 378.69h7.0M374.91 74.0v-7.0M374.91 449.0v7.0M58.5 390.41h-7.0M433.5 390.41h7.0M386.62 74.0v-7.0M386.62 449.0v7.0M58.5 402.12h-7.0M433.5 402.12h7.0M398.34 74.0v-7.0M398.34 449.0v7.0M58.5 413.84h-7.0M433.5 413.84h7.0M410.06 74.0v-7.0M410.06 449.0v7.0M58.5 425.56h-7.0M433.5 425.56h7.0M421.78 74.0v-7.0M421.78 449.0v7.0M58.5 437.28h-7.0M433.5 437.28h7.0" stroke="#000" stroke-width="1.35" fill="none"/>
<rect x="480.5" y="74.0" width="375.0" height="375.0" fill="none" stroke="#000" stroke-width="2"/>
<path d="M480.50 74.0v-14.2M480.50 449.0v14.2M480.5 74.00h-14.2M855.5 74.00h14.2M574.25 74.0v-14.2M574.25 449.0v14.2M480.5 167.75h-14.2M855.5 167.75h14.2M668.00 74.0v-14.2M668.00 449.0v14.2M480.5 261.50h-14.2M855.5 261.50h14.2M761.75 74.0v-14.2M761.75 449.0v14.2M480.5 355.25h-14.2M855.5 355.25h14.2M855.50 74.0v-14.2M855.50 449.0v14.2M480.5 449.00h-14.2M855.5 449.00h14.2" stroke="#000" stroke-width="2" fill="none"/>
<path d="M492.22 74.0v-7.0M492.22 449.0v7.0M480.5 85.72h-7.0M855.5 85.72h7.0M503.94 74.0v-7.0M503.94 449.0v7.0M480.5 97.44h-7.0M855.5 97.44h7.0M515.66 74.0v-7.0M515.66 449.0v7.0M480.5 109.16h-7.0M855.5 109.16h7.0M527.38 74.0v-7.0M527.38 449.0v7.0M480.5 120.88h-7.0M855.5 120.88h7.0M539.09 74.0v-7.0M539.09 449.0v7.0M480.5 132.59h-7.0M855.5 132.59h7.0M550.81 74.0v-7.0M550.81 449.0v7.0M480.5 144.31h-7.0M855.5 144.31h7.0M562.53 74.0v-7.0M562.53 449.0v7.0M480.5 156.03h-7.0M855.5 156.03h7.0M585.97 74.0v-7.0M585.97 449.0v7.0M480.5 179.47h-7.0M855.5 179.47h7.0M597.69 74.0v-7.0M597.69 449.0v7.0M480.5 191.19h-7.0M855.5 191.19h7.0M609.41 74.0v-7.0M609.41 449.0v7.0M480.5 202.91h-7.0M855.5 202.91h7.0M621.12 74.0v-7.0M621.12 449.0v7.0M480.5 214.62h-7.0M855.5 214.62h7.0M632.84 74.0v-7.0M632.84 449.0v7.0M480.5 226.34h-7.0M855.5 226.34h7.0M644.56 74.0v-7.0M644.56 449.0v7.0M480.5 238.06h-7.0M855.5 238.06h7.0M656.28 74.0v-7.0M656.28 449.0v7.0M480.5 249.78h-7.0M855.5 249.78h7.0M679.72 74.0v-7.0M679.72 449.0v7.0M480.5 273.22h-7.0M855.5 273.22h7.0M691.44 74.0v-7.0M691.44 449.0v7.0M480.5 284.94h-7.0M855.5 284.94h7.0M703.16 74.0v-7.0M703.16 449.0v7.0M480.5 296.66h-7.0M855.5 296.66h7.0M714.88 74.0v-7.0M714.88 449.0v7.0M480.5 308.38h-7.0M855.5 308.38h7.0M726.59 74.0v-7.0M726.59 449.0v7.0M480.5 320.09h-7.0M855.5 320.09h7.0M738.31 74.0v-7.0M738.31 449.0v7.0M480.5 331.81h-7.0M855.5 331.81h7.0M750.03 74.0v-7.0M750.03 449.0v7.0M480.5 343.53h-7.0M855.5 343.53h7.0M773.47 74.0v-7.0M773.47 449.0v7.0M480.5 366.97h-7.0M855.5 366.97h7.0M785.19 74.0v-7.0M785.19 449.0v7.0M480.5 378.69h-7.0M855.5 378.69h7.0M796.91 74.0v-7.0M796.91 449.0v7.0M480.5 390.41h-7.0M855.5 390.41h7.0M808.62 74.0v-7.0M808.62 449.0v7.0M480.5 402.12h-7.0M855.5 402.12h7.0M820.34 74.0v-7.0M820.34 449.0v7.0M480.5 413.84h-7.0M855.5 413.84h7.0M832.06 74.0v-7.0M832.06 449.0v7.0M480.5 425.56h-7.0M855.5 425.56h7.0M843.78 74.0v-7.0M843.78 449.0v7.0M480.5 437.28h-7.0M855.5 437.28h7.0" stroke="#000" stroke-width="1.35" fill="none"/>
<text x="58.5" y="499.3" font-size="28" text-anchor="middle" >−8</text>
<text x="152.2" y="499.3" font-size="28" text-anchor="middle" >−4</text>
<text x="246.0" y="499.3" font-size="28" text-anchor="middle" >0</text>
<text x="339.8" y="499.3" font-size="28" text-anchor="middle" >4</text>
<text x="433.5" y="499.3" font-size="28" text-anchor="middle" >8</text>
<text x="480.5" y="499.3" font-size="28" text-anchor="middle" >−8</text>
<text x="574.2" y="499.3" font-size="28" text-anchor="middle" >−4</text>
<text x="668.0" y="499.3" font-size="28" text-anchor="middle" >0</text>
<text x="761.8" y="499.3" font-size="28" text-anchor="middle" >4</text>
<text x="855.5" y="499.3" font-size="28" text-anchor="middle" >8</text>
<text x="30.6" y="84.0" font-size="28" text-anchor="end" >8</text>
<text x="30.6" y="177.8" font-size="28" text-anchor="end" >4</text>
<text x="30.6" y="271.5" font-size="28" text-anchor="end" >0</text>
<text x="30.6" y="365.2" font-size="28" text-anchor="end" >−4</text>
<text x="30.6" y="459.0" font-size="28" text-anchor="end" >−8</text>
<rect x="58.50" y="509" width="9.12" height="10.5" fill="#000000"/>
<rect x="67.62" y="509" width="9.12" height="10.5" fill="#000000"/>
<rect x="76.74" y="509" width="9.12" height="10.5" fill="#000000"/>
<rect x="85.86" y="509" width="9.12" height="10.5" fill="#000000"/>
<rect x="94.98" y="509" width="9.12" height="10.5" fill="#000000"/>
<rect x="104.10" y="509" width="9.12" height="10.5" fill="#000000"/>
<rect x="113.22" y="509" width="9.12" height="10.5" fill="#000000"/>
<rect x="122.34" y="509" width="9.12" height="10.5" fill="#000000"/>
<rect x="131.46" y="509" width="9.12" height="10.5" fill="#000000"/>
<rect x="140.58" y="509" width="9.12" height="10.5" fill="#000000"/>
<rect x="149.70" y="509" width="9.12" height="10.5" fill="#141414"/>
<rect x="158.82" y="509" width="9.12" height="10.5" fill="#1d1d1d"/>
<rect x="167.94" y="509" width="9.12" height="10.5" fill="#262626"/>
<rect x="177.06" y="509" width="9.12" height="10.5" fill="#303030"/>
<rect x="186.18" y="509" width="9.12" height="10.5" fill="#393939"/>
<rect x="195.30" y="509" width="9.12" height="10.5" fill="#434343"/>
<rect x="204.42" y="509" width="9.12" height="10.5" fill="#4c4c4c"/>
<rect x="213.54" y="509" width="9.12" height="10.5" fill="#555555"/>
<rect x="222.66" y="509" width="9.12" height="10.5" fill="#5f5f5f"/>
<rect x="231.78" y="509" width="9.12" height="10.5" fill="#686868"/>
<rect x="240.90" y="509" width="9.12" height="10.5" fill="#727272"/>
<rect x="250.02" y="509" width="9.12" height="10.5" fill="#7b7b7b"/>
<rect x="259.14" y="509" width="9.12" height="10.5" fill="#848484"/>
<rect x="268.26" y="509" width="9.12" height="10.5" fill="#8e8e8e"/>
<rect x="277.38" y="509" width="9.12" height="10.5" fill="#979797"/>
<rect x="286.50" y="509" width="9.12" height="10.5" fill="#a1a1a1"/>
<rect x="295.62" y="509" width="9.12" height="10.5" fill="#aaaaaa"/>
<rect x="304.74" y="509" width="9.12" height="10.5" fill="#b3b3b3"/>
<rect x="313.86" y="509" width="9.12" height="10.5" fill="#bdbdbd"/>
<rect x="322.98" y="509" width="9.12" height="10.5" fill="#c6c6c6"/>
<rect x="332.10" y="509" width="9.12" height="10.5" fill="#d0d0d0"/>
<rect x="341.22" y="509" width="9.12" height="10.5" fill="#d9d9d9"/>
<rect x="350.34" y="509" width="9.12" height="10.5" fill="#e2e2e2"/>
<rect x="359.46" y="509" width="9.12" height="10.5" fill="#ececec"/>
<rect x="368.58" y="509" width="9.12" height="10.5" fill="#f5f5f5"/>
<rect x="377.70" y="509" width="9.12" height="10.5" fill="#ffffff"/>
<path d="M58.50 509H386.82M58.50 519.5H386.82M58.50 509V519.5M67.62 509V519.5M76.74 509V519.5M85.86 509V519.5M94.98 509V519.5M104.10 509V519.5M113.22 509V519.5M122.34 509V519.5M131.46 509V519.5M140.58 509V519.5M149.70 509V519.5M158.82 509V519.5M167.94 509V519.5M177.06 509V519.5M186.18 509V519.5M195.30 509V519.5M204.42 509V519.5M213.54 509V519.5M222.66 509V519.5M231.78 509V519.5M240.90 509V519.5M250.02 509V519.5M259.14 509V519.5M268.26 509V519.5M277.38 509V519.5M286.50 509V519.5M295.62 509V519.5M304.74 509V519.5M313.86 509V519.5M322.98 509V519.5M332.10 509V519.5M341.22 509V519.5M350.34 509V519.5M359.46 509V519.5M368.58 509V519.5M377.70 509V519.5M386.82 509V519.5" stroke="#000" stroke-width="1.6" fill="none"/>
<path d="M386.82 508.7L395.82 514.25L386.82 519.8Z" fill="#ffe800" stroke="#000" stroke-width="1.6" stroke-linejoin="miter"/>
<path d="M57.50 519.5h2V532l-1 2l-1 -2zM103.10 519.5h2V532l-1 2l-1 -2zM148.70 519.5h2V532l-1 2l-1 -2zM194.30 519.5h2V532l-1 2l-1 -2zM239.90 519.5h2V532l-1 2l-1 -2zM285.50 519.5h2V532l-1 2l-1 -2zM331.10 519.5h2V532l-1 2l-1 -2zM376.70 519.5h2V532l-1 2l-1 -2zM66.47 519.5h2.3l-1.15 7.2zM75.59 519.5h2.3l-1.15 7.2zM84.71 519.5h2.3l-1.15 7.2zM93.83 519.5h2.3l-1.15 7.2zM112.07 519.5h2.3l-1.15 7.2zM121.19 519.5h2.3l-1.15 7.2zM130.31 519.5h2.3l-1.15 7.2zM139.43 519.5h2.3l-1.15 7.2zM157.67 519.5h2.3l-1.15 7.2zM166.79 519.5h2.3l-1.15 7.2zM175.91 519.5h2.3l-1.15 7.2zM185.03 519.5h2.3l-1.15 7.2zM203.27 519.5h2.3l-1.15 7.2zM212.39 519.5h2.3l-1.15 7.2zM221.51 519.5h2.3l-1.15 7.2zM230.63 519.5h2.3l-1.15 7.2zM248.87 519.5h2.3l-1.15 7.2zM257.99 519.5h2.3l-1.15 7.2zM267.11 519.5h2.3l-1.15 7.2zM276.23 519.5h2.3l-1.15 7.2zM294.47 519.5h2.3l-1.15 7.2zM303.59 519.5h2.3l-1.15 7.2zM312.71 519.5h2.3l-1.15 7.2zM321.83 519.5h2.3l-1.15 7.2zM340.07 519.5h2.3l-1.15 7.2zM349.19 519.5h2.3l-1.15 7.2zM358.31 519.5h2.3l-1.15 7.2zM367.43 519.5h2.3l-1.15 7.2zM385.67 519.5h2.3l-1.15 7.2z" fill="#000"/>
<text x="58.5" y="569.3" font-size="28" text-anchor="middle" >0</text>
<text x="104.1" y="569.3" font-size="28" text-anchor="middle" >2.5</text>
<text x="149.7" y="569.3" font-size="28" text-anchor="middle" >5</text>
<text x="195.3" y="569.3" font-size="28" text-anchor="middle" >7.5</text>
<text x="240.9" y="569.3" font-size="28" text-anchor="middle" >10</text>
<text x="286.5" y="569.3" font-size="28" text-anchor="middle" >12.5</text>
<text x="332.1" y="569.3" font-size="28" text-anchor="middle" >15</text>
<text x="377.7" y="569.3" font-size="28" text-anchor="middle" >17.5</text>
<rect x="480.00" y="509" width="8.62" height="10.5" fill="#dcffff"/>
<rect x="488.62" y="509" width="8.62" height="10.5" fill="#c0ffff"/>
<rect x="497.25" y="509" width="8.62" height="10.5" fill="#a8fcff"/>
<rect x="505.88" y="509" width="8.62" height="10.5" fill="#90f8ff"/>
<rect x="514.50" y="509" width="8.62" height="10.5" fill="#78f0ff"/>
<rect x="523.12" y="509" width="8.62" height="10.5" fill="#58e0f8"/>
<rect x="531.75" y="509" width="8.62" height="10.5" fill="#40ccf8"/>
<rect x="540.38" y="509" width="8.62" height="10.5" fill="#30b8f8"/>
<rect x="549.00" y="509" width="8.62" height="10.5" fill="#20a0f0"/>
<rect x="557.62" y="509" width="8.62" height="10.5" fill="#1088f0"/>
<rect x="566.25" y="509" width="8.62" height="10.5" fill="#1070e8"/>
<rect x="574.88" y="509" width="8.62" height="10.5" fill="#0850e8"/>
<rect x="583.50" y="509" width="8.62" height="10.5" fill="#0828f0"/>
<rect x="592.12" y="509" width="8.62" height="10.5" fill="#0010f0"/>
<rect x="600.75" y="509" width="8.62" height="10.5" fill="#0008d8"/>
<rect x="609.38" y="509" width="8.62" height="10.5" fill="#0000b8"/>
<rect x="618.00" y="509" width="8.62" height="10.5" fill="#0000a0"/>
<rect x="626.62" y="509" width="8.62" height="10.5" fill="#000088"/>
<rect x="635.25" y="509" width="8.62" height="10.5" fill="#000068"/>
<rect x="643.88" y="509" width="8.62" height="10.5" fill="#f00000"/>
<rect x="652.50" y="509" width="8.62" height="10.5" fill="#f81800"/>
<rect x="661.12" y="509" width="8.62" height="10.5" fill="#ff3000"/>
<rect x="669.75" y="509" width="8.62" height="10.5" fill="#ff4800"/>
<rect x="678.38" y="509" width="8.62" height="10.5" fill="#ff6000"/>
<rect x="687.00" y="509" width="8.62" height="10.5" fill="#ff7400"/>
<rect x="695.62" y="509" width="8.62" height="10.5" fill="#ff8808"/>
<rect x="704.25" y="509" width="8.62" height="10.5" fill="#ff9c10"/>
<rect x="712.88" y="509" width="8.62" height="10.5" fill="#ffb420"/>
<rect x="721.50" y="509" width="8.62" height="10.5" fill="#ffc030"/>
<rect x="730.12" y="509" width="8.62" height="10.5" fill="#ffd840"/>
<rect x="738.75" y="509" width="8.62" height="10.5" fill="#fff850"/>
<rect x="747.38" y="509" width="8.62" height="10.5" fill="#ffff60"/>
<rect x="756.00" y="509" width="8.62" height="10.5" fill="#ffff70"/>
<rect x="764.62" y="509" width="8.62" height="10.5" fill="#ffff88"/>
<rect x="773.25" y="509" width="8.62" height="10.5" fill="#ffffa0"/>
<rect x="781.88" y="509" width="8.62" height="10.5" fill="#ffffb8"/>
<rect x="790.50" y="509" width="8.62" height="10.5" fill="#ffffd0"/>
<rect x="799.12" y="509" width="8.62" height="10.5" fill="#ffffe0"/>
<path d="M480.00 509H807.75M480.00 519.5H807.75M480.00 509V519.5M488.62 509V519.5M497.25 509V519.5M505.88 509V519.5M514.50 509V519.5M523.12 509V519.5M531.75 509V519.5M540.38 509V519.5M549.00 509V519.5M557.62 509V519.5M566.25 509V519.5M574.88 509V519.5M583.50 509V519.5M592.12 509V519.5M600.75 509V519.5M609.38 509V519.5M618.00 509V519.5M626.62 509V519.5M635.25 509V519.5M643.88 509V519.5M652.50 509V519.5M661.12 509V519.5M669.75 509V519.5M678.38 509V519.5M687.00 509V519.5M695.62 509V519.5M704.25 509V519.5M712.88 509V519.5M721.50 509V519.5M730.12 509V519.5M738.75 509V519.5M747.38 509V519.5M756.00 509V519.5M764.62 509V519.5M773.25 509V519.5M781.88 509V519.5M790.50 509V519.5M799.12 509V519.5M807.75 509V519.5" stroke="#000" stroke-width="1.6" fill="none"/>
<path d="M480.00 508.7L471.00 514.25L480.00 519.8Z" fill="#e8ffff" stroke="#000" stroke-width="1.6" stroke-linejoin="miter"/>
<path d="M807.75 508.7L816.75 514.25L807.75 519.8Z" fill="#fffff0" stroke="#000" stroke-width="1.6" stroke-linejoin="miter"/>
<path d="M504.88 519.5h2V532l-1 2l-1 -2zM573.88 519.5h2V532l-1 2l-1 -2zM642.88 519.5h2V532l-1 2l-1 -2zM711.88 519.5h2V532l-1 2l-1 -2zM780.88 519.5h2V532l-1 2l-1 -2zM478.85 519.5h2.3l-1.15 7.2zM487.48 519.5h2.3l-1.15 7.2zM496.10 519.5h2.3l-1.15 7.2zM513.35 519.5h2.3l-1.15 7.2zM521.98 519.5h2.3l-1.15 7.2zM530.60 519.5h2.3l-1.15 7.2zM539.23 519.5h2.3l-1.15 7.2zM547.85 519.5h2.3l-1.15 7.2zM556.48 519.5h2.3l-1.15 7.2zM565.10 519.5h2.3l-1.15 7.2zM582.35 519.5h2.3l-1.15 7.2zM590.98 519.5h2.3l-1.15 7.2zM599.60 519.5h2.3l-1.15 7.2zM608.23 519.5h2.3l-1.15 7.2zM616.85 519.5h2.3l-1.15 7.2zM625.48 519.5h2.3l-1.15 7.2zM634.10 519.5h2.3l-1.15 7.2zM651.35 519.5h2.3l-1.15 7.2zM659.98 519.5h2.3l-1.15 7.2zM668.60 519.5h2.3l-1.15 7.2zM677.23 519.5h2.3l-1.15 7.2zM685.85 519.5h2.3l-1.15 7.2zM694.48 519.5h2.3l-1.15 7.2zM703.10 519.5h2.3l-1.15 7.2zM720.35 519.5h2.3l-1.15 7.2zM728.98 519.5h2.3l-1.15 7.2zM737.60 519.5h2.3l-1.15 7.2zM746.23 519.5h2.3l-1.15 7.2zM754.85 519.5h2.3l-1.15 7.2zM763.48 519.5h2.3l-1.15 7.2zM772.10 519.5h2.3l-1.15 7.2zM789.35 519.5h2.3l-1.15 7.2zM797.98 519.5h2.3l-1.15 7.2zM806.60 519.5h2.3l-1.15 7.2z" fill="#000"/>
<text x="505.9" y="569.3" font-size="28" text-anchor="middle" >−8</text>
<text x="574.9" y="569.3" font-size="28" text-anchor="middle" >−4</text>
<text x="643.9" y="569.3" font-size="28" text-anchor="middle" >0</text>
<text x="712.9" y="569.3" font-size="28" text-anchor="middle" >4</text>
<text x="781.9" y="569.3" font-size="28" text-anchor="middle" >8</text>
</svg>
</body></html>
